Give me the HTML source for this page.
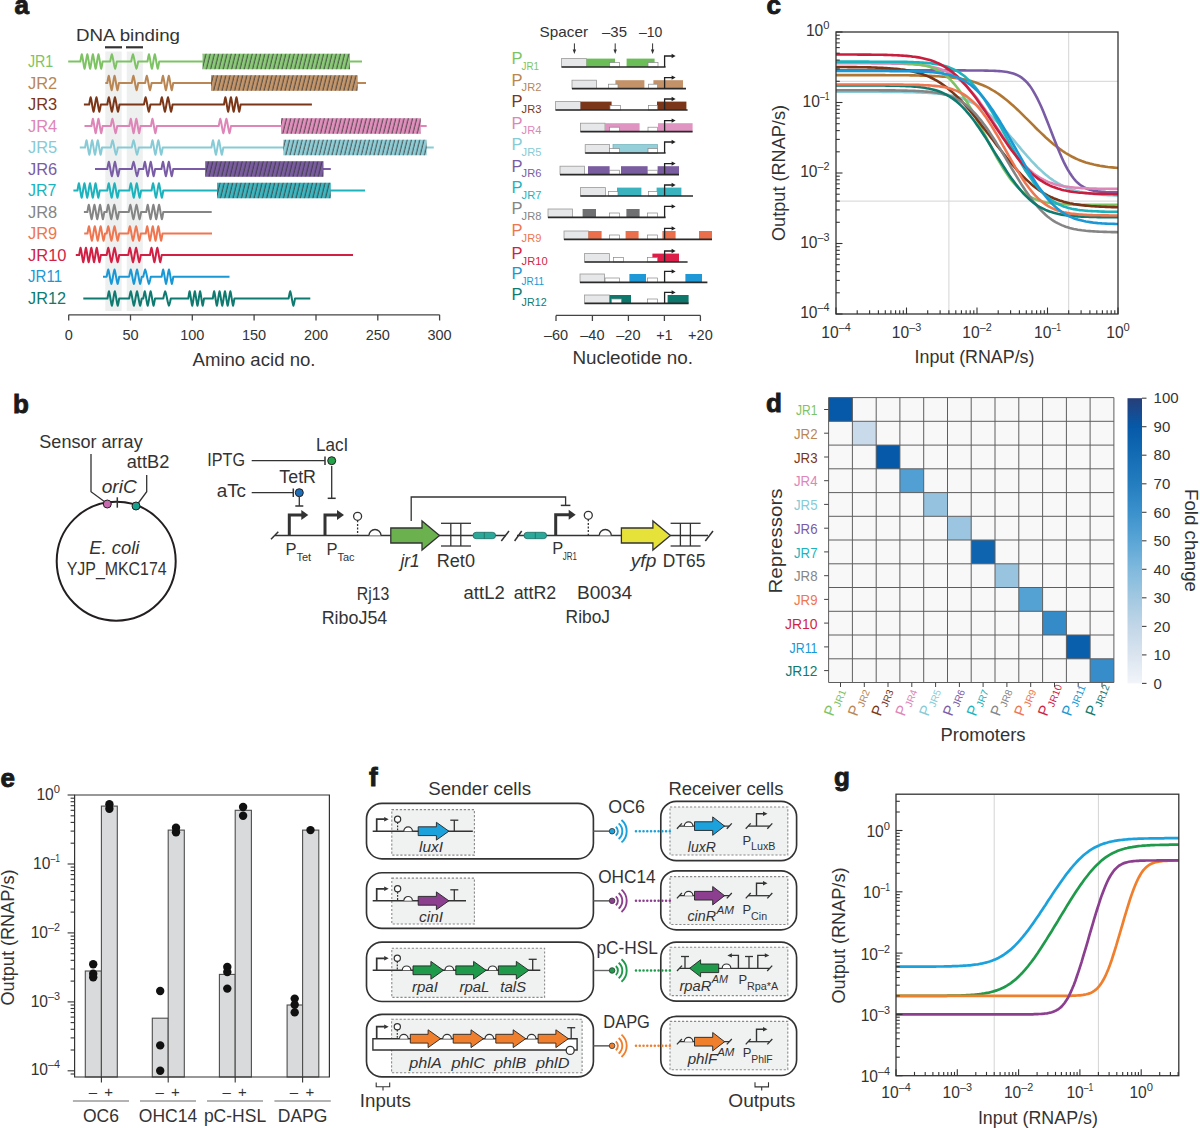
<!DOCTYPE html><html><head><meta charset="utf-8"><style>html,body{margin:0;padding:0;background:#fff;}svg{display:block;font-family:"Liberation Sans",sans-serif;}</style></head><body><svg width="1200" height="1128" viewBox="0 0 1200 1128" fill="#333333"><text x="14.5" y="14.2" font-size="26" font-weight="bold" fill="#1a1a1a" stroke="#1a1a1a" stroke-width="0.9">a</text>
<rect x="105.3" y="51.5" width="16.4" height="259.5" fill="#eef0f0"/>
<rect x="126.7" y="51.5" width="16.1" height="259.5" fill="#eef0f0"/>
<text x="76.0" y="41.0" font-size="17" textLength="104.0" lengthAdjust="spacingAndGlyphs">DNA binding</text>
<line x1="105.0" y1="47.3" x2="122.0" y2="47.3" stroke="#333333" stroke-width="2.2"/>
<line x1="126.0" y1="47.3" x2="143.0" y2="47.3" stroke="#333333" stroke-width="2.2"/>
<defs>
<pattern id="hJR1" patternUnits="userSpaceOnUse" width="4.2" height="16" patternTransform="skewX(-14)"><rect width="4.2" height="16" fill="#8ac978"/><line x1="1" y1="0" x2="1" y2="16" stroke="#333" stroke-width="0.85"/></pattern>
<pattern id="hJR2" patternUnits="userSpaceOnUse" width="4.2" height="16" patternTransform="skewX(-14)"><rect width="4.2" height="16" fill="#c3956a"/><line x1="1" y1="0" x2="1" y2="16" stroke="#333" stroke-width="0.85"/></pattern>
<pattern id="hJR4" patternUnits="userSpaceOnUse" width="4.2" height="16" patternTransform="skewX(-14)"><rect width="4.2" height="16" fill="#e08fbd"/><line x1="1" y1="0" x2="1" y2="16" stroke="#333" stroke-width="0.85"/></pattern>
<pattern id="hJR5" patternUnits="userSpaceOnUse" width="4.2" height="16" patternTransform="skewX(-14)"><rect width="4.2" height="16" fill="#8fcdd6"/><line x1="1" y1="0" x2="1" y2="16" stroke="#333" stroke-width="0.85"/></pattern>
<pattern id="hJR6" patternUnits="userSpaceOnUse" width="4.2" height="16" patternTransform="skewX(-14)"><rect width="4.2" height="16" fill="#7a5ca0"/><line x1="1" y1="0" x2="1" y2="16" stroke="#333" stroke-width="0.85"/></pattern>
<pattern id="hJR7" patternUnits="userSpaceOnUse" width="4.2" height="16" patternTransform="skewX(-14)"><rect width="4.2" height="16" fill="#3db6c0"/><line x1="1" y1="0" x2="1" y2="16" stroke="#333" stroke-width="0.85"/></pattern>
</defs>
<text x="28.0" y="67.1" font-size="17" textLength="25.2" lengthAdjust="spacingAndGlyphs" fill="#7dc363">JR1</text>
<path d="M68.20 61.50 L80.40 61.50 L80.63 60.00 L80.86 58.56 L81.09 57.23 L81.33 56.05 L81.56 55.07 L81.79 54.30 L82.02 55.07 L82.25 56.05 L82.48 57.23 L82.71 58.56 L82.94 60.00 L83.18 61.50 L83.41 63.00 L83.64 64.44 L83.87 65.77 L84.10 66.95 L84.33 67.93 L84.56 68.70 L84.79 67.93 L85.03 66.95 L85.26 65.77 L85.49 64.44 L85.72 63.00 L85.95 61.50 L86.18 60.00 L86.41 58.56 L86.64 57.23 L86.88 56.05 L87.11 55.07 L87.34 54.30 L87.57 55.07 L87.80 56.05 L88.03 57.23 L88.26 58.56 L88.49 60.00 L88.72 61.50 L88.96 63.00 L89.19 64.44 L89.42 65.77 L89.65 66.95 L89.88 67.93 L90.11 68.70 L90.34 67.93 L90.58 66.95 L90.81 65.77 L91.04 64.44 L91.27 63.00 L91.50 61.50 L91.73 60.00 L91.96 58.56 L92.19 57.23 L92.42 56.05 L92.66 55.07 L92.89 54.30 L93.12 55.07 L93.35 56.05 L93.58 57.23 L93.81 58.56 L94.04 60.00 L94.28 61.50 L94.51 63.00 L94.74 64.44 L94.97 65.77 L95.20 66.95 L95.43 67.93 L95.66 68.70 L95.89 67.93 L96.12 66.95 L96.36 65.77 L96.59 64.44 L96.82 63.00 L97.05 61.50 L97.28 60.00 L97.51 58.56 L97.74 57.23 L97.97 56.05 L98.21 55.07 L98.44 54.30 L98.67 55.07 L98.90 56.05 L99.13 57.23 L99.36 58.56 L99.59 60.00 L99.82 61.50 L100.06 63.00 L100.29 64.44 L100.52 65.77 L100.75 66.95 L100.98 67.93 L101.21 68.70 L101.44 67.93 L101.67 66.95 L101.91 65.77 L102.14 64.44 L102.37 63.00 L102.60 61.50 L110.20 61.50 L110.48 60.00 L110.75 58.56 L111.03 57.23 L111.30 56.05 L111.58 55.07 L111.85 54.30 L112.12 55.07 L112.40 56.05 L112.67 57.23 L112.95 58.56 L113.22 60.00 L113.50 61.50 L113.78 63.00 L114.05 64.44 L114.33 65.77 L114.60 66.95 L114.88 67.93 L115.15 68.70 L115.42 67.93 L115.70 66.95 L115.97 65.77 L116.25 64.44 L116.52 63.00 L116.80 61.50 L131.20 61.50 L131.49 60.00 L131.78 58.56 L132.07 57.23 L132.37 56.05 L132.66 55.07 L132.95 54.30 L133.24 55.07 L133.53 56.05 L133.82 57.23 L134.12 58.56 L134.41 60.00 L134.70 61.50 L134.99 63.00 L135.28 64.44 L135.57 65.77 L135.87 66.95 L136.16 67.93 L136.45 68.70 L136.74 67.93 L137.03 66.95 L137.32 65.77 L137.62 64.44 L137.91 63.00 L138.20 61.50 L147.50 61.50 L147.74 60.00 L147.99 58.56 L148.23 57.23 L148.47 56.05 L148.72 55.07 L148.96 54.30 L149.21 55.07 L149.45 56.05 L149.69 57.23 L149.94 58.56 L150.18 60.00 L150.43 61.50 L150.67 63.00 L150.91 64.44 L151.16 65.77 L151.40 66.95 L151.64 67.93 L151.89 68.70 L152.13 67.93 L152.38 66.95 L152.62 65.77 L152.86 64.44 L153.11 63.00 L153.35 61.50 L153.59 60.00 L153.84 58.56 L154.08 57.23 L154.32 56.05 L154.57 55.07 L154.81 54.30 L155.06 55.07 L155.30 56.05 L155.54 57.23 L155.79 58.56 L156.03 60.00 L156.27 61.50 L156.52 63.00 L156.76 64.44 L157.01 65.77 L157.25 66.95 L157.49 67.93 L157.74 68.70 L157.98 67.93 L158.22 66.95 L158.47 65.77 L158.71 64.44 L158.96 63.00 L159.20 61.50 L362.00 61.50" stroke="#7dc363" stroke-width="2.0" fill="none" stroke-linejoin="round"/>
<rect x="202.5" y="53.7" width="147.5" height="15.6" fill="url(#hJR1)"/>
<text x="28.0" y="88.6" font-size="17" textLength="29.2" lengthAdjust="spacingAndGlyphs" fill="#b98654">JR2</text>
<path d="M105.30 83.00 L107.30 83.00 L107.54 81.50 L107.78 80.06 L108.02 78.73 L108.27 77.55 L108.51 76.57 L108.75 75.80 L108.99 76.57 L109.23 77.55 L109.47 78.73 L109.72 80.06 L109.96 81.50 L110.20 83.00 L110.44 84.50 L110.68 85.94 L110.92 87.27 L111.17 88.45 L111.41 89.43 L111.65 90.20 L111.89 89.43 L112.13 88.45 L112.38 87.27 L112.62 85.94 L112.86 84.50 L113.10 83.00 L113.34 81.50 L113.58 80.06 L113.83 78.73 L114.07 77.55 L114.31 76.57 L114.55 75.80 L114.79 76.57 L115.03 77.55 L115.28 78.73 L115.52 80.06 L115.76 81.50 L116.00 83.00 L116.24 84.50 L116.48 85.94 L116.73 87.27 L116.97 88.45 L117.21 89.43 L117.45 90.20 L117.69 89.43 L117.93 88.45 L118.18 87.27 L118.42 85.94 L118.66 84.50 L118.90 83.00 L131.80 83.00 L132.07 81.50 L132.33 80.06 L132.60 78.73 L132.87 77.55 L133.13 76.57 L133.40 75.80 L133.67 76.57 L133.93 77.55 L134.20 78.73 L134.47 80.06 L134.73 81.50 L135.00 83.00 L135.27 84.50 L135.53 85.94 L135.80 87.27 L136.07 88.45 L136.33 89.43 L136.60 90.20 L136.87 89.43 L137.13 88.45 L137.40 87.27 L137.67 85.94 L137.93 84.50 L138.20 83.00 L145.20 83.00 L145.47 81.50 L145.73 80.06 L146.00 78.73 L146.27 77.55 L146.53 76.57 L146.80 75.80 L147.07 76.57 L147.33 77.55 L147.60 78.73 L147.87 80.06 L148.13 81.50 L148.40 83.00 L148.67 84.50 L148.93 85.94 L149.20 87.27 L149.47 88.45 L149.73 89.43 L150.00 90.20 L150.27 89.43 L150.53 88.45 L150.80 87.27 L151.07 85.94 L151.33 84.50 L151.60 83.00 L161.50 83.00 L161.74 81.50 L161.99 80.06 L162.23 78.73 L162.47 77.55 L162.72 76.57 L162.96 75.80 L163.21 76.57 L163.45 77.55 L163.69 78.73 L163.94 80.06 L164.18 81.50 L164.43 83.00 L164.67 84.50 L164.91 85.94 L165.16 87.27 L165.40 88.45 L165.64 89.43 L165.89 90.20 L166.13 89.43 L166.38 88.45 L166.62 87.27 L166.86 85.94 L167.11 84.50 L167.35 83.00 L167.59 81.50 L167.84 80.06 L168.08 78.73 L168.32 77.55 L168.57 76.57 L168.81 75.80 L169.06 76.57 L169.30 77.55 L169.54 78.73 L169.79 80.06 L170.03 81.50 L170.27 83.00 L170.52 84.50 L170.76 85.94 L171.01 87.27 L171.25 88.45 L171.49 89.43 L171.74 90.20 L171.98 89.43 L172.22 88.45 L172.47 87.27 L172.71 85.94 L172.96 84.50 L173.20 83.00 L366.00 83.00" stroke="#b98654" stroke-width="2.0" fill="none" stroke-linejoin="round"/>
<rect x="211.0" y="75.2" width="146.7" height="15.6" fill="url(#hJR2)"/>
<text x="28.0" y="110.1" font-size="17" textLength="29.2" lengthAdjust="spacingAndGlyphs" fill="#7b3517">JR3</text>
<path d="M83.90 104.50 L89.20 104.50 L89.44 103.00 L89.68 101.56 L89.92 100.23 L90.17 99.05 L90.41 98.07 L90.65 97.30 L90.89 98.07 L91.13 99.05 L91.38 100.23 L91.62 101.56 L91.86 103.00 L92.10 104.50 L92.34 106.00 L92.58 107.44 L92.83 108.77 L93.07 109.95 L93.31 110.93 L93.55 111.70 L93.79 110.93 L94.03 109.95 L94.28 108.77 L94.52 107.44 L94.76 106.00 L95.00 104.50 L95.24 103.00 L95.48 101.56 L95.72 100.23 L95.97 99.05 L96.21 98.07 L96.45 97.30 L96.69 98.07 L96.93 99.05 L97.17 100.23 L97.42 101.56 L97.66 103.00 L97.90 104.50 L98.14 106.00 L98.38 107.44 L98.62 108.77 L98.87 109.95 L99.11 110.93 L99.35 111.70 L99.59 110.93 L99.83 109.95 L100.08 108.77 L100.32 107.44 L100.56 106.00 L100.80 104.50 L107.30 104.50 L107.55 103.00 L107.81 101.56 L108.06 100.23 L108.32 99.05 L108.57 98.07 L108.83 97.30 L109.08 98.07 L109.33 99.05 L109.59 100.23 L109.84 101.56 L110.10 103.00 L110.35 104.50 L110.60 106.00 L110.86 107.44 L111.11 108.77 L111.37 109.95 L111.62 110.93 L111.88 111.70 L112.13 110.93 L112.38 109.95 L112.64 108.77 L112.89 107.44 L113.15 106.00 L113.40 104.50 L113.65 103.00 L113.91 101.56 L114.16 100.23 L114.42 99.05 L114.67 98.07 L114.92 97.30 L115.18 98.07 L115.43 99.05 L115.69 100.23 L115.94 101.56 L116.20 103.00 L116.45 104.50 L116.70 106.00 L116.96 107.44 L117.21 108.77 L117.47 109.95 L117.72 110.93 L117.97 111.70 L118.23 110.93 L118.48 109.95 L118.74 108.77 L118.99 107.44 L119.25 106.00 L119.50 104.50 L144.00 104.50 L144.27 103.00 L144.53 101.56 L144.80 100.23 L145.07 99.05 L145.33 98.07 L145.60 97.30 L145.87 98.07 L146.13 99.05 L146.40 100.23 L146.67 101.56 L146.93 103.00 L147.20 104.50 L147.47 106.00 L147.73 107.44 L148.00 108.77 L148.27 109.95 L148.53 110.93 L148.80 111.70 L149.07 110.93 L149.33 109.95 L149.60 108.77 L149.87 107.44 L150.13 106.00 L150.40 104.50 L160.30 104.50 L160.56 103.00 L160.81 101.56 L161.07 100.23 L161.33 99.05 L161.58 98.07 L161.84 97.30 L162.09 98.07 L162.35 99.05 L162.61 100.23 L162.86 101.56 L163.12 103.00 L163.38 104.50 L163.63 106.00 L163.89 107.44 L164.14 108.77 L164.40 109.95 L164.66 110.93 L164.91 111.70 L165.17 110.93 L165.43 109.95 L165.68 108.77 L165.94 107.44 L166.19 106.00 L166.45 104.50 L166.71 103.00 L166.96 101.56 L167.22 100.23 L167.47 99.05 L167.73 98.07 L167.99 97.30 L168.24 98.07 L168.50 99.05 L168.76 100.23 L169.01 101.56 L169.27 103.00 L169.53 104.50 L169.78 106.00 L170.04 107.44 L170.29 108.77 L170.55 109.95 L170.81 110.93 L171.06 111.70 L171.32 110.93 L171.57 109.95 L171.83 108.77 L172.09 107.44 L172.34 106.00 L172.60 104.50 L224.00 104.50 L224.23 103.00 L224.46 101.56 L224.69 100.23 L224.92 99.05 L225.15 98.07 L225.38 97.30 L225.61 98.07 L225.84 99.05 L226.07 100.23 L226.31 101.56 L226.54 103.00 L226.77 104.50 L227.00 106.00 L227.23 107.44 L227.46 108.77 L227.69 109.95 L227.92 110.93 L228.15 111.70 L228.38 110.93 L228.61 109.95 L228.84 108.77 L229.07 107.44 L229.30 106.00 L229.53 104.50 L229.76 103.00 L229.99 101.56 L230.22 100.23 L230.46 99.05 L230.69 98.07 L230.92 97.30 L231.15 98.07 L231.38 99.05 L231.61 100.23 L231.84 101.56 L232.07 103.00 L232.30 104.50 L232.53 106.00 L232.76 107.44 L232.99 108.77 L233.22 109.95 L233.45 110.93 L233.68 111.70 L233.91 110.93 L234.14 109.95 L234.38 108.77 L234.61 107.44 L234.84 106.00 L235.07 104.50 L235.30 103.00 L235.53 101.56 L235.76 100.23 L235.99 99.05 L236.22 98.07 L236.45 97.30 L236.68 98.07 L236.91 99.05 L237.14 100.23 L237.37 101.56 L237.60 103.00 L237.83 104.50 L238.06 106.00 L238.29 107.44 L238.53 108.77 L238.76 109.95 L238.99 110.93 L239.22 111.70 L239.45 110.93 L239.68 109.95 L239.91 108.77 L240.14 107.44 L240.37 106.00 L240.60 104.50 L311.90 104.50" stroke="#7b3517" stroke-width="2.0" fill="none" stroke-linejoin="round"/>
<text x="28.0" y="131.6" font-size="17" textLength="29.2" lengthAdjust="spacingAndGlyphs" fill="#de86b8">JR4</text>
<path d="M84.50 126.00 L91.50 126.00 L91.73 124.50 L91.96 123.06 L92.19 121.73 L92.42 120.55 L92.66 119.57 L92.89 118.80 L93.12 119.57 L93.35 120.55 L93.58 121.73 L93.81 123.06 L94.04 124.50 L94.28 126.00 L94.51 127.50 L94.74 128.94 L94.97 130.27 L95.20 131.45 L95.43 132.43 L95.66 133.20 L95.89 132.43 L96.12 131.45 L96.36 130.27 L96.59 128.94 L96.82 127.50 L97.05 126.00 L97.28 124.50 L97.51 123.06 L97.74 121.73 L97.97 120.55 L98.21 119.57 L98.44 118.80 L98.67 119.57 L98.90 120.55 L99.13 121.73 L99.36 123.06 L99.59 124.50 L99.82 126.00 L100.06 127.50 L100.29 128.94 L100.52 130.27 L100.75 131.45 L100.98 132.43 L101.21 133.20 L101.44 132.43 L101.67 131.45 L101.91 130.27 L102.14 128.94 L102.37 127.50 L102.60 126.00 L110.80 126.00 L111.07 124.50 L111.33 123.06 L111.60 121.73 L111.87 120.55 L112.13 119.57 L112.40 118.80 L112.67 119.57 L112.93 120.55 L113.20 121.73 L113.47 123.06 L113.73 124.50 L114.00 126.00 L114.27 127.50 L114.53 128.94 L114.80 130.27 L115.07 131.45 L115.33 132.43 L115.60 133.20 L115.87 132.43 L116.13 131.45 L116.40 130.27 L116.67 128.94 L116.93 127.50 L117.20 126.00 L129.40 126.00 L129.63 124.50 L129.86 123.06 L130.09 121.73 L130.33 120.55 L130.56 119.57 L130.79 118.80 L131.02 119.57 L131.25 120.55 L131.48 121.73 L131.71 123.06 L131.94 124.50 L132.18 126.00 L132.41 127.50 L132.64 128.94 L132.87 130.27 L133.10 131.45 L133.33 132.43 L133.56 133.20 L133.79 132.43 L134.03 131.45 L134.26 130.27 L134.49 128.94 L134.72 127.50 L134.95 126.00 L135.18 124.50 L135.41 123.06 L135.64 121.73 L135.88 120.55 L136.11 119.57 L136.34 118.80 L136.57 119.57 L136.80 120.55 L137.03 121.73 L137.26 123.06 L137.49 124.50 L137.72 126.00 L137.96 127.50 L138.19 128.94 L138.42 130.27 L138.65 131.45 L138.88 132.43 L139.11 133.20 L139.34 132.43 L139.57 131.45 L139.81 130.27 L140.04 128.94 L140.27 127.50 L140.50 126.00 L151.00 126.00 L151.24 124.50 L151.48 123.06 L151.72 121.73 L151.97 120.55 L152.21 119.57 L152.45 118.80 L152.69 119.57 L152.93 120.55 L153.18 121.73 L153.42 123.06 L153.66 124.50 L153.90 126.00 L154.14 127.50 L154.38 128.94 L154.62 130.27 L154.87 131.45 L155.11 132.43 L155.35 133.20 L155.59 132.43 L155.83 131.45 L156.08 130.27 L156.32 128.94 L156.56 127.50 L156.80 126.00 L218.75 126.00 L219.01 124.50 L219.26 123.06 L219.52 121.73 L219.77 120.55 L220.03 119.57 L220.28 118.80 L220.54 119.57 L220.79 120.55 L221.05 121.73 L221.30 123.06 L221.56 124.50 L221.81 126.00 L222.07 127.50 L222.32 128.94 L222.58 130.27 L222.83 131.45 L223.09 132.43 L223.34 133.20 L223.60 132.43 L223.85 131.45 L224.11 130.27 L224.36 128.94 L224.62 127.50 L224.88 126.00 L225.13 124.50 L225.39 123.06 L225.64 121.73 L225.90 120.55 L226.15 119.57 L226.41 118.80 L226.66 119.57 L226.92 120.55 L227.17 121.73 L227.43 123.06 L227.68 124.50 L227.94 126.00 L228.19 127.50 L228.45 128.94 L228.70 130.27 L228.96 131.45 L229.21 132.43 L229.47 133.20 L229.72 132.43 L229.98 131.45 L230.23 130.27 L230.49 128.94 L230.74 127.50 L231.00 126.00 L426.70 126.00" stroke="#de86b8" stroke-width="2.0" fill="none" stroke-linejoin="round"/>
<rect x="281.0" y="118.2" width="139.8" height="15.6" fill="url(#hJR4)"/>
<text x="28.0" y="153.1" font-size="17" textLength="29.2" lengthAdjust="spacingAndGlyphs" fill="#86cbd6">JR5</text>
<path d="M79.80 147.50 L85.10 147.50 L85.33 146.00 L85.57 144.56 L85.80 143.23 L86.04 142.05 L86.27 141.07 L86.51 140.30 L86.74 141.07 L86.98 142.05 L87.21 143.23 L87.45 144.56 L87.68 146.00 L87.92 147.50 L88.15 149.00 L88.39 150.44 L88.62 151.77 L88.86 152.95 L89.09 153.93 L89.32 154.70 L89.56 153.93 L89.79 152.95 L90.03 151.77 L90.26 150.44 L90.50 149.00 L90.73 147.50 L90.97 146.00 L91.20 144.56 L91.44 143.23 L91.67 142.05 L91.91 141.07 L92.14 140.30 L92.38 141.07 L92.61 142.05 L92.85 143.23 L93.08 144.56 L93.32 146.00 L93.55 147.50 L93.78 149.00 L94.02 150.44 L94.25 151.77 L94.49 152.95 L94.72 153.93 L94.96 154.70 L95.19 153.93 L95.43 152.95 L95.66 151.77 L95.90 150.44 L96.13 149.00 L96.37 147.50 L96.60 146.00 L96.84 144.56 L97.07 143.23 L97.31 142.05 L97.54 141.07 L97.78 140.30 L98.01 141.07 L98.24 142.05 L98.48 143.23 L98.71 144.56 L98.95 146.00 L99.18 147.50 L99.42 149.00 L99.65 150.44 L99.89 151.77 L100.12 152.95 L100.36 153.93 L100.59 154.70 L100.83 153.93 L101.06 152.95 L101.30 151.77 L101.53 150.44 L101.77 149.00 L102.00 147.50 L110.80 147.50 L111.09 146.00 L111.38 144.56 L111.67 143.23 L111.97 142.05 L112.26 141.07 L112.55 140.30 L112.84 141.07 L113.13 142.05 L113.42 143.23 L113.72 144.56 L114.01 146.00 L114.30 147.50 L114.59 149.00 L114.88 150.44 L115.17 151.77 L115.47 152.95 L115.76 153.93 L116.05 154.70 L116.34 153.93 L116.63 152.95 L116.92 151.77 L117.22 150.44 L117.51 149.00 L117.80 147.50 L131.80 147.50 L132.09 146.00 L132.38 144.56 L132.68 143.23 L132.97 142.05 L133.26 141.07 L133.55 140.30 L133.84 141.07 L134.13 142.05 L134.43 143.23 L134.72 144.56 L135.01 146.00 L135.30 147.50 L135.59 149.00 L135.88 150.44 L136.18 151.77 L136.47 152.95 L136.76 153.93 L137.05 154.70 L137.34 153.93 L137.63 152.95 L137.93 151.77 L138.22 150.44 L138.51 149.00 L138.80 147.50 L151.00 147.50 L151.24 146.00 L151.49 144.56 L151.73 143.23 L151.97 142.05 L152.22 141.07 L152.46 140.30 L152.71 141.07 L152.95 142.05 L153.19 143.23 L153.44 144.56 L153.68 146.00 L153.93 147.50 L154.17 149.00 L154.41 150.44 L154.66 151.77 L154.90 152.95 L155.14 153.93 L155.39 154.70 L155.63 153.93 L155.88 152.95 L156.12 151.77 L156.36 150.44 L156.61 149.00 L156.85 147.50 L157.09 146.00 L157.34 144.56 L157.58 143.23 L157.82 142.05 L158.07 141.07 L158.31 140.30 L158.56 141.07 L158.80 142.05 L159.04 143.23 L159.29 144.56 L159.53 146.00 L159.77 147.50 L160.02 149.00 L160.26 150.44 L160.51 151.77 L160.75 152.95 L160.99 153.93 L161.24 154.70 L161.48 153.93 L161.72 152.95 L161.97 151.77 L162.21 150.44 L162.46 149.00 L162.70 147.50 L211.50 147.50 L211.75 146.00 L211.99 144.56 L212.24 143.23 L212.48 142.05 L212.73 141.07 L212.97 140.30 L213.22 141.07 L213.47 142.05 L213.71 143.23 L213.96 144.56 L214.20 146.00 L214.45 147.50 L214.70 149.00 L214.94 150.44 L215.19 151.77 L215.43 152.95 L215.68 153.93 L215.93 154.70 L216.17 153.93 L216.42 152.95 L216.66 151.77 L216.91 150.44 L217.15 149.00 L217.40 147.50 L217.65 146.00 L217.89 144.56 L218.14 143.23 L218.38 142.05 L218.63 141.07 L218.88 140.30 L219.12 141.07 L219.37 142.05 L219.61 143.23 L219.86 144.56 L220.10 146.00 L220.35 147.50 L220.60 149.00 L220.84 150.44 L221.09 151.77 L221.33 152.95 L221.58 153.93 L221.83 154.70 L222.07 153.93 L222.32 152.95 L222.56 151.77 L222.81 150.44 L223.05 149.00 L223.30 147.50 L433.75 147.50" stroke="#86cbd6" stroke-width="2.0" fill="none" stroke-linejoin="round"/>
<rect x="283.3" y="139.7" width="143.4" height="15.6" fill="url(#hJR5)"/>
<text x="28.0" y="174.6" font-size="17" textLength="29.2" lengthAdjust="spacingAndGlyphs" fill="#7a5ca6">JR6</text>
<path d="M95.00 169.00 L107.30 169.00 L107.55 167.50 L107.81 166.06 L108.06 164.73 L108.32 163.55 L108.57 162.57 L108.83 161.80 L109.08 162.57 L109.33 163.55 L109.59 164.73 L109.84 166.06 L110.10 167.50 L110.35 169.00 L110.60 170.50 L110.86 171.94 L111.11 173.27 L111.37 174.45 L111.62 175.43 L111.88 176.20 L112.13 175.43 L112.38 174.45 L112.64 173.27 L112.89 171.94 L113.15 170.50 L113.40 169.00 L113.65 167.50 L113.91 166.06 L114.16 164.73 L114.42 163.55 L114.67 162.57 L114.92 161.80 L115.18 162.57 L115.43 163.55 L115.69 164.73 L115.94 166.06 L116.20 167.50 L116.45 169.00 L116.70 170.50 L116.96 171.94 L117.21 173.27 L117.47 174.45 L117.72 175.43 L117.97 176.20 L118.23 175.43 L118.48 174.45 L118.74 173.27 L118.99 171.94 L119.25 170.50 L119.50 169.00 L131.80 169.00 L132.09 167.50 L132.38 166.06 L132.68 164.73 L132.97 163.55 L133.26 162.57 L133.55 161.80 L133.84 162.57 L134.13 163.55 L134.43 164.73 L134.72 166.06 L135.01 167.50 L135.30 169.00 L135.59 170.50 L135.88 171.94 L136.18 173.27 L136.47 174.45 L136.76 175.43 L137.05 176.20 L137.34 175.43 L137.63 174.45 L137.93 173.27 L138.22 171.94 L138.51 170.50 L138.80 169.00 L143.40 169.00 L143.64 167.50 L143.89 166.06 L144.13 164.73 L144.38 163.55 L144.62 162.57 L144.86 161.80 L145.11 162.57 L145.35 163.55 L145.59 164.73 L145.84 166.06 L146.08 167.50 L146.32 169.00 L146.57 170.50 L146.81 171.94 L147.06 173.27 L147.30 174.45 L147.54 175.43 L147.79 176.20 L148.03 175.43 L148.28 174.45 L148.52 173.27 L148.76 171.94 L149.01 170.50 L149.25 169.00 L149.49 167.50 L149.74 166.06 L149.98 164.73 L150.22 163.55 L150.47 162.57 L150.71 161.80 L150.96 162.57 L151.20 163.55 L151.44 164.73 L151.69 166.06 L151.93 167.50 L152.18 169.00 L152.42 170.50 L152.66 171.94 L152.91 173.27 L153.15 174.45 L153.39 175.43 L153.64 176.20 L153.88 175.43 L154.12 174.45 L154.37 173.27 L154.61 171.94 L154.86 170.50 L155.10 169.00 L161.50 169.00 L161.74 167.50 L161.99 166.06 L162.23 164.73 L162.47 163.55 L162.72 162.57 L162.96 161.80 L163.21 162.57 L163.45 163.55 L163.69 164.73 L163.94 166.06 L164.18 167.50 L164.43 169.00 L164.67 170.50 L164.91 171.94 L165.16 173.27 L165.40 174.45 L165.64 175.43 L165.89 176.20 L166.13 175.43 L166.38 174.45 L166.62 173.27 L166.86 171.94 L167.11 170.50 L167.35 169.00 L167.59 167.50 L167.84 166.06 L168.08 164.73 L168.32 163.55 L168.57 162.57 L168.81 161.80 L169.06 162.57 L169.30 163.55 L169.54 164.73 L169.79 166.06 L170.03 167.50 L170.27 169.00 L170.52 170.50 L170.76 171.94 L171.01 173.27 L171.25 174.45 L171.49 175.43 L171.74 176.20 L171.98 175.43 L172.22 174.45 L172.47 173.27 L172.71 171.94 L172.96 170.50 L173.20 169.00 L330.80 169.00" stroke="#7a5ca6" stroke-width="2.0" fill="none" stroke-linejoin="round"/>
<rect x="205.2" y="161.2" width="118.3" height="15.6" fill="url(#hJR6)"/>
<text x="28.0" y="196.1" font-size="17" textLength="28.4" lengthAdjust="spacingAndGlyphs" fill="#1db3bd">JR7</text>
<path d="M73.40 190.50 L77.50 190.50 L77.73 189.00 L77.96 187.56 L78.19 186.23 L78.42 185.05 L78.66 184.07 L78.89 183.30 L79.12 184.07 L79.35 185.05 L79.58 186.23 L79.81 187.56 L80.04 189.00 L80.28 190.50 L80.51 192.00 L80.74 193.44 L80.97 194.77 L81.20 195.95 L81.43 196.93 L81.66 197.70 L81.89 196.93 L82.12 195.95 L82.36 194.77 L82.59 193.44 L82.82 192.00 L83.05 190.50 L83.28 189.00 L83.51 187.56 L83.74 186.23 L83.97 185.05 L84.21 184.07 L84.44 183.30 L84.67 184.07 L84.90 185.05 L85.13 186.23 L85.36 187.56 L85.59 189.00 L85.83 190.50 L86.06 192.00 L86.29 193.44 L86.52 194.77 L86.75 195.95 L86.98 196.93 L87.21 197.70 L87.44 196.93 L87.67 195.95 L87.91 194.77 L88.14 193.44 L88.37 192.00 L88.60 190.50 L88.83 189.00 L89.06 187.56 L89.29 186.23 L89.53 185.05 L89.76 184.07 L89.99 183.30 L90.22 184.07 L90.45 185.05 L90.68 186.23 L90.91 187.56 L91.14 189.00 L91.38 190.50 L91.61 192.00 L91.84 193.44 L92.07 194.77 L92.30 195.95 L92.53 196.93 L92.76 197.70 L92.99 196.93 L93.23 195.95 L93.46 194.77 L93.69 193.44 L93.92 192.00 L94.15 190.50 L94.38 189.00 L94.61 187.56 L94.84 186.23 L95.08 185.05 L95.31 184.07 L95.54 183.30 L95.77 184.07 L96.00 185.05 L96.23 186.23 L96.46 187.56 L96.69 189.00 L96.93 190.50 L97.16 192.00 L97.39 193.44 L97.62 194.77 L97.85 195.95 L98.08 196.93 L98.31 197.70 L98.54 196.93 L98.78 195.95 L99.01 194.77 L99.24 193.44 L99.47 192.00 L99.70 190.50 L107.30 190.50 L107.54 189.00 L107.78 187.56 L108.02 186.23 L108.27 185.05 L108.51 184.07 L108.75 183.30 L108.99 184.07 L109.23 185.05 L109.47 186.23 L109.72 187.56 L109.96 189.00 L110.20 190.50 L110.44 192.00 L110.68 193.44 L110.92 194.77 L111.17 195.95 L111.41 196.93 L111.65 197.70 L111.89 196.93 L112.13 195.95 L112.38 194.77 L112.62 193.44 L112.86 192.00 L113.10 190.50 L113.34 189.00 L113.58 187.56 L113.83 186.23 L114.07 185.05 L114.31 184.07 L114.55 183.30 L114.79 184.07 L115.03 185.05 L115.28 186.23 L115.52 187.56 L115.76 189.00 L116.00 190.50 L116.24 192.00 L116.48 193.44 L116.73 194.77 L116.97 195.95 L117.21 196.93 L117.45 197.70 L117.69 196.93 L117.93 195.95 L118.18 194.77 L118.42 193.44 L118.66 192.00 L118.90 190.50 L129.40 190.50 L129.64 189.00 L129.89 187.56 L130.13 186.23 L130.38 185.05 L130.62 184.07 L130.86 183.30 L131.11 184.07 L131.35 185.05 L131.59 186.23 L131.84 187.56 L132.08 189.00 L132.32 190.50 L132.57 192.00 L132.81 193.44 L133.06 194.77 L133.30 195.95 L133.54 196.93 L133.79 197.70 L134.03 196.93 L134.28 195.95 L134.52 194.77 L134.76 193.44 L135.01 192.00 L135.25 190.50 L135.49 189.00 L135.74 187.56 L135.98 186.23 L136.22 185.05 L136.47 184.07 L136.71 183.30 L136.96 184.07 L137.20 185.05 L137.44 186.23 L137.69 187.56 L137.93 189.00 L138.18 190.50 L138.42 192.00 L138.66 193.44 L138.91 194.77 L139.15 195.95 L139.39 196.93 L139.64 197.70 L139.88 196.93 L140.12 195.95 L140.37 194.77 L140.61 193.44 L140.86 192.00 L141.10 190.50 L151.60 190.50 L151.84 189.00 L152.09 187.56 L152.33 186.23 L152.57 185.05 L152.82 184.07 L153.06 183.30 L153.31 184.07 L153.55 185.05 L153.79 186.23 L154.04 187.56 L154.28 189.00 L154.53 190.50 L154.77 192.00 L155.01 193.44 L155.26 194.77 L155.50 195.95 L155.74 196.93 L155.99 197.70 L156.23 196.93 L156.47 195.95 L156.72 194.77 L156.96 193.44 L157.21 192.00 L157.45 190.50 L157.69 189.00 L157.94 187.56 L158.18 186.23 L158.43 185.05 L158.67 184.07 L158.91 183.30 L159.16 184.07 L159.40 185.05 L159.64 186.23 L159.89 187.56 L160.13 189.00 L160.38 190.50 L160.62 192.00 L160.86 193.44 L161.11 194.77 L161.35 195.95 L161.59 196.93 L161.84 197.70 L162.08 196.93 L162.33 195.95 L162.57 194.77 L162.81 193.44 L163.06 192.00 L163.30 190.50 L365.00 190.50" stroke="#1db3bd" stroke-width="2.0" fill="none" stroke-linejoin="round"/>
<rect x="217.0" y="182.7" width="113.8" height="15.6" fill="url(#hJR7)"/>
<text x="28.0" y="217.6" font-size="17" textLength="29.2" lengthAdjust="spacingAndGlyphs" fill="#858585">JR8</text>
<path d="M83.90 212.00 L87.40 212.00 L87.63 210.50 L87.87 209.06 L88.10 207.73 L88.34 206.55 L88.57 205.57 L88.81 204.80 L89.04 205.57 L89.28 206.55 L89.51 207.73 L89.75 209.06 L89.98 210.50 L90.22 212.00 L90.45 213.50 L90.69 214.94 L90.92 216.27 L91.16 217.45 L91.39 218.43 L91.62 219.20 L91.86 218.43 L92.09 217.45 L92.33 216.27 L92.56 214.94 L92.80 213.50 L93.03 212.00 L93.27 210.50 L93.50 209.06 L93.74 207.73 L93.97 206.55 L94.21 205.57 L94.44 204.80 L94.68 205.57 L94.91 206.55 L95.15 207.73 L95.38 209.06 L95.62 210.50 L95.85 212.00 L96.08 213.50 L96.32 214.94 L96.55 216.27 L96.79 217.45 L97.02 218.43 L97.26 219.20 L97.49 218.43 L97.73 217.45 L97.96 216.27 L98.20 214.94 L98.43 213.50 L98.67 212.00 L98.90 210.50 L99.14 209.06 L99.37 207.73 L99.61 206.55 L99.84 205.57 L100.08 204.80 L100.31 205.57 L100.54 206.55 L100.78 207.73 L101.01 209.06 L101.25 210.50 L101.48 212.00 L101.72 213.50 L101.95 214.94 L102.19 216.27 L102.42 217.45 L102.66 218.43 L102.89 219.20 L103.13 218.43 L103.36 217.45 L103.60 216.27 L103.83 214.94 L104.07 213.50 L104.30 212.00 L106.70 212.00 L106.95 210.50 L107.21 209.06 L107.46 207.73 L107.72 206.55 L107.97 205.57 L108.23 204.80 L108.48 205.57 L108.73 206.55 L108.99 207.73 L109.24 209.06 L109.50 210.50 L109.75 212.00 L110.00 213.50 L110.26 214.94 L110.51 216.27 L110.77 217.45 L111.02 218.43 L111.28 219.20 L111.53 218.43 L111.78 217.45 L112.04 216.27 L112.29 214.94 L112.55 213.50 L112.80 212.00 L113.05 210.50 L113.31 209.06 L113.56 207.73 L113.82 206.55 L114.07 205.57 L114.33 204.80 L114.58 205.57 L114.83 206.55 L115.09 207.73 L115.34 209.06 L115.60 210.50 L115.85 212.00 L116.10 213.50 L116.36 214.94 L116.61 216.27 L116.87 217.45 L117.12 218.43 L117.38 219.20 L117.63 218.43 L117.88 217.45 L118.14 216.27 L118.39 214.94 L118.65 213.50 L118.90 212.00 L128.80 212.00 L129.06 210.50 L129.31 209.06 L129.57 207.73 L129.83 206.55 L130.08 205.57 L130.34 204.80 L130.59 205.57 L130.85 206.55 L131.11 207.73 L131.36 209.06 L131.62 210.50 L131.88 212.00 L132.13 213.50 L132.39 214.94 L132.64 216.27 L132.90 217.45 L133.16 218.43 L133.41 219.20 L133.67 218.43 L133.93 217.45 L134.18 216.27 L134.44 214.94 L134.69 213.50 L134.95 212.00 L135.21 210.50 L135.46 209.06 L135.72 207.73 L135.97 206.55 L136.23 205.57 L136.49 204.80 L136.74 205.57 L137.00 206.55 L137.26 207.73 L137.51 209.06 L137.77 210.50 L138.03 212.00 L138.28 213.50 L138.54 214.94 L138.79 216.27 L139.05 217.45 L139.31 218.43 L139.56 219.20 L139.82 218.43 L140.07 217.45 L140.33 216.27 L140.59 214.94 L140.84 213.50 L141.10 212.00 L146.30 212.00 L146.54 210.50 L146.77 209.06 L147.01 207.73 L147.24 206.55 L147.48 205.57 L147.72 204.80 L147.95 205.57 L148.19 206.55 L148.43 207.73 L148.66 209.06 L148.90 210.50 L149.13 212.00 L149.37 213.50 L149.61 214.94 L149.84 216.27 L150.08 217.45 L150.31 218.43 L150.55 219.20 L150.79 218.43 L151.02 217.45 L151.26 216.27 L151.49 214.94 L151.73 213.50 L151.97 212.00 L152.20 210.50 L152.44 209.06 L152.68 207.73 L152.91 206.55 L153.15 205.57 L153.38 204.80 L153.62 205.57 L153.86 206.55 L154.09 207.73 L154.33 209.06 L154.56 210.50 L154.80 212.00 L155.04 213.50 L155.27 214.94 L155.51 216.27 L155.74 217.45 L155.98 218.43 L156.22 219.20 L156.45 218.43 L156.69 217.45 L156.93 216.27 L157.16 214.94 L157.40 213.50 L157.63 212.00 L157.87 210.50 L158.11 209.06 L158.34 207.73 L158.58 206.55 L158.81 205.57 L159.05 204.80 L159.29 205.57 L159.52 206.55 L159.76 207.73 L159.99 209.06 L160.23 210.50 L160.47 212.00 L160.70 213.50 L160.94 214.94 L161.18 216.27 L161.41 217.45 L161.65 218.43 L161.88 219.20 L162.12 218.43 L162.36 217.45 L162.59 216.27 L162.83 214.94 L163.06 213.50 L163.30 212.00 L211.70 212.00" stroke="#858585" stroke-width="2.0" fill="none" stroke-linejoin="round"/>
<text x="28.0" y="239.1" font-size="17" textLength="29.2" lengthAdjust="spacingAndGlyphs" fill="#ee7651">JR9</text>
<path d="M84.20 233.50 L87.50 233.50 L87.74 232.00 L87.99 230.56 L88.23 229.23 L88.47 228.05 L88.72 227.07 L88.96 226.30 L89.20 227.07 L89.44 228.05 L89.69 229.23 L89.93 230.56 L90.17 232.00 L90.42 233.50 L90.66 235.00 L90.90 236.44 L91.15 237.77 L91.39 238.95 L91.63 239.93 L91.88 240.70 L92.12 239.93 L92.36 238.95 L92.60 237.77 L92.85 236.44 L93.09 235.00 L93.33 233.50 L93.58 232.00 L93.82 230.56 L94.06 229.23 L94.31 228.05 L94.55 227.07 L94.79 226.30 L95.03 227.07 L95.28 228.05 L95.52 229.23 L95.76 230.56 L96.01 232.00 L96.25 233.50 L96.49 235.00 L96.74 236.44 L96.98 237.77 L97.22 238.95 L97.47 239.93 L97.71 240.70 L97.95 239.93 L98.19 238.95 L98.44 237.77 L98.68 236.44 L98.92 235.00 L99.17 233.50 L99.41 232.00 L99.65 230.56 L99.90 229.23 L100.14 228.05 L100.38 227.07 L100.62 226.30 L100.87 227.07 L101.11 228.05 L101.35 229.23 L101.60 230.56 L101.84 232.00 L102.08 233.50 L102.33 235.00 L102.57 236.44 L102.81 237.77 L103.06 238.95 L103.30 239.93 L103.54 240.70 L103.78 239.93 L104.03 238.95 L104.27 237.77 L104.51 236.44 L104.76 235.00 L105.00 233.50 L106.70 233.50 L106.96 232.00 L107.22 230.56 L107.48 229.23 L107.74 228.05 L108.00 227.07 L108.26 226.30 L108.52 227.07 L108.78 228.05 L109.04 229.23 L109.30 230.56 L109.56 232.00 L109.83 233.50 L110.09 235.00 L110.35 236.44 L110.61 237.77 L110.87 238.95 L111.13 239.93 L111.39 240.70 L111.65 239.93 L111.91 238.95 L112.17 237.77 L112.43 236.44 L112.69 235.00 L112.95 233.50 L113.21 232.00 L113.47 230.56 L113.73 229.23 L113.99 228.05 L114.25 227.07 L114.51 226.30 L114.77 227.07 L115.03 228.05 L115.29 229.23 L115.55 230.56 L115.81 232.00 L116.08 233.50 L116.34 235.00 L116.60 236.44 L116.86 237.77 L117.12 238.95 L117.38 239.93 L117.64 240.70 L117.90 239.93 L118.16 238.95 L118.42 237.77 L118.68 236.44 L118.94 235.00 L119.20 233.50 L128.30 233.50 L128.56 232.00 L128.82 230.56 L129.08 229.23 L129.34 228.05 L129.60 227.07 L129.86 226.30 L130.12 227.07 L130.38 228.05 L130.64 229.23 L130.90 230.56 L131.16 232.00 L131.43 233.50 L131.69 235.00 L131.95 236.44 L132.21 237.77 L132.47 238.95 L132.73 239.93 L132.99 240.70 L133.25 239.93 L133.51 238.95 L133.77 237.77 L134.03 236.44 L134.29 235.00 L134.55 233.50 L134.81 232.00 L135.07 230.56 L135.33 229.23 L135.59 228.05 L135.85 227.07 L136.11 226.30 L136.37 227.07 L136.63 228.05 L136.89 229.23 L137.15 230.56 L137.41 232.00 L137.68 233.50 L137.94 235.00 L138.20 236.44 L138.46 237.77 L138.72 238.95 L138.98 239.93 L139.24 240.70 L139.50 239.93 L139.76 238.95 L140.02 237.77 L140.28 236.44 L140.54 235.00 L140.80 233.50 L145.80 233.50 L146.03 232.00 L146.26 230.56 L146.50 229.23 L146.73 228.05 L146.96 227.07 L147.19 226.30 L147.42 227.07 L147.66 228.05 L147.89 229.23 L148.12 230.56 L148.35 232.00 L148.58 233.50 L148.82 235.00 L149.05 236.44 L149.28 237.77 L149.51 238.95 L149.74 239.93 L149.98 240.70 L150.21 239.93 L150.44 238.95 L150.67 237.77 L150.90 236.44 L151.13 235.00 L151.37 233.50 L151.60 232.00 L151.83 230.56 L152.06 229.23 L152.29 228.05 L152.53 227.07 L152.76 226.30 L152.99 227.07 L153.22 228.05 L153.45 229.23 L153.69 230.56 L153.92 232.00 L154.15 233.50 L154.38 235.00 L154.61 236.44 L154.85 237.77 L155.08 238.95 L155.31 239.93 L155.54 240.70 L155.77 239.93 L156.01 238.95 L156.24 237.77 L156.47 236.44 L156.70 235.00 L156.93 233.50 L157.17 232.00 L157.40 230.56 L157.63 229.23 L157.86 228.05 L158.09 227.07 L158.32 226.30 L158.56 227.07 L158.79 228.05 L159.02 229.23 L159.25 230.56 L159.48 232.00 L159.72 233.50 L159.95 235.00 L160.18 236.44 L160.41 237.77 L160.64 238.95 L160.88 239.93 L161.11 240.70 L161.34 239.93 L161.57 238.95 L161.80 237.77 L162.04 236.44 L162.27 235.00 L162.50 233.50 L212.00 233.50" stroke="#ee7651" stroke-width="2.0" fill="none" stroke-linejoin="round"/>
<text x="28.0" y="260.6" font-size="17" textLength="38.5" lengthAdjust="spacingAndGlyphs" fill="#d21f44">JR10</text>
<path d="M75.80 255.00 L79.20 255.00 L79.42 253.50 L79.65 252.06 L79.88 250.73 L80.10 249.55 L80.33 248.57 L80.55 247.80 L80.78 248.57 L81.00 249.55 L81.23 250.73 L81.45 252.06 L81.67 253.50 L81.90 255.00 L82.12 256.50 L82.35 257.94 L82.58 259.27 L82.80 260.45 L83.03 261.43 L83.25 262.20 L83.47 261.43 L83.70 260.45 L83.92 259.27 L84.15 257.94 L84.38 256.50 L84.60 255.00 L84.83 253.50 L85.05 252.06 L85.28 250.73 L85.50 249.55 L85.72 248.57 L85.95 247.80 L86.17 248.57 L86.40 249.55 L86.62 250.73 L86.85 252.06 L87.08 253.50 L87.30 255.00 L87.53 256.50 L87.75 257.94 L87.97 259.27 L88.20 260.45 L88.42 261.43 L88.65 262.20 L88.88 261.43 L89.10 260.45 L89.33 259.27 L89.55 257.94 L89.78 256.50 L90.00 255.00 L90.22 253.50 L90.45 252.06 L90.67 250.73 L90.90 249.55 L91.12 248.57 L91.35 247.80 L91.58 248.57 L91.80 249.55 L92.03 250.73 L92.25 252.06 L92.47 253.50 L92.70 255.00 L92.92 256.50 L93.15 257.94 L93.38 259.27 L93.60 260.45 L93.83 261.43 L94.05 262.20 L94.28 261.43 L94.50 260.45 L94.72 259.27 L94.95 257.94 L95.17 256.50 L95.40 255.00 L95.62 253.50 L95.85 252.06 L96.08 250.73 L96.30 249.55 L96.53 248.57 L96.75 247.80 L96.97 248.57 L97.20 249.55 L97.42 250.73 L97.65 252.06 L97.88 253.50 L98.10 255.00 L98.32 256.50 L98.55 257.94 L98.78 259.27 L99.00 260.45 L99.22 261.43 L99.45 262.20 L99.67 261.43 L99.90 260.45 L100.12 259.27 L100.35 257.94 L100.58 256.50 L100.80 255.00 L106.70 255.00 L106.96 253.50 L107.22 252.06 L107.48 250.73 L107.74 249.55 L108.00 248.57 L108.26 247.80 L108.52 248.57 L108.78 249.55 L109.04 250.73 L109.30 252.06 L109.56 253.50 L109.83 255.00 L110.09 256.50 L110.35 257.94 L110.61 259.27 L110.87 260.45 L111.13 261.43 L111.39 262.20 L111.65 261.43 L111.91 260.45 L112.17 259.27 L112.43 257.94 L112.69 256.50 L112.95 255.00 L113.21 253.50 L113.47 252.06 L113.73 250.73 L113.99 249.55 L114.25 248.57 L114.51 247.80 L114.77 248.57 L115.03 249.55 L115.29 250.73 L115.55 252.06 L115.81 253.50 L116.08 255.00 L116.34 256.50 L116.60 257.94 L116.86 259.27 L117.12 260.45 L117.38 261.43 L117.64 262.20 L117.90 261.43 L118.16 260.45 L118.42 259.27 L118.68 257.94 L118.94 256.50 L119.20 255.00 L128.30 255.00 L128.56 253.50 L128.82 252.06 L129.08 250.73 L129.34 249.55 L129.60 248.57 L129.86 247.80 L130.12 248.57 L130.38 249.55 L130.64 250.73 L130.90 252.06 L131.16 253.50 L131.43 255.00 L131.69 256.50 L131.95 257.94 L132.21 259.27 L132.47 260.45 L132.73 261.43 L132.99 262.20 L133.25 261.43 L133.51 260.45 L133.77 259.27 L134.03 257.94 L134.29 256.50 L134.55 255.00 L134.81 253.50 L135.07 252.06 L135.33 250.73 L135.59 249.55 L135.85 248.57 L136.11 247.80 L136.37 248.57 L136.63 249.55 L136.89 250.73 L137.15 252.06 L137.41 253.50 L137.68 255.00 L137.94 256.50 L138.20 257.94 L138.46 259.27 L138.72 260.45 L138.98 261.43 L139.24 262.20 L139.50 261.43 L139.76 260.45 L140.02 259.27 L140.28 257.94 L140.54 256.50 L140.80 255.00 L150.00 255.00 L150.24 253.50 L150.49 252.06 L150.73 250.73 L150.97 249.55 L151.22 248.57 L151.46 247.80 L151.71 248.57 L151.95 249.55 L152.19 250.73 L152.44 252.06 L152.68 253.50 L152.93 255.00 L153.17 256.50 L153.41 257.94 L153.66 259.27 L153.90 260.45 L154.14 261.43 L154.39 262.20 L154.63 261.43 L154.88 260.45 L155.12 259.27 L155.36 257.94 L155.61 256.50 L155.85 255.00 L156.09 253.50 L156.34 252.06 L156.58 250.73 L156.82 249.55 L157.07 248.57 L157.31 247.80 L157.56 248.57 L157.80 249.55 L158.04 250.73 L158.29 252.06 L158.53 253.50 L158.77 255.00 L159.02 256.50 L159.26 257.94 L159.51 259.27 L159.75 260.45 L159.99 261.43 L160.24 262.20 L160.48 261.43 L160.72 260.45 L160.97 259.27 L161.21 257.94 L161.46 256.50 L161.70 255.00 L353.00 255.00" stroke="#d21f44" stroke-width="2.0" fill="none" stroke-linejoin="round"/>
<text x="28.0" y="282.3" font-size="17" textLength="34.0" lengthAdjust="spacingAndGlyphs" fill="#1a98d5">JR11</text>
<path d="M103.00 276.70 L106.70 276.70 L106.96 275.20 L107.22 273.76 L107.48 272.43 L107.74 271.25 L108.00 270.27 L108.26 269.50 L108.52 270.27 L108.78 271.25 L109.04 272.43 L109.30 273.76 L109.56 275.20 L109.83 276.70 L110.09 278.20 L110.35 279.64 L110.61 280.97 L110.87 282.15 L111.13 283.13 L111.39 283.90 L111.65 283.13 L111.91 282.15 L112.17 280.97 L112.43 279.64 L112.69 278.20 L112.95 276.70 L113.21 275.20 L113.47 273.76 L113.73 272.43 L113.99 271.25 L114.25 270.27 L114.51 269.50 L114.77 270.27 L115.03 271.25 L115.29 272.43 L115.55 273.76 L115.81 275.20 L116.08 276.70 L116.34 278.20 L116.60 279.64 L116.86 280.97 L117.12 282.15 L117.38 283.13 L117.64 283.90 L117.90 283.13 L118.16 282.15 L118.42 280.97 L118.68 279.64 L118.94 278.20 L119.20 276.70 L129.20 276.70 L129.46 275.20 L129.72 273.76 L129.98 272.43 L130.24 271.25 L130.50 270.27 L130.76 269.50 L131.02 270.27 L131.28 271.25 L131.54 272.43 L131.80 273.76 L132.06 275.20 L132.32 276.70 L132.59 278.20 L132.85 279.64 L133.11 280.97 L133.37 282.15 L133.63 283.13 L133.89 283.90 L134.15 283.13 L134.41 282.15 L134.67 280.97 L134.93 279.64 L135.19 278.20 L135.45 276.70 L135.71 275.20 L135.97 273.76 L136.23 272.43 L136.49 271.25 L136.75 270.27 L137.01 269.50 L137.27 270.27 L137.53 271.25 L137.79 272.43 L138.05 273.76 L138.31 275.20 L138.57 276.70 L138.84 278.20 L139.10 279.64 L139.36 280.97 L139.62 282.15 L139.88 283.13 L140.14 283.90 L140.40 283.13 L140.66 282.15 L140.92 280.97 L141.18 279.64 L141.44 278.20 L141.70 276.70 L143.30 276.70 L143.61 275.20 L143.93 273.76 L144.24 272.43 L144.55 271.25 L144.86 270.27 L145.18 269.50 L145.49 270.27 L145.80 271.25 L146.11 272.43 L146.43 273.76 L146.74 275.20 L147.05 276.70 L147.36 278.20 L147.68 279.64 L147.99 280.97 L148.30 282.15 L148.61 283.13 L148.93 283.90 L149.24 283.13 L149.55 282.15 L149.86 280.97 L150.18 279.64 L150.49 278.20 L150.80 276.70 L161.70 276.70 L161.94 275.20 L162.18 273.76 L162.42 272.43 L162.67 271.25 L162.91 270.27 L163.15 269.50 L163.39 270.27 L163.63 271.25 L163.88 272.43 L164.12 273.76 L164.36 275.20 L164.60 276.70 L164.84 278.20 L165.08 279.64 L165.32 280.97 L165.57 282.15 L165.81 283.13 L166.05 283.90 L166.29 283.13 L166.53 282.15 L166.78 280.97 L167.02 279.64 L167.26 278.20 L167.50 276.70 L167.74 275.20 L167.98 273.76 L168.22 272.43 L168.47 271.25 L168.71 270.27 L168.95 269.50 L169.19 270.27 L169.43 271.25 L169.68 272.43 L169.92 273.76 L170.16 275.20 L170.40 276.70 L170.64 278.20 L170.88 279.64 L171.12 280.97 L171.37 282.15 L171.61 283.13 L171.85 283.90 L172.09 283.13 L172.33 282.15 L172.58 280.97 L172.82 279.64 L173.06 278.20 L173.30 276.70 L229.50 276.70" stroke="#1a98d5" stroke-width="2.0" fill="none" stroke-linejoin="round"/>
<text x="28.0" y="304.1" font-size="17" textLength="38.0" lengthAdjust="spacingAndGlyphs" fill="#0f7a70">JR12</text>
<path d="M83.30 298.50 L107.50 298.50 L107.74 297.00 L107.99 295.56 L108.23 294.23 L108.47 293.05 L108.72 292.07 L108.96 291.30 L109.21 292.07 L109.45 293.05 L109.69 294.23 L109.94 295.56 L110.18 297.00 L110.42 298.50 L110.67 300.00 L110.91 301.44 L111.16 302.77 L111.40 303.95 L111.64 304.93 L111.89 305.70 L112.13 304.93 L112.38 303.95 L112.62 302.77 L112.86 301.44 L113.11 300.00 L113.35 298.50 L113.59 297.00 L113.84 295.56 L114.08 294.23 L114.33 293.05 L114.57 292.07 L114.81 291.30 L115.06 292.07 L115.30 293.05 L115.54 294.23 L115.79 295.56 L116.03 297.00 L116.28 298.50 L116.52 300.00 L116.76 301.44 L117.01 302.77 L117.25 303.95 L117.49 304.93 L117.74 305.70 L117.98 304.93 L118.22 303.95 L118.47 302.77 L118.71 301.44 L118.96 300.00 L119.20 298.50 L129.20 298.50 L129.46 297.00 L129.72 295.56 L129.98 294.23 L130.24 293.05 L130.50 292.07 L130.76 291.30 L131.02 292.07 L131.28 293.05 L131.54 294.23 L131.80 295.56 L132.06 297.00 L132.32 298.50 L132.59 300.00 L132.85 301.44 L133.11 302.77 L133.37 303.95 L133.63 304.93 L133.89 305.70 L134.15 304.93 L134.41 303.95 L134.67 302.77 L134.93 301.44 L135.19 300.00 L135.45 298.50 L135.71 297.00 L135.97 295.56 L136.23 294.23 L136.49 293.05 L136.75 292.07 L137.01 291.30 L137.27 292.07 L137.53 293.05 L137.79 294.23 L138.05 295.56 L138.31 297.00 L138.57 298.50 L138.84 300.00 L139.10 301.44 L139.36 302.77 L139.62 303.95 L139.88 304.93 L140.14 305.70 L140.40 304.93 L140.66 303.95 L140.92 302.77 L141.18 301.44 L141.44 300.00 L141.70 298.50 L143.30 298.50 L143.54 297.00 L143.79 295.56 L144.03 294.23 L144.28 293.05 L144.52 292.07 L144.76 291.30 L145.01 292.07 L145.25 293.05 L145.49 294.23 L145.74 295.56 L145.98 297.00 L146.23 298.50 L146.47 300.00 L146.71 301.44 L146.96 302.77 L147.20 303.95 L147.44 304.93 L147.69 305.70 L147.93 304.93 L148.18 303.95 L148.42 302.77 L148.66 301.44 L148.91 300.00 L149.15 298.50 L149.39 297.00 L149.64 295.56 L149.88 294.23 L150.12 293.05 L150.37 292.07 L150.61 291.30 L150.86 292.07 L151.10 293.05 L151.34 294.23 L151.59 295.56 L151.83 297.00 L152.07 298.50 L152.32 300.00 L152.56 301.44 L152.81 302.77 L153.05 303.95 L153.29 304.93 L153.54 305.70 L153.78 304.93 L154.03 303.95 L154.27 302.77 L154.51 301.44 L154.76 300.00 L155.00 298.50 L163.30 298.50 L163.61 297.00 L163.93 295.56 L164.24 294.23 L164.55 293.05 L164.86 292.07 L165.18 291.30 L165.49 292.07 L165.80 293.05 L166.11 294.23 L166.43 295.56 L166.74 297.00 L167.05 298.50 L167.36 300.00 L167.68 301.44 L167.99 302.77 L168.30 303.95 L168.61 304.93 L168.93 305.70 L169.24 304.93 L169.55 303.95 L169.86 302.77 L170.18 301.44 L170.49 300.00 L170.80 298.50 L188.30 298.50 L188.52 297.00 L188.74 295.56 L188.95 294.23 L189.17 293.05 L189.39 292.07 L189.61 291.30 L189.83 292.07 L190.04 293.05 L190.26 294.23 L190.48 295.56 L190.70 297.00 L190.92 298.50 L191.13 300.00 L191.35 301.44 L191.57 302.77 L191.79 303.95 L192.01 304.93 L192.23 305.70 L192.44 304.93 L192.66 303.95 L192.88 302.77 L193.10 301.44 L193.32 300.00 L193.53 298.50 L193.75 297.00 L193.97 295.56 L194.19 294.23 L194.41 293.05 L194.62 292.07 L194.84 291.30 L195.06 292.07 L195.28 293.05 L195.50 294.23 L195.71 295.56 L195.93 297.00 L196.15 298.50 L196.37 300.00 L196.59 301.44 L196.80 302.77 L197.02 303.95 L197.24 304.93 L197.46 305.70 L197.68 304.93 L197.89 303.95 L198.11 302.77 L198.33 301.44 L198.55 300.00 L198.77 298.50 L198.98 297.00 L199.20 295.56 L199.42 294.23 L199.64 293.05 L199.86 292.07 L200.07 291.30 L200.29 292.07 L200.51 293.05 L200.73 294.23 L200.95 295.56 L201.17 297.00 L201.38 298.50 L201.60 300.00 L201.82 301.44 L202.04 302.77 L202.26 303.95 L202.47 304.93 L202.69 305.70 L202.91 304.93 L203.13 303.95 L203.35 302.77 L203.56 301.44 L203.78 300.00 L204.00 298.50 L212.80 298.50 L213.03 297.00 L213.25 295.56 L213.48 294.23 L213.70 293.05 L213.93 292.07 L214.15 291.30 L214.38 292.07 L214.60 293.05 L214.83 294.23 L215.05 295.56 L215.28 297.00 L215.50 298.50 L215.73 300.00 L215.95 301.44 L216.18 302.77 L216.40 303.95 L216.62 304.93 L216.85 305.70 L217.08 304.93 L217.30 303.95 L217.53 302.77 L217.75 301.44 L217.98 300.00 L218.20 298.50 L218.43 297.00 L218.65 295.56 L218.88 294.23 L219.10 293.05 L219.33 292.07 L219.55 291.30 L219.78 292.07 L220.00 293.05 L220.23 294.23 L220.45 295.56 L220.68 297.00 L220.90 298.50 L221.12 300.00 L221.35 301.44 L221.58 302.77 L221.80 303.95 L222.03 304.93 L222.25 305.70 L222.48 304.93 L222.70 303.95 L222.93 302.77 L223.15 301.44 L223.38 300.00 L223.60 298.50 L223.83 297.00 L224.05 295.56 L224.28 294.23 L224.50 293.05 L224.73 292.07 L224.95 291.30 L225.18 292.07 L225.40 293.05 L225.62 294.23 L225.85 295.56 L226.08 297.00 L226.30 298.50 L226.53 300.00 L226.75 301.44 L226.98 302.77 L227.20 303.95 L227.43 304.93 L227.65 305.70 L227.88 304.93 L228.10 303.95 L228.33 302.77 L228.55 301.44 L228.78 300.00 L229.00 298.50 L229.22 297.00 L229.45 295.56 L229.68 294.23 L229.90 293.05 L230.12 292.07 L230.35 291.30 L230.58 292.07 L230.80 293.05 L231.03 294.23 L231.25 295.56 L231.48 297.00 L231.70 298.50 L231.93 300.00 L232.15 301.44 L232.38 302.77 L232.60 303.95 L232.83 304.93 L233.05 305.70 L233.28 304.93 L233.50 303.95 L233.72 302.77 L233.95 301.44 L234.18 300.00 L234.40 298.50 L288.60 298.50 L288.87 297.00 L289.13 295.56 L289.40 294.23 L289.67 293.05 L289.93 292.07 L290.20 291.30 L290.47 292.07 L290.73 293.05 L291.00 294.23 L291.27 295.56 L291.53 297.00 L291.80 298.50 L292.07 300.00 L292.33 301.44 L292.60 302.77 L292.87 303.95 L293.13 304.93 L293.40 305.70 L293.67 304.93 L293.93 303.95 L294.20 302.77 L294.47 301.44 L294.73 300.00 L295.00 298.50 L310.30 298.50" stroke="#0f7a70" stroke-width="2.0" fill="none" stroke-linejoin="round"/>
<line x1="68.7" y1="314.8" x2="439.6" y2="314.8" stroke="#444" stroke-width="1.3"/>
<line x1="68.7" y1="314.8" x2="68.7" y2="320.5" stroke="#444" stroke-width="1.3"/>
<text x="68.7" y="339.8" font-size="14.5" text-anchor="middle">0</text>
<line x1="130.5" y1="314.8" x2="130.5" y2="320.5" stroke="#444" stroke-width="1.3"/>
<text x="130.5" y="339.8" font-size="14.5" text-anchor="middle">50</text>
<line x1="192.3" y1="314.8" x2="192.3" y2="320.5" stroke="#444" stroke-width="1.3"/>
<text x="192.3" y="339.8" font-size="14.5" text-anchor="middle">100</text>
<line x1="254.1" y1="314.8" x2="254.1" y2="320.5" stroke="#444" stroke-width="1.3"/>
<text x="254.1" y="339.8" font-size="14.5" text-anchor="middle">150</text>
<line x1="316.0" y1="314.8" x2="316.0" y2="320.5" stroke="#444" stroke-width="1.3"/>
<text x="316.0" y="339.8" font-size="14.5" text-anchor="middle">200</text>
<line x1="377.8" y1="314.8" x2="377.8" y2="320.5" stroke="#444" stroke-width="1.3"/>
<text x="377.8" y="339.8" font-size="14.5" text-anchor="middle">250</text>
<line x1="439.6" y1="314.8" x2="439.6" y2="320.5" stroke="#444" stroke-width="1.3"/>
<text x="439.6" y="339.8" font-size="14.5" text-anchor="middle">300</text>
<text x="254.0" y="365.8" font-size="17.5" text-anchor="middle" textLength="123.0" lengthAdjust="spacingAndGlyphs">Amino acid no.</text>
<text x="539.6" y="37.4" font-size="14.5" textLength="48.4" lengthAdjust="spacingAndGlyphs">Spacer</text>
<text x="602.0" y="37.4" font-size="14.5" textLength="25.0" lengthAdjust="spacingAndGlyphs">–35</text>
<text x="639.0" y="37.4" font-size="14.5" textLength="23.4" lengthAdjust="spacingAndGlyphs">–10</text>
<line x1="574.4" y1="43.4" x2="574.4" y2="50.0" stroke="#333" stroke-width="1.0"/>
<path d="M572.7 49.5 L574.4 54 L576.1 49.5 Z" stroke="none" stroke-width="1.5" fill="#333"/>
<line x1="615.2" y1="43.4" x2="615.2" y2="50.0" stroke="#333" stroke-width="1.0"/>
<path d="M613.5 49.5 L615.2 54 L616.9 49.5 Z" stroke="none" stroke-width="1.5" fill="#333"/>
<line x1="652.6" y1="43.4" x2="652.6" y2="50.0" stroke="#333" stroke-width="1.0"/>
<path d="M650.9 49.5 L652.6 54 L654.3 49.5 Z" stroke="none" stroke-width="1.5" fill="#333"/>
<text x="511.6" y="64.0" font-size="16.5" fill="#7dc363">P</text>
<text x="521.6" y="69.6" font-size="11.5" textLength="17.5" lengthAdjust="spacingAndGlyphs" fill="#7dc363">JR1</text>
<rect x="561.6" y="58.6" width="25.0" height="8.4" fill="#e6e7e8" stroke="#9a9a9a" stroke-width="0.8"/>
<rect x="586.6" y="58.6" width="28.4" height="8.4" fill="#6bbd57"/>
<rect x="626.6" y="58.6" width="28.0" height="8.4" fill="#6bbd57"/>
<rect x="609.6" y="62.6" width="10.0" height="4.4" fill="#fff" stroke="#888" stroke-width="0.7"/>
<rect x="648.0" y="62.6" width="10.0" height="4.4" fill="#fff" stroke="#888" stroke-width="0.7"/>
<line x1="561.6" y1="67.0" x2="665.6" y2="67.0" stroke="#2a2a2a" stroke-width="1.7"/>
<path d="M664.6 67 V56 H672.6" stroke="#222" stroke-width="1.3" fill="none"/>
<path d="M671.6 53.8 L675.6 56 L671.6 58.2 Z" stroke="none" stroke-width="1.5" fill="#222"/>
<text x="511.6" y="85.6" font-size="16.5" fill="#b98654">P</text>
<text x="521.6" y="91.2" font-size="11.5" textLength="19.8" lengthAdjust="spacingAndGlyphs" fill="#b98654">JR2</text>
<rect x="572.0" y="80.2" width="24.6" height="8.4" fill="#e6e7e8" stroke="#9a9a9a" stroke-width="0.8"/>
<rect x="615.4" y="80.2" width="29.0" height="8.4" fill="#c39269"/>
<rect x="653.4" y="80.2" width="29.6" height="8.4" fill="#c39269"/>
<rect x="608.4" y="84.2" width="9.6" height="4.4" fill="#fff" stroke="#888" stroke-width="0.7"/>
<rect x="648.4" y="84.2" width="9.2" height="4.4" fill="#fff" stroke="#888" stroke-width="0.7"/>
<line x1="572.0" y1="88.6" x2="686.0" y2="88.6" stroke="#2a2a2a" stroke-width="1.7"/>
<path d="M664.6 88.6 V77.6 H672.6" stroke="#222" stroke-width="1.3" fill="none"/>
<path d="M671.6 75.39999999999999 L675.6 77.6 L671.6 79.8 Z" stroke="none" stroke-width="1.5" fill="#222"/>
<text x="511.6" y="107.0" font-size="16.5" fill="#7b3517">P</text>
<text x="521.6" y="112.6" font-size="11.5" textLength="19.8" lengthAdjust="spacingAndGlyphs" fill="#7b3517">JR3</text>
<rect x="555.6" y="101.6" width="25.0" height="8.4" fill="#e6e7e8" stroke="#9a9a9a" stroke-width="0.8"/>
<rect x="580.6" y="101.6" width="31.0" height="8.4" fill="#7b3518"/>
<rect x="657.0" y="101.6" width="29.4" height="8.4" fill="#7b3518"/>
<rect x="610.0" y="105.6" width="10.4" height="4.4" fill="#fff" stroke="#888" stroke-width="0.7"/>
<rect x="648.4" y="105.6" width="9.2" height="4.4" fill="#fff" stroke="#888" stroke-width="0.7"/>
<line x1="555.6" y1="110.0" x2="687.6" y2="110.0" stroke="#2a2a2a" stroke-width="1.7"/>
<path d="M664.6 110 V99 H672.6" stroke="#222" stroke-width="1.3" fill="none"/>
<path d="M671.6 96.8 L675.6 99 L671.6 101.2 Z" stroke="none" stroke-width="1.5" fill="#222"/>
<text x="511.6" y="128.6" font-size="16.5" fill="#de86b8">P</text>
<text x="521.6" y="134.2" font-size="11.5" textLength="19.8" lengthAdjust="spacingAndGlyphs" fill="#de86b8">JR4</text>
<rect x="580.4" y="123.2" width="24.6" height="8.4" fill="#e6e7e8" stroke="#9a9a9a" stroke-width="0.8"/>
<rect x="605.0" y="123.2" width="34.6" height="8.4" fill="#e094c2"/>
<rect x="658.0" y="123.2" width="34.6" height="8.4" fill="#e094c2"/>
<rect x="609.6" y="127.2" width="10.0" height="4.4" fill="#fff" stroke="#888" stroke-width="0.7"/>
<rect x="648.0" y="127.2" width="9.6" height="4.4" fill="#fff" stroke="#888" stroke-width="0.7"/>
<line x1="580.4" y1="131.6" x2="692.6" y2="131.6" stroke="#2a2a2a" stroke-width="1.7"/>
<path d="M664.6 131.6 V120.6 H672.6" stroke="#222" stroke-width="1.3" fill="none"/>
<path d="M671.6 118.39999999999999 L675.6 120.6 L671.6 122.8 Z" stroke="none" stroke-width="1.5" fill="#222"/>
<text x="511.6" y="150.0" font-size="16.5" fill="#86cbd6">P</text>
<text x="521.6" y="155.6" font-size="11.5" textLength="19.8" lengthAdjust="spacingAndGlyphs" fill="#86cbd6">JR5</text>
<rect x="585.2" y="144.6" width="24.4" height="8.4" fill="#e6e7e8" stroke="#9a9a9a" stroke-width="0.8"/>
<rect x="613.0" y="144.6" width="44.6" height="8.4" fill="#95d0da" stroke="#5aa5b0" stroke-width="0.6"/>
<rect x="609.6" y="148.6" width="10.0" height="4.4" fill="#fff" stroke="#888" stroke-width="0.7"/>
<rect x="648.0" y="148.6" width="9.6" height="4.4" fill="#fff" stroke="#888" stroke-width="0.7"/>
<line x1="585.2" y1="153.0" x2="665.6" y2="153.0" stroke="#2a2a2a" stroke-width="1.7"/>
<path d="M664.6 153 V142 H672.6" stroke="#222" stroke-width="1.3" fill="none"/>
<path d="M671.6 139.8 L675.6 142 L671.6 144.2 Z" stroke="none" stroke-width="1.5" fill="#222"/>
<text x="511.6" y="171.6" font-size="16.5" fill="#7a5ca6">P</text>
<text x="521.6" y="177.2" font-size="11.5" textLength="19.8" lengthAdjust="spacingAndGlyphs" fill="#7a5ca6">JR6</text>
<rect x="560.0" y="166.2" width="24.6" height="8.4" fill="#e6e7e8" stroke="#9a9a9a" stroke-width="0.8"/>
<rect x="588.0" y="166.2" width="21.6" height="8.4" fill="#7a5ca0"/>
<rect x="621.0" y="166.2" width="26.6" height="8.4" fill="#7a5ca0"/>
<rect x="657.6" y="166.2" width="21.4" height="8.4" fill="#7a5ca0"/>
<rect x="609.6" y="170.2" width="10.0" height="4.4" fill="#fff" stroke="#888" stroke-width="0.7"/>
<rect x="647.6" y="170.2" width="10.0" height="4.4" fill="#fff" stroke="#888" stroke-width="0.7"/>
<line x1="560.0" y1="174.6" x2="679.0" y2="174.6" stroke="#2a2a2a" stroke-width="1.7"/>
<path d="M664.6 174.6 V163.6 H672.6" stroke="#222" stroke-width="1.3" fill="none"/>
<path d="M671.6 161.4 L675.6 163.6 L671.6 165.79999999999998 Z" stroke="none" stroke-width="1.5" fill="#222"/>
<text x="511.6" y="193.0" font-size="16.5" fill="#1db3bd">P</text>
<text x="521.6" y="198.6" font-size="11.5" textLength="19.8" lengthAdjust="spacingAndGlyphs" fill="#1db3bd">JR7</text>
<rect x="580.4" y="187.6" width="25.0" height="8.4" fill="#e6e7e8" stroke="#9a9a9a" stroke-width="0.8"/>
<rect x="617.0" y="187.6" width="24.4" height="8.4" fill="#3ab3bf"/>
<rect x="656.6" y="187.6" width="24.8" height="8.4" fill="#3ab3bf"/>
<rect x="608.4" y="191.6" width="9.6" height="4.4" fill="#fff" stroke="#888" stroke-width="0.7"/>
<rect x="648.4" y="191.6" width="9.2" height="4.4" fill="#fff" stroke="#888" stroke-width="0.7"/>
<line x1="580.4" y1="196.0" x2="693.0" y2="196.0" stroke="#2a2a2a" stroke-width="1.7"/>
<path d="M664.6 196 V185 H672.6" stroke="#222" stroke-width="1.3" fill="none"/>
<path d="M671.6 182.8 L675.6 185 L671.6 187.2 Z" stroke="none" stroke-width="1.5" fill="#222"/>
<text x="511.6" y="214.4" font-size="16.5" fill="#858585">P</text>
<text x="521.6" y="220.0" font-size="11.5" textLength="19.8" lengthAdjust="spacingAndGlyphs" fill="#858585">JR8</text>
<rect x="548.0" y="209.0" width="24.6" height="8.4" fill="#e6e7e8" stroke="#9a9a9a" stroke-width="0.8"/>
<rect x="582.6" y="209.0" width="13.4" height="8.4" fill="#6f7072"/>
<rect x="626.4" y="209.0" width="13.2" height="8.4" fill="#6f7072"/>
<rect x="609.6" y="213.0" width="10.0" height="4.4" fill="#fff" stroke="#888" stroke-width="0.7"/>
<rect x="647.6" y="213.0" width="10.0" height="4.4" fill="#fff" stroke="#888" stroke-width="0.7"/>
<line x1="548.0" y1="217.4" x2="665.6" y2="217.4" stroke="#2a2a2a" stroke-width="1.7"/>
<path d="M664.6 217.4 V206.4 H672.6" stroke="#222" stroke-width="1.3" fill="none"/>
<path d="M671.6 204.20000000000002 L675.6 206.4 L671.6 208.6 Z" stroke="none" stroke-width="1.5" fill="#222"/>
<text x="511.6" y="236.4" font-size="16.5" fill="#ee7651">P</text>
<text x="521.6" y="242.0" font-size="11.5" textLength="19.8" lengthAdjust="spacingAndGlyphs" fill="#ee7651">JR9</text>
<rect x="564.0" y="231.0" width="24.4" height="8.4" fill="#e6e7e8" stroke="#9a9a9a" stroke-width="0.8"/>
<rect x="588.4" y="231.0" width="13.2" height="8.4" fill="#ec6f4b"/>
<rect x="625.6" y="231.0" width="13.0" height="8.4" fill="#ec6f4b"/>
<rect x="662.4" y="231.0" width="13.2" height="8.4" fill="#ec6f4b"/>
<rect x="699.0" y="231.0" width="13.0" height="8.4" fill="#ec6f4b"/>
<rect x="609.6" y="235.0" width="10.0" height="4.4" fill="#fff" stroke="#888" stroke-width="0.7"/>
<rect x="647.6" y="235.0" width="10.0" height="4.4" fill="#fff" stroke="#888" stroke-width="0.7"/>
<line x1="564.0" y1="239.4" x2="712.0" y2="239.4" stroke="#2a2a2a" stroke-width="1.7"/>
<path d="M664.6 239.4 V228.4 H672.6" stroke="#222" stroke-width="1.3" fill="none"/>
<path d="M671.6 226.20000000000002 L675.6 228.4 L671.6 230.6 Z" stroke="none" stroke-width="1.5" fill="#222"/>
<text x="511.6" y="259.0" font-size="16.5" fill="#d21f44">P</text>
<text x="521.6" y="264.6" font-size="11.5" textLength="26.0" lengthAdjust="spacingAndGlyphs" fill="#d21f44">JR10</text>
<rect x="584.6" y="253.6" width="25.0" height="8.4" fill="#e6e7e8" stroke="#9a9a9a" stroke-width="0.8"/>
<rect x="652.4" y="253.6" width="26.6" height="8.4" fill="#dc1f48"/>
<rect x="613.4" y="257.6" width="10.0" height="4.4" fill="#fff" stroke="#888" stroke-width="0.7"/>
<rect x="647.6" y="257.6" width="10.0" height="4.4" fill="#fff" stroke="#888" stroke-width="0.7"/>
<line x1="584.6" y1="262.0" x2="687.6" y2="262.0" stroke="#2a2a2a" stroke-width="1.7"/>
<path d="M664.6 262 V251 H672.6" stroke="#222" stroke-width="1.3" fill="none"/>
<path d="M671.6 248.8 L675.6 251 L671.6 253.2 Z" stroke="none" stroke-width="1.5" fill="#222"/>
<text x="511.6" y="279.4" font-size="16.5" fill="#1a98d5">P</text>
<text x="521.6" y="285.0" font-size="11.5" textLength="22.5" lengthAdjust="spacingAndGlyphs" fill="#1a98d5">JR11</text>
<rect x="580.0" y="274.0" width="24.6" height="8.4" fill="#e6e7e8" stroke="#9a9a9a" stroke-width="0.8"/>
<rect x="629.4" y="274.0" width="16.6" height="8.4" fill="#1e98d6"/>
<rect x="685.4" y="274.0" width="16.6" height="8.4" fill="#1e98d6"/>
<rect x="605.0" y="278.0" width="14.6" height="4.4" fill="#fff" stroke="#888" stroke-width="0.7"/>
<rect x="647.6" y="278.0" width="10.0" height="4.4" fill="#fff" stroke="#888" stroke-width="0.7"/>
<line x1="580.0" y1="282.4" x2="707.4" y2="282.4" stroke="#2a2a2a" stroke-width="1.7"/>
<path d="M664.6 282.4 V271.4 H672.6" stroke="#222" stroke-width="1.3" fill="none"/>
<path d="M671.6 269.2 L675.6 271.4 L671.6 273.59999999999997 Z" stroke="none" stroke-width="1.5" fill="#222"/>
<text x="511.6" y="300.4" font-size="16.5" fill="#0f7a70">P</text>
<text x="521.6" y="306.0" font-size="11.5" textLength="25.0" lengthAdjust="spacingAndGlyphs" fill="#0f7a70">JR12</text>
<rect x="584.6" y="295.0" width="25.0" height="8.4" fill="#e6e7e8" stroke="#9a9a9a" stroke-width="0.8"/>
<rect x="609.6" y="295.0" width="21.4" height="8.4" fill="#0e776b"/>
<rect x="667.6" y="295.0" width="21.0" height="8.4" fill="#0e776b"/>
<rect x="611.4" y="299.0" width="10.0" height="4.4" fill="#fff" stroke="#888" stroke-width="0.7"/>
<rect x="647.6" y="299.0" width="10.0" height="4.4" fill="#fff" stroke="#888" stroke-width="0.7"/>
<line x1="584.6" y1="303.4" x2="688.6" y2="303.4" stroke="#2a2a2a" stroke-width="1.7"/>
<path d="M664.6 303.4 V292.4 H672.6" stroke="#222" stroke-width="1.3" fill="none"/>
<path d="M671.6 290.2 L675.6 292.4 L671.6 294.59999999999997 Z" stroke="none" stroke-width="1.5" fill="#222"/>
<line x1="556.0" y1="315.4" x2="700.4" y2="315.4" stroke="#444" stroke-width="1.3"/>
<line x1="556.0" y1="315.4" x2="556.0" y2="321.0" stroke="#444" stroke-width="1.3"/>
<text x="556.0" y="340.0" font-size="14.5" text-anchor="middle">–60</text>
<line x1="592.4" y1="315.4" x2="592.4" y2="321.0" stroke="#444" stroke-width="1.3"/>
<text x="592.4" y="340.0" font-size="14.5" text-anchor="middle">–40</text>
<line x1="628.4" y1="315.4" x2="628.4" y2="321.0" stroke="#444" stroke-width="1.3"/>
<text x="628.4" y="340.0" font-size="14.5" text-anchor="middle">–20</text>
<line x1="664.4" y1="315.4" x2="664.4" y2="321.0" stroke="#444" stroke-width="1.3"/>
<text x="664.4" y="340.0" font-size="14.5" text-anchor="middle">+1</text>
<line x1="700.4" y1="315.4" x2="700.4" y2="321.0" stroke="#444" stroke-width="1.3"/>
<text x="700.4" y="340.0" font-size="14.5" text-anchor="middle">+20</text>
<text x="632.7" y="363.5" font-size="17.5" text-anchor="middle" textLength="120.6" lengthAdjust="spacingAndGlyphs">Nucleotide no.</text>
<text x="13.0" y="412.5" font-size="26" font-weight="bold" fill="#1a1a1a" stroke="#1a1a1a" stroke-width="0.9">b</text>
<text x="39.3" y="447.7" font-size="17.5" textLength="103.4" lengthAdjust="spacingAndGlyphs">Sensor array</text>
<text x="126.7" y="468.3" font-size="17.5" textLength="42.6" lengthAdjust="spacingAndGlyphs">attB2</text>
<text x="101.7" y="493.3" font-size="17.5" textLength="35.0" lengthAdjust="spacingAndGlyphs" font-style="italic">oriC</text>
<circle cx="116.2" cy="561.2" r="59.5" fill="none" stroke="#231f20" stroke-width="2"/>
<path d="M91 454 V491.7 L105 502" stroke="#333333" stroke-width="1.3" fill="none"/>
<path d="M146.7 475 V491.7 L138 503.5" stroke="#333333" stroke-width="1.3" fill="none"/>
<line x1="117.3" y1="497.3" x2="117.3" y2="507.7" stroke="#333333" stroke-width="1.5"/>
<circle cx="107.3" cy="504" r="4" fill="#c86ab0" stroke="#231f20" stroke-width="1"/>
<circle cx="136" cy="506" r="4" fill="#17a08e" stroke="#231f20" stroke-width="1"/>
<text x="89.3" y="554.0" font-size="17.5" textLength="50.0" lengthAdjust="spacingAndGlyphs" font-style="italic">E. coli</text>
<text x="66.7" y="575.0" font-size="17.5" textLength="100.0" lengthAdjust="spacingAndGlyphs">YJP_MKC174</text>
<text x="207.3" y="466.0" font-size="17.5" textLength="37.7" lengthAdjust="spacingAndGlyphs">IPTG</text>
<line x1="251.7" y1="460.7" x2="325.0" y2="460.7" stroke="#333333" stroke-width="1.3"/>
<line x1="325.0" y1="456.5" x2="325.0" y2="465.0" stroke="#333333" stroke-width="1.5"/>
<circle cx="331.7" cy="460.7" r="4" fill="#25a34a" stroke="#231f20" stroke-width="1"/>
<text x="316.0" y="451.0" font-size="17.5" textLength="32.3" lengthAdjust="spacingAndGlyphs">LacI</text>
<line x1="331.7" y1="466.0" x2="331.7" y2="498.3" stroke="#333333" stroke-width="1.3"/>
<line x1="327.7" y1="498.3" x2="335.7" y2="498.3" stroke="#333333" stroke-width="1.5"/>
<text x="279.3" y="483.3" font-size="17.5" textLength="36.7" lengthAdjust="spacingAndGlyphs">TetR</text>
<text x="216.7" y="497.3" font-size="17.5" textLength="29.3" lengthAdjust="spacingAndGlyphs">aTc</text>
<line x1="251.7" y1="492.7" x2="293.3" y2="492.7" stroke="#333333" stroke-width="1.3"/>
<line x1="293.3" y1="488.5" x2="293.3" y2="497.0" stroke="#333333" stroke-width="1.5"/>
<circle cx="299.3" cy="492.7" r="4" fill="#1e6fb8" stroke="#231f20" stroke-width="1"/>
<line x1="299.3" y1="497.0" x2="299.3" y2="506.0" stroke="#333333" stroke-width="1.3"/>
<line x1="295.3" y1="506.0" x2="303.3" y2="506.0" stroke="#333333" stroke-width="1.5"/>
<line x1="275.0" y1="535.5" x2="506.0" y2="535.5" stroke="#333333" stroke-width="1.5"/>
<line x1="517.0" y1="535.5" x2="708.0" y2="535.5" stroke="#333333" stroke-width="1.5"/>
<line x1="271.0" y1="539.3" x2="278.3" y2="531.7" stroke="#333333" stroke-width="1.5"/>
<path d="M289.3 535.5 V515.0 H302.3" stroke="#333333" stroke-width="3" fill="none" stroke-linejoin="miter"/>
<path d="M301.3 510.0 L308.3 515.0 L301.3 520.0 Z" stroke="none" stroke-width="1.5" fill="#333333"/>
<path d="M325 535.5 V515.0 H338" stroke="#333333" stroke-width="3" fill="none" stroke-linejoin="miter"/>
<path d="M337 510.0 L344 515.0 L337 520.0 Z" stroke="none" stroke-width="1.5" fill="#333333"/>
<text x="285.5" y="555.3" font-size="16.5">P</text>
<text x="296.5" y="560.8" font-size="11">Tet</text>
<text x="326.5" y="555.3" font-size="16.5">P</text>
<text x="337.5" y="560.8" font-size="11">Tac</text>
<circle cx="357.6" cy="516.3" r="4" fill="#fff" stroke="#333333" stroke-width="1.3"/>
<line x1="357.6" y1="520.3" x2="357.6" y2="535.5" stroke="#333333" stroke-width="1.3" stroke-dasharray="2 1.6"/>
<path d="M369 535.5 A6 6 0 0 1 381 535.5" stroke="#333333" stroke-width="1.3" fill="#fff"/>
<path d="M390.8 528.0 H422.0 V521.0 L439.5 535.5 L422.0 550.0 V543.0 H390.8 Z" fill="#6bb24f" stroke="#333333" stroke-width="1.3" stroke-linejoin="miter"/>
<path d="M411.2 521 V497 H565.6 V505.4" stroke="#333333" stroke-width="1.3" fill="none"/>
<line x1="560.8" y1="505.4" x2="570.4" y2="505.4" stroke="#333333" stroke-width="1.5"/>
<line x1="441.0" y1="523.3" x2="471.0" y2="523.3" stroke="#333333" stroke-width="1.3"/>
<line x1="441.0" y1="546.0" x2="471.0" y2="546.0" stroke="#333333" stroke-width="1.3"/>
<line x1="450.8" y1="523.3" x2="450.8" y2="546.0" stroke="#333333" stroke-width="1.3"/>
<line x1="460.8" y1="523.3" x2="460.8" y2="546.0" stroke="#333333" stroke-width="1.3"/>
<rect x="473" y="532.3" width="22.600000000000023" height="6.4" rx="3.2" fill="#2aa89a" stroke="#1f6b62" stroke-width="0.8"/>
<line x1="484.3" y1="532.3" x2="484.3" y2="538.7" stroke="#1f6b62" stroke-width="0.8"/>
<line x1="501.3" y1="541.0" x2="509.0" y2="531.0" stroke="#333333" stroke-width="1.5"/>
<line x1="514.6" y1="541.0" x2="521.7" y2="531.0" stroke="#333333" stroke-width="1.5"/>
<rect x="524" y="532.3" width="22.600000000000023" height="6.4" rx="3.2" fill="#2aa89a" stroke="#1f6b62" stroke-width="0.8"/>
<line x1="535.3" y1="532.3" x2="535.3" y2="538.7" stroke="#1f6b62" stroke-width="0.8"/>
<path d="M555.7 535.5 V514.8 H569.7" stroke="#333333" stroke-width="3" fill="none" stroke-linejoin="miter"/>
<path d="M568.7 509.79999999999995 L575.7 514.8 L568.7 519.8 Z" stroke="none" stroke-width="1.5" fill="#333333"/>
<text x="552.3" y="554.4" font-size="16.5">P</text>
<text x="562.8" y="560.0" font-size="10.5" textLength="14.2" lengthAdjust="spacingAndGlyphs">JR1</text>
<circle cx="588.3" cy="515.3" r="4" fill="#fff" stroke="#333333" stroke-width="1.3"/>
<line x1="588.3" y1="519.3" x2="588.3" y2="535.5" stroke="#333333" stroke-width="1.3" stroke-dasharray="2 1.6"/>
<path d="M599.3 535.5 A6 6 0 0 1 611.3 535.5" stroke="#333333" stroke-width="1.3" fill="#fff"/>
<path d="M621.4 528.0 H652.9 V521.0 L670.4 535.5 L652.9 550.0 V543.0 H621.4 Z" fill="#e7e23a" stroke="#333333" stroke-width="1.3" stroke-linejoin="miter"/>
<line x1="670.6" y1="523.3" x2="700.6" y2="523.3" stroke="#333333" stroke-width="1.3"/>
<line x1="670.6" y1="546.0" x2="700.6" y2="546.0" stroke="#333333" stroke-width="1.3"/>
<line x1="680.4" y1="523.3" x2="680.4" y2="546.0" stroke="#333333" stroke-width="1.3"/>
<line x1="690.4" y1="523.3" x2="690.4" y2="546.0" stroke="#333333" stroke-width="1.3"/>
<line x1="705.3" y1="541.0" x2="713.0" y2="531.0" stroke="#333333" stroke-width="1.5"/>
<text x="400.4" y="566.9" font-size="17.5" textLength="19.3" lengthAdjust="spacingAndGlyphs" font-style="italic">jr1</text>
<text x="436.7" y="566.9" font-size="17.5" textLength="38.3" lengthAdjust="spacingAndGlyphs">Ret0</text>
<text x="630.8" y="566.9" font-size="17.5" textLength="25.5" lengthAdjust="spacingAndGlyphs" font-style="italic">yfp</text>
<text x="662.8" y="566.9" font-size="17.5" textLength="42.5" lengthAdjust="spacingAndGlyphs">DT65</text>
<text x="463.6" y="599.0" font-size="17.5" textLength="41.1" lengthAdjust="spacingAndGlyphs">attL2</text>
<text x="513.7" y="599.0" font-size="17.5" textLength="42.6" lengthAdjust="spacingAndGlyphs">attR2</text>
<text x="577.0" y="599.0" font-size="17.5" textLength="55.2" lengthAdjust="spacingAndGlyphs">B0034</text>
<text x="565.6" y="623.0" font-size="17.5" textLength="44.4" lengthAdjust="spacingAndGlyphs">RiboJ</text>
<text x="356.7" y="600.0" font-size="17.5" textLength="32.6" lengthAdjust="spacingAndGlyphs">Rj13</text>
<text x="321.7" y="624.0" font-size="17.5" textLength="65.6" lengthAdjust="spacingAndGlyphs">RiboJ54</text>
<text x="766.5" y="13.6" font-size="26" font-weight="bold" fill="#1a1a1a" stroke="#1a1a1a" stroke-width="0.9">c</text>
<line x1="948.9" y1="32.0" x2="948.9" y2="314.0" stroke="#d4d4d4" stroke-width="1"/>
<line x1="1068.7" y1="32.0" x2="1068.7" y2="314.0" stroke="#d4d4d4" stroke-width="1"/>
<line x1="836.0" y1="81.3" x2="1118.0" y2="81.3" stroke="#d4d4d4" stroke-width="1"/>
<line x1="836.0" y1="201.1" x2="1118.0" y2="201.1" stroke="#d4d4d4" stroke-width="1"/>
<clipPath id="cclip"><rect x="836" y="32" width="282" height="282"/></clipPath>
<g clip-path="url(#cclip)">
<path d="M836.0 75.1 L838.0 75.1 L840.0 75.1 L842.0 75.1 L844.1 75.1 L846.1 75.1 L848.1 75.1 L850.1 75.1 L852.1 75.1 L854.1 75.1 L856.1 75.1 L858.2 75.1 L860.2 75.1 L862.2 75.1 L864.2 75.1 L866.2 75.1 L868.2 75.1 L870.2 75.1 L872.3 75.1 L874.3 75.1 L876.3 75.1 L878.3 75.1 L880.3 75.1 L882.3 75.1 L884.3 75.1 L886.4 75.2 L888.4 75.2 L890.4 75.2 L892.4 75.2 L894.4 75.2 L896.4 75.2 L898.4 75.2 L900.5 75.3 L902.5 75.3 L904.5 75.3 L906.5 75.3 L908.5 75.3 L910.5 75.4 L912.5 75.4 L914.6 75.4 L916.6 75.5 L918.6 75.5 L920.6 75.6 L922.6 75.6 L924.6 75.7 L926.6 75.8 L928.7 75.8 L930.7 75.9 L932.7 76.0 L934.7 76.1 L936.7 76.2 L938.7 76.3 L940.7 76.5 L942.8 76.6 L944.8 76.8 L946.8 77.0 L948.8 77.2 L950.8 77.4 L952.8 77.6 L954.8 77.9 L956.9 78.2 L958.9 78.5 L960.9 78.8 L962.9 79.2 L964.9 79.6 L966.9 80.1 L968.9 80.6 L971.0 81.1 L973.0 81.7 L975.0 82.3 L977.0 83.0 L979.0 83.7 L981.0 84.5 L983.0 85.3 L985.1 86.2 L987.1 87.2 L989.1 88.2 L991.1 89.3 L993.1 90.5 L995.1 91.7 L997.1 93.0 L999.2 94.4 L1001.2 95.9 L1003.2 97.4 L1005.2 98.9 L1007.2 100.6 L1009.2 102.2 L1011.2 104.0 L1013.3 105.8 L1015.3 107.6 L1017.3 109.5 L1019.3 111.4 L1021.3 113.4 L1023.3 115.4 L1025.3 117.4 L1027.4 119.4 L1029.4 121.4 L1031.4 123.4 L1033.4 125.4 L1035.4 127.5 L1037.4 129.5 L1039.4 131.4 L1041.5 133.4 L1043.5 135.3 L1045.5 137.2 L1047.5 139.0 L1049.5 140.8 L1051.5 142.5 L1053.5 144.2 L1055.6 145.8 L1057.6 147.4 L1059.6 148.9 L1061.6 150.3 L1063.6 151.7 L1065.6 153.0 L1067.6 154.2 L1069.7 155.4 L1071.7 156.5 L1073.7 157.5 L1075.7 158.5 L1077.7 159.4 L1079.7 160.2 L1081.7 161.0 L1083.8 161.7 L1085.8 162.4 L1087.8 163.0 L1089.8 163.6 L1091.8 164.1 L1093.8 164.6 L1095.8 165.0 L1097.9 165.4 L1099.9 165.8 L1101.9 166.1 L1103.9 166.4 L1105.9 166.7 L1107.9 167.0 L1109.9 167.2 L1112.0 167.4 L1114.0 167.6 L1116.0 167.8 L1118.0 168.0" stroke="#b27633" stroke-width="2.6" fill="none"/>
<path d="M836.0 70.4 L838.0 70.4 L840.0 70.4 L842.0 70.4 L844.1 70.4 L846.1 70.4 L848.1 70.4 L850.1 70.4 L852.1 70.4 L854.1 70.4 L856.1 70.4 L858.2 70.4 L860.2 70.4 L862.2 70.4 L864.2 70.4 L866.2 70.4 L868.2 70.4 L870.2 70.4 L872.3 70.4 L874.3 70.4 L876.3 70.4 L878.3 70.4 L880.3 70.4 L882.3 70.4 L884.3 70.4 L886.4 70.4 L888.4 70.4 L890.4 70.4 L892.4 70.4 L894.4 70.4 L896.4 70.4 L898.4 70.4 L900.5 70.4 L902.5 70.4 L904.5 70.4 L906.5 70.4 L908.5 70.4 L910.5 70.4 L912.5 70.4 L914.6 70.4 L916.6 70.4 L918.6 70.4 L920.6 70.4 L922.6 70.4 L924.6 70.4 L926.6 70.4 L928.7 70.4 L930.7 70.4 L932.7 70.4 L934.7 70.4 L936.7 70.4 L938.7 70.4 L940.7 70.4 L942.8 70.4 L944.8 70.4 L946.8 70.4 L948.8 70.4 L950.8 70.4 L952.8 70.4 L954.8 70.4 L956.9 70.4 L958.9 70.4 L960.9 70.4 L962.9 70.4 L964.9 70.4 L966.9 70.5 L968.9 70.5 L971.0 70.5 L973.0 70.5 L975.0 70.5 L977.0 70.5 L979.0 70.5 L981.0 70.5 L983.0 70.5 L985.1 70.6 L987.1 70.6 L989.1 70.7 L991.1 70.7 L993.1 70.8 L995.1 70.9 L997.1 71.0 L999.2 71.1 L1001.2 71.3 L1003.2 71.5 L1005.2 71.7 L1007.2 72.0 L1009.2 72.4 L1011.2 72.9 L1013.3 73.5 L1015.3 74.2 L1017.3 75.1 L1019.3 76.2 L1021.3 77.4 L1023.3 79.0 L1025.3 80.8 L1027.4 82.9 L1029.4 85.3 L1031.4 88.1 L1033.4 91.3 L1035.4 94.8 L1037.4 98.6 L1039.4 102.8 L1041.5 107.3 L1043.5 112.0 L1045.5 116.9 L1047.5 122.0 L1049.5 127.1 L1051.5 132.3 L1053.5 137.5 L1055.6 142.7 L1057.6 147.7 L1059.6 152.6 L1061.6 157.2 L1063.6 161.6 L1065.6 165.6 L1067.6 169.4 L1069.7 172.8 L1071.7 175.8 L1073.7 178.5 L1075.7 180.8 L1077.7 182.8 L1079.7 184.5 L1081.7 186.0 L1083.8 187.2 L1085.8 188.2 L1087.8 189.0 L1089.8 189.7 L1091.8 190.2 L1093.8 190.7 L1095.8 191.1 L1097.9 191.4 L1099.9 191.6 L1101.9 191.8 L1103.9 191.9 L1105.9 192.1 L1107.9 192.2 L1109.9 192.2 L1112.0 192.3 L1114.0 192.4 L1116.0 192.4 L1118.0 192.4" stroke="#7a5ca6" stroke-width="2.6" fill="none"/>
<path d="M836.0 91.8 L838.0 91.8 L840.0 91.8 L842.0 91.8 L844.1 91.8 L846.1 91.8 L848.1 91.8 L850.1 91.8 L852.1 91.8 L854.1 91.8 L856.1 91.8 L858.2 91.8 L860.2 91.8 L862.2 91.8 L864.2 91.8 L866.2 91.8 L868.2 91.8 L870.2 91.8 L872.3 91.8 L874.3 91.8 L876.3 91.8 L878.3 91.8 L880.3 91.8 L882.3 91.9 L884.3 91.9 L886.4 91.9 L888.4 91.9 L890.4 91.9 L892.4 91.9 L894.4 91.9 L896.4 92.0 L898.4 92.0 L900.5 92.0 L902.5 92.0 L904.5 92.1 L906.5 92.1 L908.5 92.1 L910.5 92.2 L912.5 92.2 L914.6 92.3 L916.6 92.4 L918.6 92.4 L920.6 92.5 L922.6 92.6 L924.6 92.7 L926.6 92.8 L928.7 92.9 L930.7 93.0 L932.7 93.2 L934.7 93.4 L936.7 93.5 L938.7 93.7 L940.7 94.0 L942.8 94.2 L944.8 94.5 L946.8 94.8 L948.8 95.2 L950.8 95.5 L952.8 96.0 L954.8 96.4 L956.9 96.9 L958.9 97.5 L960.9 98.1 L962.9 98.8 L964.9 99.5 L966.9 100.3 L968.9 101.2 L971.0 102.1 L973.0 103.1 L975.0 104.2 L977.0 105.4 L979.0 106.7 L981.0 108.0 L983.0 109.4 L985.1 110.9 L987.1 112.5 L989.1 114.2 L991.1 116.0 L993.1 117.9 L995.1 119.8 L997.1 121.8 L999.2 123.9 L1001.2 126.0 L1003.2 128.2 L1005.2 130.4 L1007.2 132.7 L1009.2 135.0 L1011.2 137.4 L1013.3 139.7 L1015.3 142.1 L1017.3 144.5 L1019.3 146.9 L1021.3 149.3 L1023.3 151.6 L1025.3 154.0 L1027.4 156.3 L1029.4 158.5 L1031.4 160.8 L1033.4 162.9 L1035.4 165.0 L1037.4 167.1 L1039.4 169.0 L1041.5 170.9 L1043.5 172.7 L1045.5 174.5 L1047.5 176.1 L1049.5 177.7 L1051.5 179.1 L1053.5 180.5 L1055.6 181.8 L1057.6 183.1 L1059.6 184.2 L1061.6 185.3 L1063.6 186.2 L1065.6 187.1 L1067.6 188.0 L1069.7 188.7 L1071.7 189.4 L1073.7 190.1 L1075.7 190.7 L1077.7 191.2 L1079.7 191.7 L1081.7 192.1 L1083.8 192.5 L1085.8 192.9 L1087.8 193.2 L1089.8 193.5 L1091.8 193.8 L1093.8 194.0 L1095.8 194.2 L1097.9 194.4 L1099.9 194.6 L1101.9 194.8 L1103.9 194.9 L1105.9 195.0 L1107.9 195.1 L1109.9 195.2 L1112.0 195.3 L1114.0 195.4 L1116.0 195.5 L1118.0 195.6" stroke="#86cbd6" stroke-width="2.6" fill="none"/>
<path d="M836.0 63.3 L838.0 63.3 L840.0 63.3 L842.0 63.3 L844.1 63.3 L846.1 63.3 L848.1 63.3 L850.1 63.3 L852.1 63.3 L854.1 63.3 L856.1 63.3 L858.2 63.3 L860.2 63.3 L862.2 63.3 L864.2 63.3 L866.2 63.3 L868.2 63.3 L870.2 63.3 L872.3 63.4 L874.3 63.4 L876.3 63.4 L878.3 63.4 L880.3 63.4 L882.3 63.4 L884.3 63.5 L886.4 63.5 L888.4 63.5 L890.4 63.5 L892.4 63.6 L894.4 63.6 L896.4 63.7 L898.4 63.7 L900.5 63.8 L902.5 63.8 L904.5 63.9 L906.5 64.0 L908.5 64.1 L910.5 64.2 L912.5 64.3 L914.6 64.5 L916.6 64.6 L918.6 64.8 L920.6 65.0 L922.6 65.2 L924.6 65.5 L926.6 65.8 L928.7 66.1 L930.7 66.5 L932.7 66.9 L934.7 67.4 L936.7 67.9 L938.7 68.5 L940.7 69.2 L942.8 69.9 L944.8 70.7 L946.8 71.7 L948.8 72.6 L950.8 73.7 L952.8 74.9 L954.8 76.3 L956.9 77.7 L958.9 79.2 L960.9 80.9 L962.9 82.7 L964.9 84.6 L966.9 86.6 L968.9 88.7 L971.0 91.0 L973.0 93.4 L975.0 95.9 L977.0 98.4 L979.0 101.1 L981.0 103.9 L983.0 106.7 L985.1 109.6 L987.1 112.6 L989.1 115.6 L991.1 118.6 L993.1 121.7 L995.1 124.7 L997.1 127.8 L999.2 130.9 L1001.2 134.0 L1003.2 137.0 L1005.2 140.0 L1007.2 142.9 L1009.2 145.8 L1011.2 148.7 L1013.3 151.4 L1015.3 154.1 L1017.3 156.6 L1019.3 159.1 L1021.3 161.5 L1023.3 163.7 L1025.3 165.9 L1027.4 167.9 L1029.4 169.8 L1031.4 171.5 L1033.4 173.2 L1035.4 174.7 L1037.4 176.1 L1039.4 177.4 L1041.5 178.6 L1043.5 179.7 L1045.5 180.7 L1047.5 181.6 L1049.5 182.4 L1051.5 183.1 L1053.5 183.8 L1055.6 184.4 L1057.6 184.9 L1059.6 185.4 L1061.6 185.8 L1063.6 186.2 L1065.6 186.5 L1067.6 186.8 L1069.7 187.1 L1071.7 187.3 L1073.7 187.5 L1075.7 187.7 L1077.7 187.8 L1079.7 188.0 L1081.7 188.1 L1083.8 188.2 L1085.8 188.3 L1087.8 188.4 L1089.8 188.5 L1091.8 188.5 L1093.8 188.6 L1095.8 188.6 L1097.9 188.7 L1099.9 188.7 L1101.9 188.8 L1103.9 188.8 L1105.9 188.8 L1107.9 188.8 L1109.9 188.9 L1112.0 188.9 L1114.0 188.9 L1116.0 188.9 L1118.0 188.9" stroke="#de86b8" stroke-width="2.6" fill="none"/>
<path d="M836.0 62.4 L838.0 62.4 L840.0 62.4 L842.0 62.4 L844.1 62.4 L846.1 62.4 L848.1 62.5 L850.1 62.5 L852.1 62.5 L854.1 62.5 L856.1 62.5 L858.2 62.5 L860.2 62.5 L862.2 62.5 L864.2 62.5 L866.2 62.5 L868.2 62.5 L870.2 62.5 L872.3 62.5 L874.3 62.5 L876.3 62.5 L878.3 62.5 L880.3 62.6 L882.3 62.6 L884.3 62.6 L886.4 62.6 L888.4 62.6 L890.4 62.7 L892.4 62.7 L894.4 62.8 L896.4 62.8 L898.4 62.9 L900.5 63.0 L902.5 63.0 L904.5 63.1 L906.5 63.2 L908.5 63.4 L910.5 63.5 L912.5 63.7 L914.6 63.9 L916.6 64.2 L918.6 64.4 L920.6 64.8 L922.6 65.1 L924.6 65.6 L926.6 66.0 L928.7 66.6 L930.7 67.2 L932.7 68.0 L934.7 68.8 L936.7 69.7 L938.7 70.8 L940.7 72.0 L942.8 73.3 L944.8 74.8 L946.8 76.4 L948.8 78.2 L950.8 80.2 L952.8 82.3 L954.8 84.7 L956.9 87.2 L958.9 89.8 L960.9 92.7 L962.9 95.6 L964.9 98.8 L966.9 102.0 L968.9 105.4 L971.0 108.9 L973.0 112.5 L975.0 116.2 L977.0 120.0 L979.0 123.8 L981.0 127.6 L983.0 131.5 L985.1 135.4 L987.1 139.2 L989.1 143.1 L991.1 146.9 L993.1 150.7 L995.1 154.4 L997.1 158.0 L999.2 161.5 L1001.2 164.9 L1003.2 168.2 L1005.2 171.3 L1007.2 174.3 L1009.2 177.2 L1011.2 179.9 L1013.3 182.4 L1015.3 184.7 L1017.3 186.9 L1019.3 188.9 L1021.3 190.7 L1023.3 192.4 L1025.3 193.9 L1027.4 195.2 L1029.4 196.4 L1031.4 197.5 L1033.4 198.4 L1035.4 199.3 L1037.4 200.0 L1039.4 200.7 L1041.5 201.2 L1043.5 201.7 L1045.5 202.2 L1047.5 202.5 L1049.5 202.9 L1051.5 203.1 L1053.5 203.4 L1055.6 203.6 L1057.6 203.8 L1059.6 203.9 L1061.6 204.1 L1063.6 204.2 L1065.6 204.3 L1067.6 204.4 L1069.7 204.4 L1071.7 204.5 L1073.7 204.6 L1075.7 204.6 L1077.7 204.6 L1079.7 204.7 L1081.7 204.7 L1083.8 204.7 L1085.8 204.8 L1087.8 204.8 L1089.8 204.8 L1091.8 204.8 L1093.8 204.8 L1095.8 204.8 L1097.9 204.8 L1099.9 204.8 L1101.9 204.8 L1103.9 204.8 L1105.9 204.9 L1107.9 204.9 L1109.9 204.9 L1112.0 204.9 L1114.0 204.9 L1116.0 204.9 L1118.0 204.9" stroke="#7dc363" stroke-width="2.6" fill="none"/>
<path d="M836.0 67.0 L838.0 67.0 L840.0 67.0 L842.0 67.0 L844.1 67.0 L846.1 67.0 L848.1 67.1 L850.1 67.1 L852.1 67.1 L854.1 67.1 L856.1 67.1 L858.2 67.2 L860.2 67.2 L862.2 67.2 L864.2 67.3 L866.2 67.3 L868.2 67.4 L870.2 67.4 L872.3 67.5 L874.3 67.5 L876.3 67.6 L878.3 67.7 L880.3 67.8 L882.3 67.9 L884.3 68.0 L886.4 68.1 L888.4 68.2 L890.4 68.4 L892.4 68.5 L894.4 68.7 L896.4 68.9 L898.4 69.1 L900.5 69.4 L902.5 69.6 L904.5 69.9 L906.5 70.3 L908.5 70.6 L910.5 71.0 L912.5 71.4 L914.6 71.9 L916.6 72.4 L918.6 73.0 L920.6 73.6 L922.6 74.2 L924.6 75.0 L926.6 75.8 L928.7 76.6 L930.7 77.5 L932.7 78.5 L934.7 79.6 L936.7 80.7 L938.7 81.9 L940.7 83.2 L942.8 84.6 L944.8 86.0 L946.8 87.5 L948.8 89.2 L950.8 90.9 L952.8 92.6 L954.8 94.5 L956.9 96.4 L958.9 98.5 L960.9 100.5 L962.9 102.7 L964.9 104.9 L966.9 107.2 L968.9 109.5 L971.0 111.9 L973.0 114.4 L975.0 116.8 L977.0 119.4 L979.0 121.9 L981.0 124.5 L983.0 127.1 L985.1 129.7 L987.1 132.4 L989.1 135.0 L991.1 137.7 L993.1 140.3 L995.1 143.0 L997.1 145.6 L999.2 148.2 L1001.2 150.8 L1003.2 153.4 L1005.2 155.9 L1007.2 158.5 L1009.2 160.9 L1011.2 163.3 L1013.3 165.7 L1015.3 168.0 L1017.3 170.3 L1019.3 172.5 L1021.3 174.6 L1023.3 176.7 L1025.3 178.7 L1027.4 180.6 L1029.4 182.4 L1031.4 184.2 L1033.4 185.9 L1035.4 187.4 L1037.4 189.0 L1039.4 190.4 L1041.5 191.7 L1043.5 193.0 L1045.5 194.2 L1047.5 195.3 L1049.5 196.3 L1051.5 197.3 L1053.5 198.2 L1055.6 199.0 L1057.6 199.8 L1059.6 200.5 L1061.6 201.1 L1063.6 201.7 L1065.6 202.2 L1067.6 202.7 L1069.7 203.2 L1071.7 203.6 L1073.7 204.0 L1075.7 204.3 L1077.7 204.6 L1079.7 204.9 L1081.7 205.2 L1083.8 205.4 L1085.8 205.6 L1087.8 205.8 L1089.8 206.0 L1091.8 206.2 L1093.8 206.3 L1095.8 206.4 L1097.9 206.5 L1099.9 206.6 L1101.9 206.7 L1103.9 206.8 L1105.9 206.9 L1107.9 207.0 L1109.9 207.0 L1112.0 207.1 L1114.0 207.1 L1116.0 207.2 L1118.0 207.2" stroke="#7b3517" stroke-width="2.6" fill="none"/>
<path d="M836.0 90.3 L838.0 90.3 L840.0 90.3 L842.0 90.3 L844.1 90.3 L846.1 90.3 L848.1 90.3 L850.1 90.3 L852.1 90.3 L854.1 90.3 L856.1 90.3 L858.2 90.3 L860.2 90.3 L862.2 90.3 L864.2 90.3 L866.2 90.3 L868.2 90.3 L870.2 90.3 L872.3 90.3 L874.3 90.3 L876.3 90.3 L878.3 90.3 L880.3 90.4 L882.3 90.4 L884.3 90.4 L886.4 90.4 L888.4 90.4 L890.4 90.4 L892.4 90.4 L894.4 90.4 L896.4 90.5 L898.4 90.5 L900.5 90.5 L902.5 90.6 L904.5 90.6 L906.5 90.6 L908.5 90.7 L910.5 90.7 L912.5 90.8 L914.6 90.9 L916.6 91.0 L918.6 91.1 L920.6 91.2 L922.6 91.3 L924.6 91.5 L926.6 91.6 L928.7 91.8 L930.7 92.0 L932.7 92.3 L934.7 92.5 L936.7 92.8 L938.7 93.2 L940.7 93.6 L942.8 94.0 L944.8 94.6 L946.8 95.1 L948.8 95.8 L950.8 96.5 L952.8 97.3 L954.8 98.2 L956.9 99.2 L958.9 100.2 L960.9 101.4 L962.9 102.8 L964.9 104.2 L966.9 105.8 L968.9 107.5 L971.0 109.3 L973.0 111.3 L975.0 113.4 L977.0 115.6 L979.0 118.0 L981.0 120.4 L983.0 123.1 L985.1 125.8 L987.1 128.6 L989.1 131.5 L991.1 134.6 L993.1 137.7 L995.1 140.8 L997.1 144.1 L999.2 147.4 L1001.2 150.7 L1003.2 154.1 L1005.2 157.4 L1007.2 160.8 L1009.2 164.2 L1011.2 167.6 L1013.3 171.0 L1015.3 174.3 L1017.3 177.6 L1019.3 180.9 L1021.3 184.1 L1023.3 187.2 L1025.3 190.2 L1027.4 193.2 L1029.4 196.1 L1031.4 198.8 L1033.4 201.5 L1035.4 204.0 L1037.4 206.4 L1039.4 208.7 L1041.5 210.8 L1043.5 212.8 L1045.5 214.7 L1047.5 216.4 L1049.5 218.0 L1051.5 219.5 L1053.5 220.8 L1055.6 222.1 L1057.6 223.2 L1059.6 224.2 L1061.6 225.1 L1063.6 225.9 L1065.6 226.7 L1067.6 227.3 L1069.7 227.9 L1071.7 228.4 L1073.7 228.9 L1075.7 229.3 L1077.7 229.7 L1079.7 230.0 L1081.7 230.3 L1083.8 230.5 L1085.8 230.8 L1087.8 231.0 L1089.8 231.1 L1091.8 231.3 L1093.8 231.4 L1095.8 231.5 L1097.9 231.6 L1099.9 231.7 L1101.9 231.8 L1103.9 231.9 L1105.9 231.9 L1107.9 232.0 L1109.9 232.0 L1112.0 232.1 L1114.0 232.1 L1116.0 232.1 L1118.0 232.2" stroke="#858585" stroke-width="2.6" fill="none"/>
<path d="M836.0 85.4 L838.0 85.4 L840.0 85.4 L842.0 85.4 L844.1 85.4 L846.1 85.4 L848.1 85.4 L850.1 85.4 L852.1 85.4 L854.1 85.4 L856.1 85.4 L858.2 85.4 L860.2 85.4 L862.2 85.4 L864.2 85.4 L866.2 85.4 L868.2 85.4 L870.2 85.4 L872.3 85.4 L874.3 85.5 L876.3 85.5 L878.3 85.5 L880.3 85.5 L882.3 85.5 L884.3 85.5 L886.4 85.6 L888.4 85.6 L890.4 85.6 L892.4 85.7 L894.4 85.7 L896.4 85.8 L898.4 85.8 L900.5 85.9 L902.5 85.9 L904.5 86.0 L906.5 86.1 L908.5 86.2 L910.5 86.3 L912.5 86.5 L914.6 86.6 L916.6 86.8 L918.6 87.0 L920.6 87.3 L922.6 87.5 L924.6 87.8 L926.6 88.2 L928.7 88.5 L930.7 89.0 L932.7 89.4 L934.7 90.0 L936.7 90.6 L938.7 91.3 L940.7 92.0 L942.8 92.9 L944.8 93.8 L946.8 94.9 L948.8 96.0 L950.8 97.3 L952.8 98.6 L954.8 100.1 L956.9 101.7 L958.9 103.5 L960.9 105.4 L962.9 107.4 L964.9 109.5 L966.9 111.8 L968.9 114.2 L971.0 116.7 L973.0 119.3 L975.0 122.0 L977.0 124.9 L979.0 127.8 L981.0 130.8 L983.0 133.8 L985.1 136.9 L987.1 140.1 L989.1 143.3 L991.1 146.5 L993.1 149.8 L995.1 153.1 L997.1 156.3 L999.2 159.5 L1001.2 162.7 L1003.2 165.9 L1005.2 169.0 L1007.2 172.1 L1009.2 175.1 L1011.2 178.0 L1013.3 180.8 L1015.3 183.5 L1017.3 186.1 L1019.3 188.6 L1021.3 191.0 L1023.3 193.3 L1025.3 195.4 L1027.4 197.4 L1029.4 199.3 L1031.4 201.0 L1033.4 202.7 L1035.4 204.1 L1037.4 205.5 L1039.4 206.8 L1041.5 207.9 L1043.5 208.9 L1045.5 209.9 L1047.5 210.7 L1049.5 211.5 L1051.5 212.1 L1053.5 212.7 L1055.6 213.3 L1057.6 213.8 L1059.6 214.2 L1061.6 214.6 L1063.6 214.9 L1065.6 215.2 L1067.6 215.5 L1069.7 215.7 L1071.7 215.9 L1073.7 216.1 L1075.7 216.2 L1077.7 216.4 L1079.7 216.5 L1081.7 216.6 L1083.8 216.7 L1085.8 216.8 L1087.8 216.8 L1089.8 216.9 L1091.8 217.0 L1093.8 217.0 L1095.8 217.0 L1097.9 217.1 L1099.9 217.1 L1101.9 217.1 L1103.9 217.2 L1105.9 217.2 L1107.9 217.2 L1109.9 217.2 L1112.0 217.2 L1114.0 217.3 L1116.0 217.3 L1118.0 217.3" stroke="#0f7a70" stroke-width="2.6" fill="none"/>
<path d="M836.0 84.5 L838.0 84.5 L840.0 84.5 L842.0 84.5 L844.1 84.5 L846.1 84.5 L848.1 84.5 L850.1 84.5 L852.1 84.5 L854.1 84.5 L856.1 84.5 L858.2 84.5 L860.2 84.5 L862.2 84.5 L864.2 84.5 L866.2 84.5 L868.2 84.5 L870.2 84.5 L872.3 84.5 L874.3 84.5 L876.3 84.5 L878.3 84.5 L880.3 84.5 L882.3 84.5 L884.3 84.5 L886.4 84.5 L888.4 84.5 L890.4 84.6 L892.4 84.6 L894.4 84.6 L896.4 84.6 L898.4 84.6 L900.5 84.6 L902.5 84.6 L904.5 84.7 L906.5 84.7 L908.5 84.7 L910.5 84.7 L912.5 84.8 L914.6 84.8 L916.6 84.9 L918.6 84.9 L920.6 85.0 L922.6 85.1 L924.6 85.2 L926.6 85.3 L928.7 85.4 L930.7 85.5 L932.7 85.7 L934.7 85.9 L936.7 86.1 L938.7 86.3 L940.7 86.6 L942.8 86.9 L944.8 87.3 L946.8 87.7 L948.8 88.2 L950.8 88.7 L952.8 89.4 L954.8 90.1 L956.9 90.9 L958.9 91.8 L960.9 92.8 L962.9 93.9 L964.9 95.2 L966.9 96.6 L968.9 98.2 L971.0 99.9 L973.0 101.7 L975.0 103.7 L977.0 105.9 L979.0 108.2 L981.0 110.7 L983.0 113.3 L985.1 116.1 L987.1 119.0 L989.1 122.1 L991.1 125.2 L993.1 128.5 L995.1 131.8 L997.1 135.2 L999.2 138.7 L1001.2 142.3 L1003.2 145.8 L1005.2 149.4 L1007.2 153.0 L1009.2 156.6 L1011.2 160.1 L1013.3 163.6 L1015.3 167.1 L1017.3 170.4 L1019.3 173.7 L1021.3 176.9 L1023.3 180.0 L1025.3 183.0 L1027.4 185.8 L1029.4 188.5 L1031.4 191.0 L1033.4 193.4 L1035.4 195.6 L1037.4 197.7 L1039.4 199.6 L1041.5 201.3 L1043.5 202.9 L1045.5 204.4 L1047.5 205.7 L1049.5 206.9 L1051.5 207.9 L1053.5 208.9 L1055.6 209.7 L1057.6 210.5 L1059.6 211.1 L1061.6 211.7 L1063.6 212.2 L1065.6 212.6 L1067.6 213.0 L1069.7 213.4 L1071.7 213.7 L1073.7 213.9 L1075.7 214.1 L1077.7 214.3 L1079.7 214.5 L1081.7 214.6 L1083.8 214.8 L1085.8 214.9 L1087.8 215.0 L1089.8 215.1 L1091.8 215.1 L1093.8 215.2 L1095.8 215.2 L1097.9 215.3 L1099.9 215.3 L1101.9 215.4 L1103.9 215.4 L1105.9 215.4 L1107.9 215.4 L1109.9 215.5 L1112.0 215.5 L1114.0 215.5 L1116.0 215.5 L1118.0 215.5" stroke="#ee7651" stroke-width="2.6" fill="none"/>
<path d="M836.0 61.6 L838.0 61.6 L840.0 61.6 L842.0 61.6 L844.1 61.6 L846.1 61.6 L848.1 61.6 L850.1 61.6 L852.1 61.6 L854.1 61.6 L856.1 61.6 L858.2 61.6 L860.2 61.6 L862.2 61.6 L864.2 61.6 L866.2 61.6 L868.2 61.6 L870.2 61.7 L872.3 61.7 L874.3 61.7 L876.3 61.7 L878.3 61.7 L880.3 61.7 L882.3 61.7 L884.3 61.7 L886.4 61.7 L888.4 61.7 L890.4 61.7 L892.4 61.7 L894.4 61.8 L896.4 61.8 L898.4 61.8 L900.5 61.8 L902.5 61.9 L904.5 61.9 L906.5 61.9 L908.5 62.0 L910.5 62.0 L912.5 62.1 L914.6 62.2 L916.6 62.3 L918.6 62.4 L920.6 62.5 L922.6 62.6 L924.6 62.7 L926.6 62.9 L928.7 63.1 L930.7 63.3 L932.7 63.6 L934.7 63.9 L936.7 64.2 L938.7 64.6 L940.7 65.0 L942.8 65.5 L944.8 66.0 L946.8 66.6 L948.8 67.3 L950.8 68.1 L952.8 69.0 L954.8 69.9 L956.9 71.0 L958.9 72.2 L960.9 73.6 L962.9 75.0 L964.9 76.6 L966.9 78.4 L968.9 80.3 L971.0 82.3 L973.0 84.5 L975.0 86.9 L977.0 89.4 L979.0 92.0 L981.0 94.7 L983.0 97.6 L985.1 100.6 L987.1 103.8 L989.1 107.0 L991.1 110.3 L993.1 113.7 L995.1 117.2 L997.1 120.7 L999.2 124.3 L1001.2 127.9 L1003.2 131.5 L1005.2 135.2 L1007.2 138.8 L1009.2 142.5 L1011.2 146.1 L1013.3 149.7 L1015.3 153.3 L1017.3 156.8 L1019.3 160.2 L1021.3 163.6 L1023.3 166.9 L1025.3 170.2 L1027.4 173.3 L1029.4 176.3 L1031.4 179.1 L1033.4 181.9 L1035.4 184.5 L1037.4 187.0 L1039.4 189.3 L1041.5 191.5 L1043.5 193.5 L1045.5 195.4 L1047.5 197.1 L1049.5 198.7 L1051.5 200.2 L1053.5 201.5 L1055.6 202.7 L1057.6 203.8 L1059.6 204.7 L1061.6 205.6 L1063.6 206.4 L1065.6 207.0 L1067.6 207.7 L1069.7 208.2 L1071.7 208.7 L1073.7 209.1 L1075.7 209.4 L1077.7 209.8 L1079.7 210.1 L1081.7 210.3 L1083.8 210.5 L1085.8 210.7 L1087.8 210.9 L1089.8 211.0 L1091.8 211.1 L1093.8 211.2 L1095.8 211.3 L1097.9 211.4 L1099.9 211.5 L1101.9 211.6 L1103.9 211.6 L1105.9 211.7 L1107.9 211.7 L1109.9 211.7 L1112.0 211.8 L1114.0 211.8 L1116.0 211.8 L1118.0 211.8" stroke="#1db3bd" stroke-width="2.6" fill="none"/>
<path d="M836.0 54.5 L838.0 54.5 L840.0 54.5 L842.0 54.5 L844.1 54.5 L846.1 54.5 L848.1 54.5 L850.1 54.5 L852.1 54.5 L854.1 54.5 L856.1 54.5 L858.2 54.6 L860.2 54.6 L862.2 54.6 L864.2 54.6 L866.2 54.6 L868.2 54.6 L870.2 54.6 L872.3 54.7 L874.3 54.7 L876.3 54.7 L878.3 54.7 L880.3 54.8 L882.3 54.8 L884.3 54.9 L886.4 54.9 L888.4 55.0 L890.4 55.0 L892.4 55.1 L894.4 55.2 L896.4 55.3 L898.4 55.4 L900.5 55.5 L902.5 55.6 L904.5 55.8 L906.5 55.9 L908.5 56.1 L910.5 56.3 L912.5 56.6 L914.6 56.8 L916.6 57.1 L918.6 57.4 L920.6 57.8 L922.6 58.2 L924.6 58.7 L926.6 59.2 L928.7 59.7 L930.7 60.3 L932.7 61.0 L934.7 61.8 L936.7 62.6 L938.7 63.5 L940.7 64.5 L942.8 65.6 L944.8 66.8 L946.8 68.1 L948.8 69.4 L950.8 70.9 L952.8 72.5 L954.8 74.2 L956.9 76.0 L958.9 77.9 L960.9 80.0 L962.9 82.1 L964.9 84.3 L966.9 86.6 L968.9 89.1 L971.0 91.6 L973.0 94.2 L975.0 96.8 L977.0 99.6 L979.0 102.4 L981.0 105.2 L983.0 108.1 L985.1 111.1 L987.1 114.1 L989.1 117.1 L991.1 120.1 L993.1 123.1 L995.1 126.2 L997.1 129.2 L999.2 132.2 L1001.2 135.2 L1003.2 138.2 L1005.2 141.1 L1007.2 144.0 L1009.2 146.9 L1011.2 149.7 L1013.3 152.4 L1015.3 155.0 L1017.3 157.6 L1019.3 160.1 L1021.3 162.5 L1023.3 164.8 L1025.3 167.1 L1027.4 169.2 L1029.4 171.2 L1031.4 173.1 L1033.4 174.9 L1035.4 176.5 L1037.4 178.1 L1039.4 179.6 L1041.5 180.9 L1043.5 182.2 L1045.5 183.4 L1047.5 184.4 L1049.5 185.4 L1051.5 186.3 L1053.5 187.1 L1055.6 187.8 L1057.6 188.5 L1059.6 189.1 L1061.6 189.7 L1063.6 190.2 L1065.6 190.6 L1067.6 191.0 L1069.7 191.4 L1071.7 191.7 L1073.7 192.0 L1075.7 192.2 L1077.7 192.5 L1079.7 192.7 L1081.7 192.8 L1083.8 193.0 L1085.8 193.1 L1087.8 193.3 L1089.8 193.4 L1091.8 193.5 L1093.8 193.6 L1095.8 193.7 L1097.9 193.7 L1099.9 193.8 L1101.9 193.9 L1103.9 193.9 L1105.9 193.9 L1107.9 194.0 L1109.9 194.0 L1112.0 194.0 L1114.0 194.1 L1116.0 194.1 L1118.0 194.1" stroke="#c91f3f" stroke-width="2.6" fill="none"/>
<path d="M836.0 71.0 L838.0 71.0 L840.0 71.0 L842.0 71.0 L844.1 71.0 L846.1 71.0 L848.1 71.0 L850.1 71.0 L852.1 71.0 L854.1 71.0 L856.1 71.0 L858.2 71.0 L860.2 71.0 L862.2 71.0 L864.2 71.0 L866.2 71.0 L868.2 71.0 L870.2 71.0 L872.3 71.0 L874.3 71.0 L876.3 71.0 L878.3 71.0 L880.3 71.0 L882.3 71.0 L884.3 71.0 L886.4 71.0 L888.4 71.0 L890.4 71.1 L892.4 71.1 L894.4 71.1 L896.4 71.1 L898.4 71.1 L900.5 71.1 L902.5 71.1 L904.5 71.2 L906.5 71.2 L908.5 71.2 L910.5 71.3 L912.5 71.3 L914.6 71.4 L916.6 71.4 L918.6 71.5 L920.6 71.6 L922.6 71.6 L924.6 71.7 L926.6 71.9 L928.7 72.0 L930.7 72.1 L932.7 72.3 L934.7 72.5 L936.7 72.7 L938.7 72.9 L940.7 73.2 L942.8 73.5 L944.8 73.9 L946.8 74.3 L948.8 74.8 L950.8 75.3 L952.8 75.9 L954.8 76.6 L956.9 77.3 L958.9 78.1 L960.9 79.0 L962.9 80.1 L964.9 81.2 L966.9 82.5 L968.9 83.8 L971.0 85.3 L973.0 87.0 L975.0 88.7 L977.0 90.6 L979.0 92.7 L981.0 94.9 L983.0 97.2 L985.1 99.7 L987.1 102.3 L989.1 105.0 L991.1 107.9 L993.1 110.8 L995.1 113.9 L997.1 117.0 L999.2 120.2 L1001.2 123.6 L1003.2 126.9 L1005.2 130.4 L1007.2 133.8 L1009.2 137.4 L1011.2 140.9 L1013.3 144.5 L1015.3 148.0 L1017.3 151.6 L1019.3 155.2 L1021.3 158.7 L1023.3 162.2 L1025.3 165.7 L1027.4 169.1 L1029.4 172.5 L1031.4 175.8 L1033.4 179.0 L1035.4 182.1 L1037.4 185.1 L1039.4 188.1 L1041.5 190.9 L1043.5 193.6 L1045.5 196.2 L1047.5 198.6 L1049.5 200.9 L1051.5 203.1 L1053.5 205.1 L1055.6 207.0 L1057.6 208.7 L1059.6 210.3 L1061.6 211.8 L1063.6 213.1 L1065.6 214.4 L1067.6 215.5 L1069.7 216.5 L1071.7 217.4 L1073.7 218.2 L1075.7 218.9 L1077.7 219.6 L1079.7 220.1 L1081.7 220.6 L1083.8 221.1 L1085.8 221.5 L1087.8 221.8 L1089.8 222.1 L1091.8 222.4 L1093.8 222.7 L1095.8 222.9 L1097.9 223.1 L1099.9 223.2 L1101.9 223.4 L1103.9 223.5 L1105.9 223.6 L1107.9 223.7 L1109.9 223.8 L1112.0 223.8 L1114.0 223.9 L1116.0 224.0 L1118.0 224.0" stroke="#1a98d5" stroke-width="2.6" fill="none"/>
</g>
<rect x="836" y="32" width="282" height="282" fill="none" stroke="#333" stroke-width="1.3"/>
<line x1="836.0" y1="314.0" x2="842.5" y2="314.0" stroke="#333" stroke-width="1.1"/>
<line x1="836.0" y1="292.8" x2="839.8" y2="292.8" stroke="#333" stroke-width="1.1"/>
<line x1="836.0" y1="280.4" x2="839.8" y2="280.4" stroke="#333" stroke-width="1.1"/>
<line x1="836.0" y1="271.6" x2="839.8" y2="271.6" stroke="#333" stroke-width="1.1"/>
<line x1="836.0" y1="264.7" x2="839.8" y2="264.7" stroke="#333" stroke-width="1.1"/>
<line x1="836.0" y1="259.1" x2="839.8" y2="259.1" stroke="#333" stroke-width="1.1"/>
<line x1="836.0" y1="254.4" x2="839.8" y2="254.4" stroke="#333" stroke-width="1.1"/>
<line x1="836.0" y1="250.3" x2="839.8" y2="250.3" stroke="#333" stroke-width="1.1"/>
<line x1="836.0" y1="246.7" x2="839.8" y2="246.7" stroke="#333" stroke-width="1.1"/>
<line x1="836.0" y1="243.5" x2="842.5" y2="243.5" stroke="#333" stroke-width="1.1"/>
<line x1="836.0" y1="222.3" x2="839.8" y2="222.3" stroke="#333" stroke-width="1.1"/>
<line x1="836.0" y1="209.9" x2="839.8" y2="209.9" stroke="#333" stroke-width="1.1"/>
<line x1="836.0" y1="201.1" x2="839.8" y2="201.1" stroke="#333" stroke-width="1.1"/>
<line x1="836.0" y1="194.2" x2="839.8" y2="194.2" stroke="#333" stroke-width="1.1"/>
<line x1="836.0" y1="188.6" x2="839.8" y2="188.6" stroke="#333" stroke-width="1.1"/>
<line x1="836.0" y1="183.9" x2="839.8" y2="183.9" stroke="#333" stroke-width="1.1"/>
<line x1="836.0" y1="179.8" x2="839.8" y2="179.8" stroke="#333" stroke-width="1.1"/>
<line x1="836.0" y1="176.2" x2="839.8" y2="176.2" stroke="#333" stroke-width="1.1"/>
<line x1="836.0" y1="173.0" x2="842.5" y2="173.0" stroke="#333" stroke-width="1.1"/>
<line x1="836.0" y1="151.8" x2="839.8" y2="151.8" stroke="#333" stroke-width="1.1"/>
<line x1="836.0" y1="139.4" x2="839.8" y2="139.4" stroke="#333" stroke-width="1.1"/>
<line x1="836.0" y1="130.6" x2="839.8" y2="130.6" stroke="#333" stroke-width="1.1"/>
<line x1="836.0" y1="123.7" x2="839.8" y2="123.7" stroke="#333" stroke-width="1.1"/>
<line x1="836.0" y1="118.1" x2="839.8" y2="118.1" stroke="#333" stroke-width="1.1"/>
<line x1="836.0" y1="113.4" x2="839.8" y2="113.4" stroke="#333" stroke-width="1.1"/>
<line x1="836.0" y1="109.3" x2="839.8" y2="109.3" stroke="#333" stroke-width="1.1"/>
<line x1="836.0" y1="105.7" x2="839.8" y2="105.7" stroke="#333" stroke-width="1.1"/>
<line x1="836.0" y1="102.5" x2="842.5" y2="102.5" stroke="#333" stroke-width="1.1"/>
<line x1="836.0" y1="81.3" x2="839.8" y2="81.3" stroke="#333" stroke-width="1.1"/>
<line x1="836.0" y1="68.9" x2="839.8" y2="68.9" stroke="#333" stroke-width="1.1"/>
<line x1="836.0" y1="60.1" x2="839.8" y2="60.1" stroke="#333" stroke-width="1.1"/>
<line x1="836.0" y1="53.2" x2="839.8" y2="53.2" stroke="#333" stroke-width="1.1"/>
<line x1="836.0" y1="47.6" x2="839.8" y2="47.6" stroke="#333" stroke-width="1.1"/>
<line x1="836.0" y1="42.9" x2="839.8" y2="42.9" stroke="#333" stroke-width="1.1"/>
<line x1="836.0" y1="38.8" x2="839.8" y2="38.8" stroke="#333" stroke-width="1.1"/>
<line x1="836.0" y1="35.2" x2="839.8" y2="35.2" stroke="#333" stroke-width="1.1"/>
<line x1="836.0" y1="32.0" x2="842.5" y2="32.0" stroke="#333" stroke-width="1.1"/>
<line x1="836.0" y1="314.0" x2="836.0" y2="307.5" stroke="#333" stroke-width="1.1"/>
<line x1="857.2" y1="314.0" x2="857.2" y2="310.2" stroke="#333" stroke-width="1.1"/>
<line x1="869.6" y1="314.0" x2="869.6" y2="310.2" stroke="#333" stroke-width="1.1"/>
<line x1="878.4" y1="314.0" x2="878.4" y2="310.2" stroke="#333" stroke-width="1.1"/>
<line x1="885.3" y1="314.0" x2="885.3" y2="310.2" stroke="#333" stroke-width="1.1"/>
<line x1="890.9" y1="314.0" x2="890.9" y2="310.2" stroke="#333" stroke-width="1.1"/>
<line x1="895.6" y1="314.0" x2="895.6" y2="310.2" stroke="#333" stroke-width="1.1"/>
<line x1="899.7" y1="314.0" x2="899.7" y2="310.2" stroke="#333" stroke-width="1.1"/>
<line x1="903.3" y1="314.0" x2="903.3" y2="310.2" stroke="#333" stroke-width="1.1"/>
<line x1="906.5" y1="314.0" x2="906.5" y2="307.5" stroke="#333" stroke-width="1.1"/>
<line x1="927.7" y1="314.0" x2="927.7" y2="310.2" stroke="#333" stroke-width="1.1"/>
<line x1="940.1" y1="314.0" x2="940.1" y2="310.2" stroke="#333" stroke-width="1.1"/>
<line x1="948.9" y1="314.0" x2="948.9" y2="310.2" stroke="#333" stroke-width="1.1"/>
<line x1="955.8" y1="314.0" x2="955.8" y2="310.2" stroke="#333" stroke-width="1.1"/>
<line x1="961.4" y1="314.0" x2="961.4" y2="310.2" stroke="#333" stroke-width="1.1"/>
<line x1="966.1" y1="314.0" x2="966.1" y2="310.2" stroke="#333" stroke-width="1.1"/>
<line x1="970.2" y1="314.0" x2="970.2" y2="310.2" stroke="#333" stroke-width="1.1"/>
<line x1="973.8" y1="314.0" x2="973.8" y2="310.2" stroke="#333" stroke-width="1.1"/>
<line x1="977.0" y1="314.0" x2="977.0" y2="307.5" stroke="#333" stroke-width="1.1"/>
<line x1="998.2" y1="314.0" x2="998.2" y2="310.2" stroke="#333" stroke-width="1.1"/>
<line x1="1010.6" y1="314.0" x2="1010.6" y2="310.2" stroke="#333" stroke-width="1.1"/>
<line x1="1019.4" y1="314.0" x2="1019.4" y2="310.2" stroke="#333" stroke-width="1.1"/>
<line x1="1026.3" y1="314.0" x2="1026.3" y2="310.2" stroke="#333" stroke-width="1.1"/>
<line x1="1031.9" y1="314.0" x2="1031.9" y2="310.2" stroke="#333" stroke-width="1.1"/>
<line x1="1036.6" y1="314.0" x2="1036.6" y2="310.2" stroke="#333" stroke-width="1.1"/>
<line x1="1040.7" y1="314.0" x2="1040.7" y2="310.2" stroke="#333" stroke-width="1.1"/>
<line x1="1044.3" y1="314.0" x2="1044.3" y2="310.2" stroke="#333" stroke-width="1.1"/>
<line x1="1047.5" y1="314.0" x2="1047.5" y2="307.5" stroke="#333" stroke-width="1.1"/>
<line x1="1068.7" y1="314.0" x2="1068.7" y2="310.2" stroke="#333" stroke-width="1.1"/>
<line x1="1081.1" y1="314.0" x2="1081.1" y2="310.2" stroke="#333" stroke-width="1.1"/>
<line x1="1089.9" y1="314.0" x2="1089.9" y2="310.2" stroke="#333" stroke-width="1.1"/>
<line x1="1096.8" y1="314.0" x2="1096.8" y2="310.2" stroke="#333" stroke-width="1.1"/>
<line x1="1102.4" y1="314.0" x2="1102.4" y2="310.2" stroke="#333" stroke-width="1.1"/>
<line x1="1107.1" y1="314.0" x2="1107.1" y2="310.2" stroke="#333" stroke-width="1.1"/>
<line x1="1111.2" y1="314.0" x2="1111.2" y2="310.2" stroke="#333" stroke-width="1.1"/>
<line x1="1114.8" y1="314.0" x2="1114.8" y2="310.2" stroke="#333" stroke-width="1.1"/>
<line x1="1118.0" y1="314.0" x2="1118.0" y2="307.5" stroke="#333" stroke-width="1.1"/>
<text x="829.5" y="36.4" font-size="15.6" text-anchor="end">10<tspan dy="-7.0" font-size="11.2">0</tspan></text>
<text x="1118.0" y="337.5" font-size="15.6" text-anchor="middle">10<tspan dy="-7.0" font-size="11.2">0</tspan></text>
<text x="829.5" y="106.9" font-size="15.6" text-anchor="end">10<tspan dy="-7.0" font-size="11.2" textLength="9.6" lengthAdjust="spacingAndGlyphs">–1</tspan></text>
<text x="1047.5" y="337.5" font-size="15.6" text-anchor="middle">10<tspan dy="-7.0" font-size="11.2" textLength="9.6" lengthAdjust="spacingAndGlyphs">–1</tspan></text>
<text x="829.5" y="177.4" font-size="15.6" text-anchor="end">10<tspan dy="-7.0" font-size="11.2" textLength="12.0" lengthAdjust="spacingAndGlyphs">–2</tspan></text>
<text x="977.0" y="337.5" font-size="15.6" text-anchor="middle">10<tspan dy="-7.0" font-size="11.2" textLength="12.0" lengthAdjust="spacingAndGlyphs">–2</tspan></text>
<text x="829.5" y="247.9" font-size="15.6" text-anchor="end">10<tspan dy="-7.0" font-size="11.2" textLength="12.0" lengthAdjust="spacingAndGlyphs">–3</tspan></text>
<text x="906.5" y="337.5" font-size="15.6" text-anchor="middle">10<tspan dy="-7.0" font-size="11.2" textLength="12.0" lengthAdjust="spacingAndGlyphs">–3</tspan></text>
<text x="829.5" y="318.4" font-size="15.6" text-anchor="end">10<tspan dy="-7.0" font-size="11.2" textLength="12.0" lengthAdjust="spacingAndGlyphs">–4</tspan></text>
<text x="836.0" y="337.5" font-size="15.6" text-anchor="middle">10<tspan dy="-7.0" font-size="11.2" textLength="12.0" lengthAdjust="spacingAndGlyphs">–4</tspan></text>
<text x="974.5" y="363.0" font-size="17.5" text-anchor="middle" textLength="120.0" lengthAdjust="spacingAndGlyphs">Input (RNAP/s)</text>
<text x="785.0" y="173.0" font-size="17.5" text-anchor="middle" textLength="136.0" lengthAdjust="spacingAndGlyphs" transform="rotate(-90 785.0 173.0)">Output (RNAP/s)</text>
<text x="766.0" y="411.5" font-size="26" font-weight="bold" fill="#1a1a1a" stroke="#1a1a1a" stroke-width="0.9">d</text>
<rect x="828.6" y="397.6" width="285.3" height="284.9" fill="#f8f8f8"/>
<rect x="828.60" y="397.60" width="23.78" height="23.74" fill="#0659a8"/>
<rect x="852.38" y="421.34" width="23.78" height="23.74" fill="#c9daea"/>
<rect x="876.15" y="445.08" width="23.78" height="23.74" fill="#0659a8"/>
<rect x="899.93" y="468.83" width="23.78" height="23.74" fill="#519fd3"/>
<rect x="923.70" y="492.57" width="23.78" height="23.74" fill="#94c2df"/>
<rect x="947.48" y="516.31" width="23.78" height="23.74" fill="#9bc5e0"/>
<rect x="971.25" y="540.05" width="23.78" height="23.74" fill="#0e64af"/>
<rect x="995.03" y="563.79" width="23.78" height="23.74" fill="#98c4e0"/>
<rect x="1018.80" y="587.53" width="23.78" height="23.74" fill="#54a1d4"/>
<rect x="1042.58" y="611.27" width="23.78" height="23.74" fill="#348bc8"/>
<rect x="1066.35" y="635.02" width="23.78" height="23.74" fill="#0a5fac"/>
<rect x="1090.12" y="658.76" width="23.78" height="23.74" fill="#368dc9"/>
<line x1="828.6" y1="397.6" x2="828.6" y2="682.5" stroke="#5e5e5e" stroke-width="1"/>
<line x1="828.6" y1="397.6" x2="1113.9" y2="397.6" stroke="#5e5e5e" stroke-width="1"/>
<line x1="852.4" y1="397.6" x2="852.4" y2="682.5" stroke="#5e5e5e" stroke-width="1"/>
<line x1="828.6" y1="421.3" x2="1113.9" y2="421.3" stroke="#5e5e5e" stroke-width="1"/>
<line x1="876.2" y1="397.6" x2="876.2" y2="682.5" stroke="#5e5e5e" stroke-width="1"/>
<line x1="828.6" y1="445.1" x2="1113.9" y2="445.1" stroke="#5e5e5e" stroke-width="1"/>
<line x1="899.9" y1="397.6" x2="899.9" y2="682.5" stroke="#5e5e5e" stroke-width="1"/>
<line x1="828.6" y1="468.8" x2="1113.9" y2="468.8" stroke="#5e5e5e" stroke-width="1"/>
<line x1="923.7" y1="397.6" x2="923.7" y2="682.5" stroke="#5e5e5e" stroke-width="1"/>
<line x1="828.6" y1="492.6" x2="1113.9" y2="492.6" stroke="#5e5e5e" stroke-width="1"/>
<line x1="947.5" y1="397.6" x2="947.5" y2="682.5" stroke="#5e5e5e" stroke-width="1"/>
<line x1="828.6" y1="516.3" x2="1113.9" y2="516.3" stroke="#5e5e5e" stroke-width="1"/>
<line x1="971.2" y1="397.6" x2="971.2" y2="682.5" stroke="#5e5e5e" stroke-width="1"/>
<line x1="828.6" y1="540.0" x2="1113.9" y2="540.0" stroke="#5e5e5e" stroke-width="1"/>
<line x1="995.0" y1="397.6" x2="995.0" y2="682.5" stroke="#5e5e5e" stroke-width="1"/>
<line x1="828.6" y1="563.8" x2="1113.9" y2="563.8" stroke="#5e5e5e" stroke-width="1"/>
<line x1="1018.8" y1="397.6" x2="1018.8" y2="682.5" stroke="#5e5e5e" stroke-width="1"/>
<line x1="828.6" y1="587.5" x2="1113.9" y2="587.5" stroke="#5e5e5e" stroke-width="1"/>
<line x1="1042.6" y1="397.6" x2="1042.6" y2="682.5" stroke="#5e5e5e" stroke-width="1"/>
<line x1="828.6" y1="611.3" x2="1113.9" y2="611.3" stroke="#5e5e5e" stroke-width="1"/>
<line x1="1066.4" y1="397.6" x2="1066.4" y2="682.5" stroke="#5e5e5e" stroke-width="1"/>
<line x1="828.6" y1="635.0" x2="1113.9" y2="635.0" stroke="#5e5e5e" stroke-width="1"/>
<line x1="1090.1" y1="397.6" x2="1090.1" y2="682.5" stroke="#5e5e5e" stroke-width="1"/>
<line x1="828.6" y1="658.8" x2="1113.9" y2="658.8" stroke="#5e5e5e" stroke-width="1"/>
<line x1="1113.9" y1="397.6" x2="1113.9" y2="682.5" stroke="#5e5e5e" stroke-width="1"/>
<line x1="828.6" y1="682.5" x2="1113.9" y2="682.5" stroke="#5e5e5e" stroke-width="1"/>
<line x1="824.1" y1="409.5" x2="828.6" y2="409.5" stroke="#444" stroke-width="1"/>
<text x="817.5" y="415.1" font-size="15.5" text-anchor="end" textLength="21.5" lengthAdjust="spacingAndGlyphs" fill="#7dc363">JR1</text>
<line x1="840.5" y1="682.5" x2="840.5" y2="687.0" stroke="#444" stroke-width="1"/>
<text transform="translate(833.1 717.0) rotate(-69)" font-size="15" fill="#7dc363">P<tspan font-size="10" dy="3" dx="1">JR1</tspan></text>
<line x1="824.1" y1="433.2" x2="828.6" y2="433.2" stroke="#444" stroke-width="1"/>
<text x="817.5" y="438.8" font-size="15.5" text-anchor="end" textLength="23.5" lengthAdjust="spacingAndGlyphs" fill="#b98654">JR2</text>
<line x1="864.3" y1="682.5" x2="864.3" y2="687.0" stroke="#444" stroke-width="1"/>
<text transform="translate(856.9 717.0) rotate(-69)" font-size="15" fill="#b98654">P<tspan font-size="10" dy="3" dx="1">JR2</tspan></text>
<line x1="824.1" y1="457.0" x2="828.6" y2="457.0" stroke="#444" stroke-width="1"/>
<text x="817.5" y="462.6" font-size="15.5" text-anchor="end" textLength="23.5" lengthAdjust="spacingAndGlyphs" fill="#7b3517">JR3</text>
<line x1="888.0" y1="682.5" x2="888.0" y2="687.0" stroke="#444" stroke-width="1"/>
<text transform="translate(880.6 717.0) rotate(-69)" font-size="15" fill="#7b3517">P<tspan font-size="10" dy="3" dx="1">JR3</tspan></text>
<line x1="824.1" y1="480.7" x2="828.6" y2="480.7" stroke="#444" stroke-width="1"/>
<text x="817.5" y="486.3" font-size="15.5" text-anchor="end" textLength="23.5" lengthAdjust="spacingAndGlyphs" fill="#de86b8">JR4</text>
<line x1="911.8" y1="682.5" x2="911.8" y2="687.0" stroke="#444" stroke-width="1"/>
<text transform="translate(904.4 717.0) rotate(-69)" font-size="15" fill="#de86b8">P<tspan font-size="10" dy="3" dx="1">JR4</tspan></text>
<line x1="824.1" y1="504.4" x2="828.6" y2="504.4" stroke="#444" stroke-width="1"/>
<text x="817.5" y="510.0" font-size="15.5" text-anchor="end" textLength="23.5" lengthAdjust="spacingAndGlyphs" fill="#86cbd6">JR5</text>
<line x1="935.6" y1="682.5" x2="935.6" y2="687.0" stroke="#444" stroke-width="1"/>
<text transform="translate(928.2 717.0) rotate(-69)" font-size="15" fill="#86cbd6">P<tspan font-size="10" dy="3" dx="1">JR5</tspan></text>
<line x1="824.1" y1="528.2" x2="828.6" y2="528.2" stroke="#444" stroke-width="1"/>
<text x="817.5" y="533.8" font-size="15.5" text-anchor="end" textLength="23.5" lengthAdjust="spacingAndGlyphs" fill="#7a5ca6">JR6</text>
<line x1="959.4" y1="682.5" x2="959.4" y2="687.0" stroke="#444" stroke-width="1"/>
<text transform="translate(952.0 717.0) rotate(-69)" font-size="15" fill="#7a5ca6">P<tspan font-size="10" dy="3" dx="1">JR6</tspan></text>
<line x1="824.1" y1="551.9" x2="828.6" y2="551.9" stroke="#444" stroke-width="1"/>
<text x="817.5" y="557.5" font-size="15.5" text-anchor="end" textLength="23.5" lengthAdjust="spacingAndGlyphs" fill="#1db3bd">JR7</text>
<line x1="983.1" y1="682.5" x2="983.1" y2="687.0" stroke="#444" stroke-width="1"/>
<text transform="translate(975.7 717.0) rotate(-69)" font-size="15" fill="#1db3bd">P<tspan font-size="10" dy="3" dx="1">JR7</tspan></text>
<line x1="824.1" y1="575.7" x2="828.6" y2="575.7" stroke="#444" stroke-width="1"/>
<text x="817.5" y="581.3" font-size="15.5" text-anchor="end" textLength="23.5" lengthAdjust="spacingAndGlyphs" fill="#858585">JR8</text>
<line x1="1006.9" y1="682.5" x2="1006.9" y2="687.0" stroke="#444" stroke-width="1"/>
<text transform="translate(999.5 717.0) rotate(-69)" font-size="15" fill="#858585">P<tspan font-size="10" dy="3" dx="1">JR8</tspan></text>
<line x1="824.1" y1="599.4" x2="828.6" y2="599.4" stroke="#444" stroke-width="1"/>
<text x="817.5" y="605.0" font-size="15.5" text-anchor="end" textLength="23.5" lengthAdjust="spacingAndGlyphs" fill="#ee7651">JR9</text>
<line x1="1030.7" y1="682.5" x2="1030.7" y2="687.0" stroke="#444" stroke-width="1"/>
<text transform="translate(1023.3 717.0) rotate(-69)" font-size="15" fill="#ee7651">P<tspan font-size="10" dy="3" dx="1">JR9</tspan></text>
<line x1="824.1" y1="623.1" x2="828.6" y2="623.1" stroke="#444" stroke-width="1"/>
<text x="817.5" y="628.7" font-size="15.5" text-anchor="end" textLength="32.5" lengthAdjust="spacingAndGlyphs" fill="#d21f44">JR10</text>
<line x1="1054.5" y1="682.5" x2="1054.5" y2="687.0" stroke="#444" stroke-width="1"/>
<text transform="translate(1047.1 717.0) rotate(-69)" font-size="15" fill="#d21f44">P<tspan font-size="10" dy="3" dx="1">JR10</tspan></text>
<line x1="824.1" y1="646.9" x2="828.6" y2="646.9" stroke="#444" stroke-width="1"/>
<text x="817.5" y="652.5" font-size="15.5" text-anchor="end" textLength="28.0" lengthAdjust="spacingAndGlyphs" fill="#1a98d5">JR11</text>
<line x1="1078.2" y1="682.5" x2="1078.2" y2="687.0" stroke="#444" stroke-width="1"/>
<text transform="translate(1070.8 717.0) rotate(-69)" font-size="15" fill="#1a98d5">P<tspan font-size="10" dy="3" dx="1">JR11</tspan></text>
<line x1="824.1" y1="670.6" x2="828.6" y2="670.6" stroke="#444" stroke-width="1"/>
<text x="817.5" y="676.2" font-size="15.5" text-anchor="end" textLength="32.0" lengthAdjust="spacingAndGlyphs" fill="#0f7a70">JR12</text>
<line x1="1102.0" y1="682.5" x2="1102.0" y2="687.0" stroke="#444" stroke-width="1"/>
<text transform="translate(1094.6 717.0) rotate(-69)" font-size="15" fill="#0f7a70">P<tspan font-size="10" dy="3" dx="1">JR12</tspan></text>
<text x="782.0" y="541.0" font-size="17.5" text-anchor="middle" textLength="105.0" lengthAdjust="spacingAndGlyphs" transform="rotate(-90 782.0 541.0)">Repressors</text>
<text x="983.0" y="741.2" font-size="17.5" text-anchor="middle" textLength="85.0" lengthAdjust="spacingAndGlyphs">Promoters</text>
<defs><linearGradient id="cbg" x1="0" y1="1" x2="0" y2="0"><stop offset="0.00" stop-color="#f2f5fa"/><stop offset="0.10" stop-color="#dae4ef"/><stop offset="0.20" stop-color="#c2d6e8"/><stop offset="0.30" stop-color="#a2c8e1"/><stop offset="0.40" stop-color="#80b9dd"/><stop offset="0.50" stop-color="#5aa5d6"/><stop offset="0.60" stop-color="#3b91cc"/><stop offset="0.70" stop-color="#247dbf"/><stop offset="0.80" stop-color="#146cb4"/><stop offset="0.90" stop-color="#0659a8"/><stop offset="1.00" stop-color="#273e78"/></linearGradient></defs>
<rect x="1127.5" y="398.2" width="14.5" height="285.2" fill="url(#cbg)"/>
<line x1="1142.0" y1="683.4" x2="1146.5" y2="683.4" stroke="#444" stroke-width="1.1"/>
<text x="1153.6" y="688.6" font-size="15">0</text>
<line x1="1142.0" y1="654.9" x2="1146.5" y2="654.9" stroke="#444" stroke-width="1.1"/>
<text x="1153.6" y="660.1" font-size="15">10</text>
<line x1="1142.0" y1="626.4" x2="1146.5" y2="626.4" stroke="#444" stroke-width="1.1"/>
<text x="1153.6" y="631.6" font-size="15">20</text>
<line x1="1142.0" y1="597.8" x2="1146.5" y2="597.8" stroke="#444" stroke-width="1.1"/>
<text x="1153.6" y="603.0" font-size="15">30</text>
<line x1="1142.0" y1="569.3" x2="1146.5" y2="569.3" stroke="#444" stroke-width="1.1"/>
<text x="1153.6" y="574.5" font-size="15">40</text>
<line x1="1142.0" y1="540.8" x2="1146.5" y2="540.8" stroke="#444" stroke-width="1.1"/>
<text x="1153.6" y="546.0" font-size="15">50</text>
<line x1="1142.0" y1="512.3" x2="1146.5" y2="512.3" stroke="#444" stroke-width="1.1"/>
<text x="1153.6" y="517.5" font-size="15">60</text>
<line x1="1142.0" y1="483.8" x2="1146.5" y2="483.8" stroke="#444" stroke-width="1.1"/>
<text x="1153.6" y="489.0" font-size="15">70</text>
<line x1="1142.0" y1="455.2" x2="1146.5" y2="455.2" stroke="#444" stroke-width="1.1"/>
<text x="1153.6" y="460.4" font-size="15">80</text>
<line x1="1142.0" y1="426.7" x2="1146.5" y2="426.7" stroke="#444" stroke-width="1.1"/>
<text x="1153.6" y="431.9" font-size="15">90</text>
<line x1="1142.0" y1="398.2" x2="1146.5" y2="398.2" stroke="#444" stroke-width="1.1"/>
<text x="1153.6" y="403.4" font-size="15">100</text>
<text x="1185.0" y="540.5" font-size="17.5" text-anchor="middle" textLength="103.0" lengthAdjust="spacingAndGlyphs" transform="rotate(90 1185.0 540.5)">Fold change</text>
<text x="0.5" y="786.8" font-size="26" font-weight="bold" fill="#1a1a1a" stroke="#1a1a1a" stroke-width="0.9">e</text>
<rect x="85.3" y="971.0" width="16.1" height="106.0" fill="#d9dadb" stroke="#4d4d4d" stroke-width="1.1"/>
<rect x="101.4" y="806.1" width="15.9" height="270.9" fill="#d9dadb" stroke="#4d4d4d" stroke-width="1.1"/>
<rect x="152.3" y="1018.2" width="15.9" height="58.8" fill="#d9dadb" stroke="#4d4d4d" stroke-width="1.1"/>
<rect x="168.2" y="830.1" width="16.1" height="246.9" fill="#d9dadb" stroke="#4d4d4d" stroke-width="1.1"/>
<rect x="219.4" y="974.4" width="15.8" height="102.6" fill="#d9dadb" stroke="#4d4d4d" stroke-width="1.1"/>
<rect x="235.2" y="810.3" width="16.2" height="266.7" fill="#d9dadb" stroke="#4d4d4d" stroke-width="1.1"/>
<rect x="287.1" y="1005.0" width="15.5" height="72.0" fill="#d9dadb" stroke="#4d4d4d" stroke-width="1.1"/>
<rect x="302.6" y="830.1" width="16.2" height="246.9" fill="#d9dadb" stroke="#4d4d4d" stroke-width="1.1"/>
<path d="M74.6 795 H329.4 V1077 H74.6 Z" fill="none" stroke="#333" stroke-width="1.2"/>
<line x1="67.6" y1="1070.8" x2="74.6" y2="1070.8" stroke="#333" stroke-width="1.1"/>
<line x1="70.6" y1="1050.0" x2="74.6" y2="1050.0" stroke="#333" stroke-width="1.1"/>
<line x1="70.6" y1="1037.9" x2="74.6" y2="1037.9" stroke="#333" stroke-width="1.1"/>
<line x1="70.6" y1="1029.3" x2="74.6" y2="1029.3" stroke="#333" stroke-width="1.1"/>
<line x1="70.6" y1="1022.6" x2="74.6" y2="1022.6" stroke="#333" stroke-width="1.1"/>
<line x1="70.6" y1="1017.1" x2="74.6" y2="1017.1" stroke="#333" stroke-width="1.1"/>
<line x1="70.6" y1="1012.5" x2="74.6" y2="1012.5" stroke="#333" stroke-width="1.1"/>
<line x1="70.6" y1="1008.5" x2="74.6" y2="1008.5" stroke="#333" stroke-width="1.1"/>
<line x1="70.6" y1="1005.0" x2="74.6" y2="1005.0" stroke="#333" stroke-width="1.1"/>
<line x1="67.6" y1="1001.9" x2="74.6" y2="1001.9" stroke="#333" stroke-width="1.1"/>
<line x1="70.6" y1="981.1" x2="74.6" y2="981.1" stroke="#333" stroke-width="1.1"/>
<line x1="70.6" y1="969.0" x2="74.6" y2="969.0" stroke="#333" stroke-width="1.1"/>
<line x1="70.6" y1="960.3" x2="74.6" y2="960.3" stroke="#333" stroke-width="1.1"/>
<line x1="70.6" y1="953.7" x2="74.6" y2="953.7" stroke="#333" stroke-width="1.1"/>
<line x1="70.6" y1="948.2" x2="74.6" y2="948.2" stroke="#333" stroke-width="1.1"/>
<line x1="70.6" y1="943.6" x2="74.6" y2="943.6" stroke="#333" stroke-width="1.1"/>
<line x1="70.6" y1="939.6" x2="74.6" y2="939.6" stroke="#333" stroke-width="1.1"/>
<line x1="70.6" y1="936.1" x2="74.6" y2="936.1" stroke="#333" stroke-width="1.1"/>
<line x1="67.6" y1="932.9" x2="74.6" y2="932.9" stroke="#333" stroke-width="1.1"/>
<line x1="70.6" y1="912.1" x2="74.6" y2="912.1" stroke="#333" stroke-width="1.1"/>
<line x1="70.6" y1="900.0" x2="74.6" y2="900.0" stroke="#333" stroke-width="1.1"/>
<line x1="70.6" y1="891.4" x2="74.6" y2="891.4" stroke="#333" stroke-width="1.1"/>
<line x1="70.6" y1="884.7" x2="74.6" y2="884.7" stroke="#333" stroke-width="1.1"/>
<line x1="70.6" y1="879.2" x2="74.6" y2="879.2" stroke="#333" stroke-width="1.1"/>
<line x1="70.6" y1="874.6" x2="74.6" y2="874.6" stroke="#333" stroke-width="1.1"/>
<line x1="70.6" y1="870.6" x2="74.6" y2="870.6" stroke="#333" stroke-width="1.1"/>
<line x1="70.6" y1="867.1" x2="74.6" y2="867.1" stroke="#333" stroke-width="1.1"/>
<line x1="67.6" y1="864.0" x2="74.6" y2="864.0" stroke="#333" stroke-width="1.1"/>
<line x1="70.6" y1="843.2" x2="74.6" y2="843.2" stroke="#333" stroke-width="1.1"/>
<line x1="70.6" y1="831.1" x2="74.6" y2="831.1" stroke="#333" stroke-width="1.1"/>
<line x1="70.6" y1="822.4" x2="74.6" y2="822.4" stroke="#333" stroke-width="1.1"/>
<line x1="70.6" y1="815.8" x2="74.6" y2="815.8" stroke="#333" stroke-width="1.1"/>
<line x1="70.6" y1="810.3" x2="74.6" y2="810.3" stroke="#333" stroke-width="1.1"/>
<line x1="70.6" y1="805.7" x2="74.6" y2="805.7" stroke="#333" stroke-width="1.1"/>
<line x1="70.6" y1="801.7" x2="74.6" y2="801.7" stroke="#333" stroke-width="1.1"/>
<line x1="70.6" y1="798.2" x2="74.6" y2="798.2" stroke="#333" stroke-width="1.1"/>
<line x1="67.6" y1="795.0" x2="74.6" y2="795.0" stroke="#333" stroke-width="1.1"/>
<line x1="70.6" y1="1074.0" x2="74.6" y2="1074.0" stroke="#333" stroke-width="1.1"/>
<text x="60.0" y="799.6" font-size="15.6" text-anchor="end">10<tspan dy="-7.0" font-size="11.2">0</tspan></text>
<text x="60.0" y="868.6" font-size="15.6" text-anchor="end">10<tspan dy="-7.0" font-size="11.2" textLength="9.6" lengthAdjust="spacingAndGlyphs">–1</tspan></text>
<text x="60.0" y="937.5" font-size="15.6" text-anchor="end">10<tspan dy="-7.0" font-size="11.2" textLength="12.0" lengthAdjust="spacingAndGlyphs">–2</tspan></text>
<text x="60.0" y="1006.5" font-size="15.6" text-anchor="end">10<tspan dy="-7.0" font-size="11.2" textLength="12.0" lengthAdjust="spacingAndGlyphs">–3</tspan></text>
<text x="60.0" y="1075.4" font-size="15.6" text-anchor="end">10<tspan dy="-7.0" font-size="11.2" textLength="12.0" lengthAdjust="spacingAndGlyphs">–4</tspan></text>
<circle cx="93.2" cy="964.2" r="4.2" fill="#111"/>
<circle cx="93.2" cy="973.8" r="4.2" fill="#111"/>
<circle cx="93.2" cy="977.3" r="4.2" fill="#111"/>
<circle cx="109.4" cy="804.3" r="4.2" fill="#111"/>
<circle cx="109.4" cy="808.8" r="4.2" fill="#111"/>
<circle cx="160.2" cy="991" r="4.2" fill="#111"/>
<circle cx="160.2" cy="1045.4" r="4.2" fill="#111"/>
<circle cx="160.2" cy="1070.8" r="4.2" fill="#111"/>
<circle cx="176" cy="827.7" r="4.2" fill="#111"/>
<circle cx="176" cy="832.2" r="4.2" fill="#111"/>
<circle cx="227.3" cy="967" r="4.2" fill="#111"/>
<circle cx="227.3" cy="972.1" r="4.2" fill="#111"/>
<circle cx="227.3" cy="988.6" r="4.2" fill="#111"/>
<circle cx="243.1" cy="807" r="4.2" fill="#111"/>
<circle cx="243.1" cy="815.7" r="4.2" fill="#111"/>
<circle cx="294.7" cy="998.6" r="4.2" fill="#111"/>
<circle cx="294.7" cy="1004.8" r="4.2" fill="#111"/>
<circle cx="294.7" cy="1012.4" r="4.2" fill="#111"/>
<circle cx="310.5" cy="830.1" r="4.2" fill="#111"/>
<line x1="101.4" y1="1077.0" x2="101.4" y2="1082.5" stroke="#333" stroke-width="1.1"/>
<text x="92.8" y="1096.5" font-size="15" text-anchor="middle">–</text>
<text x="108.7" y="1096.5" font-size="15" text-anchor="middle">+</text>
<line x1="168.2" y1="1077.0" x2="168.2" y2="1082.5" stroke="#333" stroke-width="1.1"/>
<text x="159.6" y="1096.5" font-size="15" text-anchor="middle">–</text>
<text x="175.5" y="1096.5" font-size="15" text-anchor="middle">+</text>
<line x1="235.2" y1="1077.0" x2="235.2" y2="1082.5" stroke="#333" stroke-width="1.1"/>
<text x="226.6" y="1096.5" font-size="15" text-anchor="middle">–</text>
<text x="242.5" y="1096.5" font-size="15" text-anchor="middle">+</text>
<line x1="302.6" y1="1077.0" x2="302.6" y2="1082.5" stroke="#333" stroke-width="1.1"/>
<text x="294.0" y="1096.5" font-size="15" text-anchor="middle">–</text>
<text x="309.9" y="1096.5" font-size="15" text-anchor="middle">+</text>
<line x1="72.9" y1="1101.0" x2="129.0" y2="1101.0" stroke="#9a9a9a" stroke-width="1.3"/>
<text x="101.0" y="1122.4" font-size="17.5" text-anchor="middle">OC6</text>
<line x1="140.0" y1="1101.0" x2="196.0" y2="1101.0" stroke="#9a9a9a" stroke-width="1.3"/>
<text x="168.0" y="1122.4" font-size="17.5" text-anchor="middle">OHC14</text>
<line x1="207.0" y1="1101.0" x2="263.0" y2="1101.0" stroke="#9a9a9a" stroke-width="1.3"/>
<text x="235.0" y="1122.4" font-size="17.5" text-anchor="middle">pC-HSL</text>
<line x1="274.4" y1="1101.0" x2="330.8" y2="1101.0" stroke="#9a9a9a" stroke-width="1.3"/>
<text x="302.6" y="1122.4" font-size="17.5" text-anchor="middle">DAPG</text>
<text x="14.0" y="937.5" font-size="17.5" text-anchor="middle" textLength="136.0" lengthAdjust="spacingAndGlyphs" transform="rotate(-90 14.0 937.5)">Output (RNAP/s)</text>
<text x="369.0" y="786.0" font-size="26" font-weight="bold" fill="#1a1a1a" stroke="#1a1a1a" stroke-width="0.9">f</text>
<text x="428.2" y="794.7" font-size="17.5" textLength="102.8" lengthAdjust="spacingAndGlyphs">Sender cells</text>
<text x="668.5" y="794.5" font-size="17.5" textLength="114.9" lengthAdjust="spacingAndGlyphs">Receiver cells</text>
<line x1="593.4" y1="831.2" x2="612.0" y2="831.2" stroke="#666" stroke-width="1.2"/>
<rect x="366.5" y="803.4" width="226.9" height="55.4" rx="15.5" fill="#fff" stroke="#333" stroke-width="1.65"/>
<rect x="660.8" y="801.3" width="135.8" height="59.3" rx="15.5" fill="#fff" stroke="#333" stroke-width="1.65"/>
<line x1="593.4" y1="831.2" x2="612.0" y2="831.2" stroke="#666" stroke-width="1.2"/>
<text x="608.3" y="813.2" font-size="17.5" textLength="36.7" lengthAdjust="spacingAndGlyphs">OC6</text>
<rect x="391.8" y="809.6" width="82.6" height="45.5" fill="#f0f1f1" stroke="#8a8a8a" stroke-width="1.1" stroke-dasharray="2.2 1.8"/>
<rect x="670.0" y="807.0" width="117.8" height="48.0" fill="#f0f1f1" stroke="#8a8a8a" stroke-width="1.1" stroke-dasharray="2.2 1.8"/>
<circle cx="612.1" cy="831.2" r="2.8" fill="#1ba1dc" stroke="#333" stroke-width="0.8"/>
<path d="M615.83 826.76 A5.8 5.8 0 0 1 615.83 835.64" fill="none" stroke="#1ba1dc" stroke-width="1.9"/>
<path d="M618.66 823.39 A10.2 10.2 0 0 1 618.66 839.01" fill="none" stroke="#1ba1dc" stroke-width="1.9"/>
<path d="M621.48 820.02 A14.6 14.6 0 0 1 621.48 842.38" fill="none" stroke="#1ba1dc" stroke-width="1.9"/>
<line x1="636" y1="831.2" x2="672" y2="831.2" stroke="#1ba1dc" stroke-width="2.6" stroke-dasharray="0.01 3.75" stroke-linecap="round"/>
<line x1="593.4" y1="900.8" x2="612.0" y2="900.8" stroke="#666" stroke-width="1.2"/>
<rect x="366.5" y="872.7" width="226.9" height="55.7" rx="15.5" fill="#fff" stroke="#333" stroke-width="1.65"/>
<rect x="660.8" y="870.9" width="135.8" height="58.9" rx="15.5" fill="#fff" stroke="#333" stroke-width="1.65"/>
<line x1="593.4" y1="900.8" x2="612.0" y2="900.8" stroke="#666" stroke-width="1.2"/>
<text x="598.2" y="882.5" font-size="17.5" textLength="57.4" lengthAdjust="spacingAndGlyphs">OHC14</text>
<rect x="391.8" y="878.1" width="82.6" height="45.9" fill="#f0f1f1" stroke="#8a8a8a" stroke-width="1.1" stroke-dasharray="2.2 1.8"/>
<rect x="670.0" y="876.6" width="117.8" height="47.9" fill="#f0f1f1" stroke="#8a8a8a" stroke-width="1.1" stroke-dasharray="2.2 1.8"/>
<circle cx="612.1" cy="900.8" r="2.8" fill="#8c3f8f" stroke="#333" stroke-width="0.8"/>
<path d="M615.83 896.36 A5.8 5.8 0 0 1 615.83 905.24" fill="none" stroke="#8c3f8f" stroke-width="1.9"/>
<path d="M618.66 892.99 A10.2 10.2 0 0 1 618.66 908.61" fill="none" stroke="#8c3f8f" stroke-width="1.9"/>
<path d="M621.48 889.62 A14.6 14.6 0 0 1 621.48 911.98" fill="none" stroke="#8c3f8f" stroke-width="1.9"/>
<line x1="636" y1="900.8" x2="672" y2="900.8" stroke="#8c3f8f" stroke-width="2.6" stroke-dasharray="0.01 3.75" stroke-linecap="round"/>
<line x1="593.4" y1="970.5" x2="612.0" y2="970.5" stroke="#666" stroke-width="1.2"/>
<rect x="366.5" y="942.1" width="226.9" height="59.4" rx="15.5" fill="#fff" stroke="#333" stroke-width="1.65"/>
<rect x="660.8" y="942.1" width="135.8" height="59.0" rx="15.5" fill="#fff" stroke="#333" stroke-width="1.65"/>
<line x1="593.4" y1="970.5" x2="612.0" y2="970.5" stroke="#666" stroke-width="1.2"/>
<text x="596.5" y="954.1" font-size="17.5" textLength="61.4" lengthAdjust="spacingAndGlyphs">pC-HSL</text>
<rect x="391.8" y="948.2" width="152.8" height="49.2" fill="#f0f1f1" stroke="#8a8a8a" stroke-width="1.1" stroke-dasharray="2.2 1.8"/>
<rect x="670.0" y="947.3" width="117.8" height="48.3" fill="#f0f1f1" stroke="#8a8a8a" stroke-width="1.1" stroke-dasharray="2.2 1.8"/>
<circle cx="612.1" cy="970.5" r="2.8" fill="#1e9a4a" stroke="#333" stroke-width="0.8"/>
<path d="M615.83 966.06 A5.8 5.8 0 0 1 615.83 974.94" fill="none" stroke="#1e9a4a" stroke-width="1.9"/>
<path d="M618.66 962.69 A10.2 10.2 0 0 1 618.66 978.31" fill="none" stroke="#1e9a4a" stroke-width="1.9"/>
<path d="M621.48 959.32 A14.6 14.6 0 0 1 621.48 981.68" fill="none" stroke="#1e9a4a" stroke-width="1.9"/>
<line x1="636" y1="970.5" x2="672" y2="970.5" stroke="#1e9a4a" stroke-width="2.6" stroke-dasharray="0.01 3.75" stroke-linecap="round"/>
<line x1="593.4" y1="1045.8" x2="612.0" y2="1045.8" stroke="#666" stroke-width="1.2"/>
<rect x="366.5" y="1014.3" width="226.9" height="62.6" rx="15.5" fill="#fff" stroke="#333" stroke-width="1.65"/>
<rect x="660.8" y="1016.3" width="135.8" height="59.2" rx="15.5" fill="#fff" stroke="#333" stroke-width="1.65"/>
<line x1="593.4" y1="1045.8" x2="612.0" y2="1045.8" stroke="#666" stroke-width="1.2"/>
<text x="603.3" y="1027.9" font-size="17.5" textLength="46.6" lengthAdjust="spacingAndGlyphs">DAPG</text>
<rect x="391.6" y="1019.2" width="190.5" height="53.6" fill="#f0f1f1" stroke="#8a8a8a" stroke-width="1.1" stroke-dasharray="2.2 1.8"/>
<rect x="670.0" y="1021.4" width="117.8" height="48.3" fill="#f0f1f1" stroke="#8a8a8a" stroke-width="1.1" stroke-dasharray="2.2 1.8"/>
<circle cx="612.1" cy="1045.8" r="2.8" fill="#f07f2d" stroke="#333" stroke-width="0.8"/>
<path d="M615.83 1041.36 A5.8 5.8 0 0 1 615.83 1050.24" fill="none" stroke="#f07f2d" stroke-width="1.9"/>
<path d="M618.66 1037.99 A10.2 10.2 0 0 1 618.66 1053.61" fill="none" stroke="#f07f2d" stroke-width="1.9"/>
<path d="M621.48 1034.62 A14.6 14.6 0 0 1 621.48 1056.98" fill="none" stroke="#f07f2d" stroke-width="1.9"/>
<line x1="636" y1="1045.8" x2="672" y2="1045.8" stroke="#f07f2d" stroke-width="2.6" stroke-dasharray="0.01 3.75" stroke-linecap="round"/>
<line x1="372.7" y1="831.2" x2="472.8" y2="831.2" stroke="#333333" stroke-width="1.5"/>
<path d="M376.7 831.2 V819.2 H384.7" stroke="#333333" stroke-width="1.7" fill="none" stroke-linejoin="miter"/>
<path d="M384.2 817.0 L388.7 819.2 L384.2 821.4000000000001 Z" stroke="none" stroke-width="1.5" fill="#333333"/>
<circle cx="397.6" cy="819.2" r="3.1" fill="#fff" stroke="#333333" stroke-width="1.2"/>
<line x1="397.6" y1="822.3" x2="397.6" y2="831.2" stroke="#333333" stroke-width="1.2" stroke-dasharray="1.8 1.3"/>
<path d="M403.8 831.2 A4.3 4.3 0 0 1 412.40000000000003 831.2" stroke="#333333" stroke-width="1.2" fill="#fff"/>
<path d="M418.2 826.8000000000001 H436.4 V822.3000000000001 L448.9 831.2 L436.4 840.1 V835.6 H418.2 Z" fill="#1ba1dc" stroke="#222" stroke-width="0.9"/>
<line x1="454.3" y1="831.2" x2="454.3" y2="820.2" stroke="#333333" stroke-width="1.3"/>
<line x1="450.3" y1="820.2" x2="458.3" y2="820.2" stroke="#333333" stroke-width="1.3"/>
<text x="431.0" y="852.2" font-size="15.5" text-anchor="middle" textLength="24.0" lengthAdjust="spacingAndGlyphs" font-style="italic">luxI</text>
<line x1="372.7" y1="900.8" x2="466.0" y2="900.8" stroke="#333333" stroke-width="1.5"/>
<path d="M376.7 900.8 V888.8 H384.7" stroke="#333333" stroke-width="1.7" fill="none" stroke-linejoin="miter"/>
<path d="M384.2 886.5999999999999 L388.7 888.8 L384.2 891.0 Z" stroke="none" stroke-width="1.5" fill="#333333"/>
<circle cx="397.6" cy="888.8" r="3.1" fill="#fff" stroke="#333333" stroke-width="1.2"/>
<line x1="397.6" y1="891.9" x2="397.6" y2="900.8" stroke="#333333" stroke-width="1.2" stroke-dasharray="1.8 1.3"/>
<path d="M403.8 900.8 A4.3 4.3 0 0 1 412.40000000000003 900.8" stroke="#333333" stroke-width="1.2" fill="#fff"/>
<path d="M418.2 896.4 H436.4 V891.9 L448.9 900.8 L436.4 909.6999999999999 V905.1999999999999 H418.2 Z" fill="#8c3f8f" stroke="#222" stroke-width="0.9"/>
<line x1="454.3" y1="900.8" x2="454.3" y2="889.8" stroke="#333333" stroke-width="1.3"/>
<line x1="450.3" y1="889.8" x2="458.3" y2="889.8" stroke="#333333" stroke-width="1.3"/>
<text x="431.0" y="921.8" font-size="15.5" text-anchor="middle" textLength="24.0" lengthAdjust="spacingAndGlyphs" font-style="italic">cinI</text>
<line x1="372.7" y1="970.3" x2="540.3" y2="970.3" stroke="#333333" stroke-width="1.5"/>
<path d="M376.7 970.3 V958.3 H384.7" stroke="#333333" stroke-width="1.7" fill="none" stroke-linejoin="miter"/>
<path d="M384.2 956.0999999999999 L388.7 958.3 L384.2 960.5 Z" stroke="none" stroke-width="1.5" fill="#333333"/>
<circle cx="397.3" cy="958.3" r="3.1" fill="#fff" stroke="#333333" stroke-width="1.2"/>
<line x1="397.3" y1="961.4" x2="397.3" y2="970.3" stroke="#333333" stroke-width="1.2" stroke-dasharray="1.8 1.3"/>
<path d="M402.3 970.3 A4.3 4.3 0 0 1 410.90000000000003 970.3" stroke="#333333" stroke-width="1.2" fill="#fff"/>
<path d="M413 965.9 H430.9 V961.4 L443.4 970.3 L430.9 979.1999999999999 V974.6999999999999 H413 Z" fill="#1e9a4a" stroke="#222" stroke-width="0.9"/>
<path d="M445.0 970.3 A4.3 4.3 0 0 1 453.6 970.3" stroke="#333333" stroke-width="1.2" fill="#fff"/>
<path d="M455.8 965.9 H473.6 V961.4 L486.1 970.3 L473.6 979.1999999999999 V974.6999999999999 H455.8 Z" fill="#1e9a4a" stroke="#222" stroke-width="0.9"/>
<path d="M488.3 970.3 A4.3 4.3 0 0 1 496.90000000000003 970.3" stroke="#333333" stroke-width="1.2" fill="#fff"/>
<path d="M498.4 965.9 H516.3 V961.4 L528.8 970.3 L516.3 979.1999999999999 V974.6999999999999 H498.4 Z" fill="#1e9a4a" stroke="#222" stroke-width="0.9"/>
<text x="424.9" y="992.0" font-size="15.5" text-anchor="middle" textLength="26.0" lengthAdjust="spacingAndGlyphs" font-style="italic">rpaI</text>
<text x="474.4" y="992.0" font-size="15.5" text-anchor="middle" textLength="30.0" lengthAdjust="spacingAndGlyphs" font-style="italic">rpaL</text>
<text x="513.2" y="992.0" font-size="15.5" text-anchor="middle" textLength="26.0" lengthAdjust="spacingAndGlyphs" font-style="italic">talS</text>
<line x1="532.7" y1="970.3" x2="532.7" y2="959.3" stroke="#333333" stroke-width="1.3"/>
<line x1="528.7" y1="959.3" x2="536.7" y2="959.3" stroke="#333333" stroke-width="1.3"/>
<path d="M372.9 1038.7 H577.1 V1050 H372.9 Z" fill="#fff" stroke="#333333" stroke-width="1.4"/>
<path d="M376.7 1038.7 V1026.7 H384.7" stroke="#333333" stroke-width="1.7" fill="none" stroke-linejoin="miter"/>
<path d="M384.2 1024.5 L388.7 1026.7 L384.2 1028.9 Z" stroke="none" stroke-width="1.5" fill="#333333"/>
<circle cx="397.3" cy="1026.7" r="3.1" fill="#fff" stroke="#333333" stroke-width="1.2"/>
<line x1="397.3" y1="1029.8" x2="397.3" y2="1038.7" stroke="#333333" stroke-width="1.2" stroke-dasharray="1.8 1.3"/>
<path d="M399.5 1038.7 A4.3 4.3 0 0 1 408.1 1038.7" stroke="#333333" stroke-width="1.2" fill="#fff"/>
<path d="M410.3 1034.3 H428.1 V1029.8 L440.6 1038.7 L428.1 1047.6000000000001 V1043.1000000000001 H410.3 Z" fill="#f07f2d" stroke="#222" stroke-width="0.9"/>
<path d="M442.8 1038.7 A4.3 4.3 0 0 1 451.40000000000003 1038.7" stroke="#333333" stroke-width="1.2" fill="#fff"/>
<path d="M453.2 1034.3 H471.0 V1029.8 L483.5 1038.7 L471.0 1047.6000000000001 V1043.1000000000001 H453.2 Z" fill="#f07f2d" stroke="#222" stroke-width="0.9"/>
<path d="M485.0 1038.7 A4.3 4.3 0 0 1 493.6 1038.7" stroke="#333333" stroke-width="1.2" fill="#fff"/>
<path d="M495.8 1034.3 H513.2 V1029.8 L525.7 1038.7 L513.2 1047.6000000000001 V1043.1000000000001 H495.8 Z" fill="#f07f2d" stroke="#222" stroke-width="0.9"/>
<path d="M527.3000000000001 1038.7 A4.3 4.3 0 0 1 535.9 1038.7" stroke="#333333" stroke-width="1.2" fill="#fff"/>
<path d="M538.1 1034.3 H555.9 V1029.8 L568.4 1038.7 L555.9 1047.6000000000001 V1043.1000000000001 H538.1 Z" fill="#f07f2d" stroke="#222" stroke-width="0.9"/>
<line x1="571.2" y1="1038.7" x2="571.2" y2="1027.7" stroke="#333333" stroke-width="1.3"/>
<line x1="567.2" y1="1027.7" x2="575.2" y2="1027.7" stroke="#333333" stroke-width="1.3"/>
<circle cx="570.2" cy="1050.4" r="4" fill="#fff" stroke="#333333" stroke-width="1.3"/>
<text x="425.5" y="1068.4" font-size="15.5" text-anchor="middle" textLength="32.5" lengthAdjust="spacingAndGlyphs" font-style="italic">phlA</text>
<text x="468.2" y="1068.4" font-size="15.5" text-anchor="middle" textLength="33.6" lengthAdjust="spacingAndGlyphs" font-style="italic">phlC</text>
<text x="510.2" y="1068.4" font-size="15.5" text-anchor="middle" textLength="32.1" lengthAdjust="spacingAndGlyphs" font-style="italic">phlB</text>
<text x="552.7" y="1068.4" font-size="15.5" text-anchor="middle" textLength="33.6" lengthAdjust="spacingAndGlyphs" font-style="italic">phlD</text>
<line x1="679.5" y1="826.1" x2="729.2" y2="826.1" stroke="#333333" stroke-width="1.3"/>
<line x1="676.9" y1="828.8" x2="681.9" y2="823.4" stroke="#333333" stroke-width="1.3"/>
<line x1="726.8" y1="828.8" x2="731.8" y2="823.4" stroke="#333333" stroke-width="1.3"/>
<path d="M684.3000000000001 826.1 A4.3 4.3 0 0 1 692.9 826.1" stroke="#333333" stroke-width="1.2" fill="#fff"/>
<path d="M694.5 821.75 H712.7 V816.9 L724.6 826.1 L712.7 835.3000000000001 V830.45 H694.5 Z" fill="#1ba1dc" stroke="#222" stroke-width="0.9"/>
<line x1="748.3" y1="826.1" x2="769.7" y2="826.1" stroke="#333333" stroke-width="1.3"/>
<line x1="745.7" y1="828.8" x2="750.7" y2="823.4" stroke="#333333" stroke-width="1.3"/>
<line x1="767.3" y1="828.8" x2="772.3" y2="823.4" stroke="#333333" stroke-width="1.3"/>
<path d="M756.5 826.1 V813.7 H763.5" stroke="#333333" stroke-width="1.4" fill="none"/>
<path d="M763.0 811.5 L767.5 813.7 L763.0 815.9000000000001 Z" stroke="none" stroke-width="1.5" fill="#333333"/>
<line x1="679.5" y1="895.7" x2="729.2" y2="895.7" stroke="#333333" stroke-width="1.3"/>
<line x1="676.9" y1="898.4" x2="681.9" y2="893.0" stroke="#333333" stroke-width="1.3"/>
<line x1="726.8" y1="898.4" x2="731.8" y2="893.0" stroke="#333333" stroke-width="1.3"/>
<path d="M684.3000000000001 895.7 A4.3 4.3 0 0 1 692.9 895.7" stroke="#333333" stroke-width="1.2" fill="#fff"/>
<path d="M694.5 891.35 H712.7 V886.5 L724.6 895.7 L712.7 904.9000000000001 V900.0500000000001 H694.5 Z" fill="#8c3f8f" stroke="#222" stroke-width="0.9"/>
<line x1="748.3" y1="895.7" x2="769.7" y2="895.7" stroke="#333333" stroke-width="1.3"/>
<line x1="745.7" y1="898.4" x2="750.7" y2="893.0" stroke="#333333" stroke-width="1.3"/>
<line x1="767.3" y1="898.4" x2="772.3" y2="893.0" stroke="#333333" stroke-width="1.3"/>
<path d="M756.5 895.7 V883.3000000000001 H763.5" stroke="#333333" stroke-width="1.4" fill="none"/>
<path d="M763.0 881.1 L767.5 883.3000000000001 L763.0 885.5000000000001 Z" stroke="none" stroke-width="1.5" fill="#333333"/>
<line x1="679.5" y1="1041.7" x2="729.2" y2="1041.7" stroke="#333333" stroke-width="1.3"/>
<line x1="676.9" y1="1044.4" x2="681.9" y2="1039.0" stroke="#333333" stroke-width="1.3"/>
<line x1="726.8" y1="1044.4" x2="731.8" y2="1039.0" stroke="#333333" stroke-width="1.3"/>
<path d="M684.3000000000001 1041.7 A4.3 4.3 0 0 1 692.9 1041.7" stroke="#333333" stroke-width="1.2" fill="#fff"/>
<path d="M694.5 1037.3500000000001 H712.7 V1032.5 L724.6 1041.7 L712.7 1050.9 V1046.05 H694.5 Z" fill="#f07f2d" stroke="#222" stroke-width="0.9"/>
<line x1="748.3" y1="1041.7" x2="769.7" y2="1041.7" stroke="#333333" stroke-width="1.3"/>
<line x1="745.7" y1="1044.4" x2="750.7" y2="1039.0" stroke="#333333" stroke-width="1.3"/>
<line x1="767.3" y1="1044.4" x2="772.3" y2="1039.0" stroke="#333333" stroke-width="1.3"/>
<path d="M756.5 1041.7 V1029.3 H763.5" stroke="#333333" stroke-width="1.4" fill="none"/>
<path d="M763.0 1027.1 L767.5 1029.3 L763.0 1031.5 Z" stroke="none" stroke-width="1.5" fill="#333333"/>
<line x1="679.6" y1="968.3" x2="769.6" y2="968.3" stroke="#333333" stroke-width="1.3"/>
<line x1="677.0" y1="971.0" x2="682.0" y2="965.6" stroke="#333333" stroke-width="1.3"/>
<line x1="767.2" y1="971.0" x2="772.2" y2="965.6" stroke="#333333" stroke-width="1.3"/>
<line x1="685.0" y1="968.3" x2="685.0" y2="956.5" stroke="#333333" stroke-width="1.3"/>
<line x1="681.0" y1="956.5" x2="689.0" y2="956.5" stroke="#333333" stroke-width="1.3"/>
<path d="M718.7 964.0 H700.6 V959.8 L689.6 968.3 L700.6 976.8 V972.5999999999999 H718.7 Z" fill="#1e9a4a" stroke="#222" stroke-width="0.9"/>
<path d="M722.2 968.3 A4.3 4.3 0 0 1 730.8 968.3" stroke="#333333" stroke-width="1.2" fill="#fff"/>
<path d="M738.4 968.3 V955.4 H731.4" stroke="#333333" stroke-width="1.4" fill="none"/>
<path d="M731.9 953.1999999999999 L727.4 955.4 L731.9 957.6 Z" stroke="none" stroke-width="1.5" fill="#333333"/>
<line x1="749.0" y1="968.3" x2="749.0" y2="956.5" stroke="#333333" stroke-width="1.3"/>
<line x1="745.0" y1="956.5" x2="753.0" y2="956.5" stroke="#333333" stroke-width="1.3"/>
<path d="M757.8 968.3 V955.4 H765.3" stroke="#333333" stroke-width="1.4" fill="none"/>
<path d="M764.8 953.1999999999999 L769.3 955.4 L764.8 957.6 Z" stroke="none" stroke-width="1.5" fill="#333333"/>
<text x="687.8" y="852.1" font-size="15.5" textLength="28.0" lengthAdjust="spacingAndGlyphs" font-style="italic">luxR</text>
<text x="742.6" y="844.5" font-size="13">P</text>
<text x="751.1" y="850.1" font-size="10" textLength="24.4" lengthAdjust="spacingAndGlyphs">LuxB</text>
<text x="687.5" y="921.3" font-size="15.5" textLength="28.5" lengthAdjust="spacingAndGlyphs" font-style="italic">cinR</text>
<text x="716.5" y="913.5" font-size="10.5" textLength="17.5" lengthAdjust="spacingAndGlyphs" font-style="italic">AM</text>
<text x="742.6" y="914.0" font-size="13">P</text>
<text x="751.1" y="919.6" font-size="10" textLength="16.0" lengthAdjust="spacingAndGlyphs">Cin</text>
<text x="679.4" y="990.6" font-size="15.5" textLength="32.0" lengthAdjust="spacingAndGlyphs" font-style="italic">rpaR</text>
<text x="711.7" y="982.5" font-size="10.5" textLength="16.2" lengthAdjust="spacingAndGlyphs" font-style="italic">AM</text>
<text x="738.6" y="983.6" font-size="13">P</text>
<text x="746.9" y="989.7" font-size="10" textLength="31.2" lengthAdjust="spacingAndGlyphs">Rpa*A</text>
<text x="687.7" y="1064.2" font-size="15.5" textLength="29.5" lengthAdjust="spacingAndGlyphs" font-style="italic">phlF</text>
<text x="717.2" y="1056.3" font-size="10.5" textLength="17.2" lengthAdjust="spacingAndGlyphs" font-style="italic">AM</text>
<text x="742.7" y="1057.4" font-size="13">P</text>
<text x="751.3" y="1063.2" font-size="10" textLength="21.3" lengthAdjust="spacingAndGlyphs">PhlF</text>
<path d="M376.2 1082.5 V1086.8 H389.7 V1082.5 M383 1086.8 V1090.5" stroke="#333333" stroke-width="1.1" fill="none"/>
<text x="359.8" y="1106.8" font-size="17.5" textLength="51.1" lengthAdjust="spacingAndGlyphs">Inputs</text>
<path d="M755 1082.3 V1086.9 H768.5 V1082.3 M761.7 1086.9 V1090.5" stroke="#333333" stroke-width="1.1" fill="none"/>
<text x="728.3" y="1107.2" font-size="17.5" textLength="66.9" lengthAdjust="spacingAndGlyphs">Outputs</text>
<text x="834.0" y="786.0" font-size="26" font-weight="bold" fill="#1a1a1a" stroke="#1a1a1a" stroke-width="0.9">g</text>
<line x1="994.2" y1="794.2" x2="994.2" y2="1075.7" stroke="#d4d4d4" stroke-width="1"/>
<line x1="1098.4" y1="794.2" x2="1098.4" y2="1075.7" stroke="#d4d4d4" stroke-width="1"/>
<clipPath id="gclip"><rect x="896" y="794.2" width="282.8" height="281.5"/></clipPath>
<g clip-path="url(#gclip)">
<path d="M896.0 966.7 L897.6 966.7 L899.1 966.7 L900.7 966.7 L902.3 966.7 L903.9 966.7 L905.4 966.7 L907.0 966.7 L908.6 966.7 L910.2 966.7 L911.7 966.7 L913.3 966.7 L914.9 966.7 L916.5 966.7 L918.0 966.7 L919.6 966.7 L921.2 966.6 L922.7 966.6 L924.3 966.6 L925.9 966.6 L927.5 966.6 L929.0 966.6 L930.6 966.6 L932.2 966.6 L933.8 966.6 L935.3 966.6 L936.9 966.5 L938.5 966.5 L940.1 966.5 L941.6 966.5 L943.2 966.5 L944.8 966.4 L946.3 966.4 L947.9 966.4 L949.5 966.3 L951.1 966.3 L952.6 966.2 L954.2 966.2 L955.8 966.1 L957.4 966.1 L958.9 966.0 L960.5 965.9 L962.1 965.8 L963.7 965.7 L965.2 965.6 L966.8 965.5 L968.4 965.4 L969.9 965.3 L971.5 965.1 L973.1 964.9 L974.7 964.7 L976.2 964.5 L977.8 964.3 L979.4 964.0 L981.0 963.7 L982.5 963.4 L984.1 963.0 L985.7 962.6 L987.3 962.2 L988.8 961.8 L990.4 961.3 L992.0 960.7 L993.5 960.1 L995.1 959.4 L996.7 958.7 L998.3 958.0 L999.8 957.1 L1001.4 956.2 L1003.0 955.3 L1004.6 954.2 L1006.1 953.1 L1007.7 951.9 L1009.3 950.7 L1010.9 949.4 L1012.4 948.0 L1014.0 946.5 L1015.6 944.9 L1017.1 943.3 L1018.7 941.6 L1020.3 939.8 L1021.9 938.0 L1023.4 936.1 L1025.0 934.2 L1026.6 932.1 L1028.2 930.1 L1029.7 928.0 L1031.3 925.8 L1032.9 923.6 L1034.5 921.3 L1036.0 919.1 L1037.6 916.8 L1039.2 914.4 L1040.7 912.1 L1042.3 909.7 L1043.9 907.3 L1045.5 904.9 L1047.0 902.5 L1048.6 900.1 L1050.2 897.7 L1051.8 895.3 L1053.3 892.9 L1054.9 890.6 L1056.5 888.3 L1058.1 885.9 L1059.6 883.7 L1061.2 881.4 L1062.8 879.2 L1064.4 877.0 L1065.9 874.9 L1067.5 872.8 L1069.1 870.8 L1070.6 868.9 L1072.2 867.0 L1073.8 865.1 L1075.4 863.4 L1076.9 861.7 L1078.5 860.0 L1080.1 858.5 L1081.7 857.0 L1083.2 855.6 L1084.8 854.2 L1086.4 853.0 L1088.0 851.8 L1089.5 850.7 L1091.1 849.7 L1092.7 848.7 L1094.2 847.8 L1095.8 847.0 L1097.4 846.2 L1099.0 845.5 L1100.5 844.8 L1102.1 844.2 L1103.7 843.6 L1105.3 843.1 L1106.8 842.7 L1108.4 842.2 L1110.0 841.8 L1111.6 841.5 L1113.1 841.2 L1114.7 840.9 L1116.3 840.6 L1117.8 840.4 L1119.4 840.2 L1121.0 840.0 L1122.6 839.8 L1124.1 839.6 L1125.7 839.5 L1127.3 839.3 L1128.9 839.2 L1130.4 839.1 L1132.0 839.0 L1133.6 838.9 L1135.2 838.9 L1136.7 838.8 L1138.3 838.7 L1139.9 838.7 L1141.4 838.6 L1143.0 838.6 L1144.6 838.5 L1146.2 838.5 L1147.7 838.5 L1149.3 838.4 L1150.9 838.4 L1152.5 838.4 L1154.0 838.4 L1155.6 838.3 L1157.2 838.3 L1158.8 838.3 L1160.3 838.3 L1161.9 838.3 L1163.5 838.3 L1165.0 838.2 L1166.6 838.2 L1168.2 838.2 L1169.8 838.2 L1171.3 838.2 L1172.9 838.2 L1174.5 838.2 L1176.1 838.2 L1177.6 838.2 L1179.2 838.2" stroke="#1ba1dc" stroke-width="2.7" fill="none"/>
<path d="M896.0 995.9 L897.6 995.9 L899.1 995.9 L900.7 995.9 L902.3 995.9 L903.9 995.9 L905.4 995.9 L907.0 995.9 L908.6 995.9 L910.2 995.9 L911.7 995.9 L913.3 995.9 L914.9 995.9 L916.5 995.9 L918.0 995.9 L919.6 995.9 L921.2 995.9 L922.7 995.9 L924.3 995.9 L925.9 995.9 L927.5 995.9 L929.0 995.9 L930.6 995.9 L932.2 995.9 L933.8 995.9 L935.3 995.9 L936.9 995.9 L938.5 995.8 L940.1 995.8 L941.6 995.8 L943.2 995.8 L944.8 995.8 L946.3 995.8 L947.9 995.7 L949.5 995.7 L951.1 995.7 L952.6 995.7 L954.2 995.6 L955.8 995.6 L957.4 995.6 L958.9 995.5 L960.5 995.5 L962.1 995.4 L963.7 995.3 L965.2 995.3 L966.8 995.2 L968.4 995.1 L969.9 995.0 L971.5 994.9 L973.1 994.8 L974.7 994.7 L976.2 994.5 L977.8 994.3 L979.4 994.2 L981.0 994.0 L982.5 993.7 L984.1 993.5 L985.7 993.2 L987.3 992.9 L988.8 992.6 L990.4 992.2 L992.0 991.8 L993.5 991.4 L995.1 990.9 L996.7 990.4 L998.3 989.8 L999.8 989.2 L1001.4 988.5 L1003.0 987.8 L1004.6 987.0 L1006.1 986.1 L1007.7 985.2 L1009.3 984.1 L1010.9 983.1 L1012.4 981.9 L1014.0 980.7 L1015.6 979.4 L1017.1 978.0 L1018.7 976.5 L1020.3 974.9 L1021.9 973.3 L1023.4 971.6 L1025.0 969.8 L1026.6 968.0 L1028.2 966.0 L1029.7 964.0 L1031.3 962.0 L1032.9 959.9 L1034.5 957.7 L1036.0 955.4 L1037.6 953.2 L1039.2 950.8 L1040.7 948.5 L1042.3 946.0 L1043.9 943.6 L1045.5 941.1 L1047.0 938.6 L1048.6 936.1 L1050.2 933.5 L1051.8 931.0 L1053.3 928.4 L1054.9 925.8 L1056.5 923.2 L1058.1 920.6 L1059.6 918.0 L1061.2 915.4 L1062.8 912.8 L1064.4 910.2 L1065.9 907.6 L1067.5 905.1 L1069.1 902.5 L1070.6 900.0 L1072.2 897.5 L1073.8 895.1 L1075.4 892.6 L1076.9 890.3 L1078.5 887.9 L1080.1 885.6 L1081.7 883.4 L1083.2 881.2 L1084.8 879.0 L1086.4 877.0 L1088.0 875.0 L1089.5 873.0 L1091.1 871.1 L1092.7 869.3 L1094.2 867.6 L1095.8 866.0 L1097.4 864.4 L1099.0 862.9 L1100.5 861.5 L1102.1 860.1 L1103.7 858.9 L1105.3 857.7 L1106.8 856.6 L1108.4 855.6 L1110.0 854.6 L1111.6 853.7 L1113.1 852.9 L1114.7 852.2 L1116.3 851.5 L1117.8 850.8 L1119.4 850.2 L1121.0 849.7 L1122.6 849.2 L1124.1 848.8 L1125.7 848.3 L1127.3 848.0 L1128.9 847.6 L1130.4 847.3 L1132.0 847.1 L1133.6 846.8 L1135.2 846.6 L1136.7 846.4 L1138.3 846.2 L1139.9 846.0 L1141.4 845.9 L1143.0 845.7 L1144.6 845.6 L1146.2 845.5 L1147.7 845.4 L1149.3 845.3 L1150.9 845.2 L1152.5 845.2 L1154.0 845.1 L1155.6 845.0 L1157.2 845.0 L1158.8 845.0 L1160.3 844.9 L1161.9 844.9 L1163.5 844.8 L1165.0 844.8 L1166.6 844.8 L1168.2 844.8 L1169.8 844.7 L1171.3 844.7 L1172.9 844.7 L1174.5 844.7 L1176.1 844.7 L1177.6 844.7 L1179.2 844.6" stroke="#1e9a4a" stroke-width="2.7" fill="none"/>
<path d="M896.0 995.9 L897.6 995.9 L899.1 995.9 L900.7 995.9 L902.3 995.9 L903.9 995.9 L905.4 995.9 L907.0 995.9 L908.6 995.9 L910.2 995.9 L911.7 995.9 L913.3 995.9 L914.9 995.9 L916.5 995.9 L918.0 995.9 L919.6 995.9 L921.2 995.9 L922.7 995.9 L924.3 995.9 L925.9 995.9 L927.5 995.9 L929.0 995.9 L930.6 995.9 L932.2 995.9 L933.8 995.9 L935.3 995.9 L936.9 995.9 L938.5 995.9 L940.1 995.9 L941.6 995.9 L943.2 995.9 L944.8 995.9 L946.3 995.9 L947.9 995.9 L949.5 995.9 L951.1 995.9 L952.6 995.9 L954.2 995.9 L955.8 995.9 L957.4 995.9 L958.9 995.9 L960.5 995.9 L962.1 995.9 L963.7 995.9 L965.2 995.9 L966.8 995.9 L968.4 995.9 L969.9 995.9 L971.5 995.9 L973.1 995.9 L974.7 995.9 L976.2 995.9 L977.8 995.9 L979.4 995.9 L981.0 995.9 L982.5 995.9 L984.1 995.9 L985.7 995.9 L987.3 995.9 L988.8 995.9 L990.4 995.9 L992.0 995.9 L993.5 995.9 L995.1 995.9 L996.7 995.9 L998.3 995.9 L999.8 995.9 L1001.4 995.9 L1003.0 995.9 L1004.6 995.9 L1006.1 995.9 L1007.7 995.9 L1009.3 995.9 L1010.9 995.9 L1012.4 995.9 L1014.0 995.9 L1015.6 995.9 L1017.1 995.9 L1018.7 995.9 L1020.3 995.9 L1021.9 995.9 L1023.4 995.9 L1025.0 995.9 L1026.6 995.9 L1028.2 995.9 L1029.7 995.9 L1031.3 995.9 L1032.9 995.9 L1034.5 995.9 L1036.0 995.9 L1037.6 995.9 L1039.2 995.9 L1040.7 995.9 L1042.3 995.9 L1043.9 995.9 L1045.5 995.9 L1047.0 995.9 L1048.6 995.9 L1050.2 995.9 L1051.8 995.9 L1053.3 995.9 L1054.9 995.9 L1056.5 995.9 L1058.1 995.9 L1059.6 995.9 L1061.2 995.9 L1062.8 995.9 L1064.4 995.9 L1065.9 995.9 L1067.5 995.9 L1069.1 995.8 L1070.6 995.8 L1072.2 995.7 L1073.8 995.7 L1075.4 995.6 L1076.9 995.5 L1078.5 995.4 L1080.1 995.3 L1081.7 995.1 L1083.2 994.9 L1084.8 994.6 L1086.4 994.3 L1088.0 993.9 L1089.5 993.4 L1091.1 992.7 L1092.7 991.9 L1094.2 990.9 L1095.8 989.7 L1097.4 988.2 L1099.0 986.5 L1100.5 984.4 L1102.1 982.0 L1103.7 979.3 L1105.3 976.2 L1106.8 972.7 L1108.4 968.9 L1110.0 964.7 L1111.6 960.2 L1113.1 955.5 L1114.7 950.5 L1116.3 945.4 L1117.8 940.1 L1119.4 934.8 L1121.0 929.4 L1122.6 924.0 L1124.1 918.6 L1125.7 913.3 L1127.3 908.1 L1128.9 903.0 L1130.4 898.2 L1132.0 893.6 L1133.6 889.3 L1135.2 885.3 L1136.7 881.7 L1138.3 878.4 L1139.9 875.5 L1141.4 872.9 L1143.0 870.7 L1144.6 868.9 L1146.2 867.3 L1147.7 866.0 L1149.3 864.9 L1150.9 864.0 L1152.5 863.3 L1154.0 862.7 L1155.6 862.2 L1157.2 861.9 L1158.8 861.6 L1160.3 861.3 L1161.9 861.1 L1163.5 861.0 L1165.0 860.9 L1166.6 860.8 L1168.2 860.7 L1169.8 860.6 L1171.3 860.6 L1172.9 860.6 L1174.5 860.5 L1176.1 860.5 L1177.6 860.5 L1179.2 860.5" stroke="#f07f2d" stroke-width="2.7" fill="none"/>
<path d="M896.0 1014.4 L897.6 1014.4 L899.1 1014.4 L900.7 1014.4 L902.3 1014.4 L903.9 1014.4 L905.4 1014.4 L907.0 1014.4 L908.6 1014.4 L910.2 1014.4 L911.7 1014.4 L913.3 1014.4 L914.9 1014.4 L916.5 1014.4 L918.0 1014.4 L919.6 1014.4 L921.2 1014.4 L922.7 1014.4 L924.3 1014.4 L925.9 1014.4 L927.5 1014.4 L929.0 1014.4 L930.6 1014.4 L932.2 1014.4 L933.8 1014.4 L935.3 1014.4 L936.9 1014.4 L938.5 1014.4 L940.1 1014.4 L941.6 1014.4 L943.2 1014.4 L944.8 1014.4 L946.3 1014.4 L947.9 1014.4 L949.5 1014.4 L951.1 1014.4 L952.6 1014.4 L954.2 1014.4 L955.8 1014.4 L957.4 1014.4 L958.9 1014.4 L960.5 1014.4 L962.1 1014.4 L963.7 1014.4 L965.2 1014.4 L966.8 1014.4 L968.4 1014.4 L969.9 1014.4 L971.5 1014.4 L973.1 1014.4 L974.7 1014.4 L976.2 1014.4 L977.8 1014.4 L979.4 1014.4 L981.0 1014.4 L982.5 1014.4 L984.1 1014.4 L985.7 1014.4 L987.3 1014.4 L988.8 1014.4 L990.4 1014.4 L992.0 1014.4 L993.5 1014.4 L995.1 1014.4 L996.7 1014.4 L998.3 1014.4 L999.8 1014.4 L1001.4 1014.4 L1003.0 1014.4 L1004.6 1014.4 L1006.1 1014.4 L1007.7 1014.4 L1009.3 1014.4 L1010.9 1014.4 L1012.4 1014.4 L1014.0 1014.4 L1015.6 1014.4 L1017.1 1014.4 L1018.7 1014.4 L1020.3 1014.4 L1021.9 1014.4 L1023.4 1014.4 L1025.0 1014.4 L1026.6 1014.3 L1028.2 1014.3 L1029.7 1014.3 L1031.3 1014.3 L1032.9 1014.3 L1034.5 1014.2 L1036.0 1014.2 L1037.6 1014.1 L1039.2 1014.0 L1040.7 1014.0 L1042.3 1013.8 L1043.9 1013.7 L1045.5 1013.5 L1047.0 1013.3 L1048.6 1013.0 L1050.2 1012.7 L1051.8 1012.3 L1053.3 1011.7 L1054.9 1011.1 L1056.5 1010.3 L1058.1 1009.4 L1059.6 1008.2 L1061.2 1006.9 L1062.8 1005.2 L1064.4 1003.3 L1065.9 1001.1 L1067.5 998.5 L1069.1 995.6 L1070.6 992.4 L1072.2 988.8 L1073.8 984.9 L1075.4 980.7 L1076.9 976.3 L1078.5 971.6 L1080.1 966.7 L1081.7 961.6 L1083.2 956.4 L1084.8 951.1 L1086.4 945.8 L1088.0 940.3 L1089.5 934.9 L1091.1 929.5 L1092.7 924.1 L1094.2 918.8 L1095.8 913.6 L1097.4 908.5 L1099.0 903.6 L1100.5 898.9 L1102.1 894.4 L1103.7 890.2 L1105.3 886.3 L1106.8 882.7 L1108.4 879.4 L1110.0 876.5 L1111.6 873.9 L1113.1 871.7 L1114.7 869.7 L1116.3 868.1 L1117.8 866.7 L1119.4 865.5 L1121.0 864.6 L1122.6 863.8 L1124.1 863.1 L1125.7 862.6 L1127.3 862.2 L1128.9 861.8 L1130.4 861.5 L1132.0 861.3 L1133.6 861.1 L1135.2 861.0 L1136.7 860.9 L1138.3 860.8 L1139.9 860.7 L1141.4 860.7 L1143.0 860.6 L1144.6 860.6 L1146.2 860.5 L1147.7 860.5 L1149.3 860.5 L1150.9 860.5 L1152.5 860.5 L1154.0 860.5 L1155.6 860.5 L1157.2 860.4 L1158.8 860.4 L1160.3 860.4 L1161.9 860.4 L1163.5 860.4 L1165.0 860.4 L1166.6 860.4 L1168.2 860.4 L1169.8 860.4 L1171.3 860.4 L1172.9 860.4 L1174.5 860.4 L1176.1 860.4 L1177.6 860.4 L1179.2 860.4" stroke="#8c3f8f" stroke-width="2.7" fill="none"/>
</g>
<rect x="896" y="794.2" width="282.8" height="281.5" fill="none" stroke="#333" stroke-width="1.3"/>
<line x1="896.0" y1="1075.7" x2="902.5" y2="1075.7" stroke="#333" stroke-width="1.1"/>
<line x1="896.0" y1="1075.7" x2="896.0" y2="1069.2" stroke="#333" stroke-width="1.1"/>
<line x1="896.0" y1="1057.2" x2="899.8" y2="1057.2" stroke="#333" stroke-width="1.1"/>
<line x1="914.5" y1="1075.7" x2="914.5" y2="1071.9" stroke="#333" stroke-width="1.1"/>
<line x1="896.0" y1="1046.5" x2="899.8" y2="1046.5" stroke="#333" stroke-width="1.1"/>
<line x1="925.2" y1="1075.7" x2="925.2" y2="1071.9" stroke="#333" stroke-width="1.1"/>
<line x1="896.0" y1="1038.8" x2="899.8" y2="1038.8" stroke="#333" stroke-width="1.1"/>
<line x1="932.9" y1="1075.7" x2="932.9" y2="1071.9" stroke="#333" stroke-width="1.1"/>
<line x1="896.0" y1="1032.9" x2="899.8" y2="1032.9" stroke="#333" stroke-width="1.1"/>
<line x1="938.8" y1="1075.7" x2="938.8" y2="1071.9" stroke="#333" stroke-width="1.1"/>
<line x1="896.0" y1="1028.0" x2="899.8" y2="1028.0" stroke="#333" stroke-width="1.1"/>
<line x1="943.7" y1="1075.7" x2="943.7" y2="1071.9" stroke="#333" stroke-width="1.1"/>
<line x1="896.0" y1="1023.9" x2="899.8" y2="1023.9" stroke="#333" stroke-width="1.1"/>
<line x1="947.8" y1="1075.7" x2="947.8" y2="1071.9" stroke="#333" stroke-width="1.1"/>
<line x1="896.0" y1="1020.3" x2="899.8" y2="1020.3" stroke="#333" stroke-width="1.1"/>
<line x1="951.4" y1="1075.7" x2="951.4" y2="1071.9" stroke="#333" stroke-width="1.1"/>
<line x1="896.0" y1="1017.2" x2="899.8" y2="1017.2" stroke="#333" stroke-width="1.1"/>
<line x1="954.5" y1="1075.7" x2="954.5" y2="1071.9" stroke="#333" stroke-width="1.1"/>
<line x1="896.0" y1="1014.4" x2="902.5" y2="1014.4" stroke="#333" stroke-width="1.1"/>
<line x1="957.3" y1="1075.7" x2="957.3" y2="1069.2" stroke="#333" stroke-width="1.1"/>
<line x1="896.0" y1="995.9" x2="899.8" y2="995.9" stroke="#333" stroke-width="1.1"/>
<line x1="975.8" y1="1075.7" x2="975.8" y2="1071.9" stroke="#333" stroke-width="1.1"/>
<line x1="896.0" y1="985.2" x2="899.8" y2="985.2" stroke="#333" stroke-width="1.1"/>
<line x1="986.5" y1="1075.7" x2="986.5" y2="1071.9" stroke="#333" stroke-width="1.1"/>
<line x1="896.0" y1="977.5" x2="899.8" y2="977.5" stroke="#333" stroke-width="1.1"/>
<line x1="994.2" y1="1075.7" x2="994.2" y2="1071.9" stroke="#333" stroke-width="1.1"/>
<line x1="896.0" y1="971.6" x2="899.8" y2="971.6" stroke="#333" stroke-width="1.1"/>
<line x1="1000.1" y1="1075.7" x2="1000.1" y2="1071.9" stroke="#333" stroke-width="1.1"/>
<line x1="896.0" y1="966.7" x2="899.8" y2="966.7" stroke="#333" stroke-width="1.1"/>
<line x1="1005.0" y1="1075.7" x2="1005.0" y2="1071.9" stroke="#333" stroke-width="1.1"/>
<line x1="896.0" y1="962.6" x2="899.8" y2="962.6" stroke="#333" stroke-width="1.1"/>
<line x1="1009.1" y1="1075.7" x2="1009.1" y2="1071.9" stroke="#333" stroke-width="1.1"/>
<line x1="896.0" y1="959.0" x2="899.8" y2="959.0" stroke="#333" stroke-width="1.1"/>
<line x1="1012.7" y1="1075.7" x2="1012.7" y2="1071.9" stroke="#333" stroke-width="1.1"/>
<line x1="896.0" y1="955.9" x2="899.8" y2="955.9" stroke="#333" stroke-width="1.1"/>
<line x1="1015.8" y1="1075.7" x2="1015.8" y2="1071.9" stroke="#333" stroke-width="1.1"/>
<line x1="896.0" y1="953.1" x2="902.5" y2="953.1" stroke="#333" stroke-width="1.1"/>
<line x1="1018.6" y1="1075.7" x2="1018.6" y2="1069.2" stroke="#333" stroke-width="1.1"/>
<line x1="896.0" y1="934.6" x2="899.8" y2="934.6" stroke="#333" stroke-width="1.1"/>
<line x1="1037.1" y1="1075.7" x2="1037.1" y2="1071.9" stroke="#333" stroke-width="1.1"/>
<line x1="896.0" y1="923.9" x2="899.8" y2="923.9" stroke="#333" stroke-width="1.1"/>
<line x1="1047.8" y1="1075.7" x2="1047.8" y2="1071.9" stroke="#333" stroke-width="1.1"/>
<line x1="896.0" y1="916.2" x2="899.8" y2="916.2" stroke="#333" stroke-width="1.1"/>
<line x1="1055.5" y1="1075.7" x2="1055.5" y2="1071.9" stroke="#333" stroke-width="1.1"/>
<line x1="896.0" y1="910.3" x2="899.8" y2="910.3" stroke="#333" stroke-width="1.1"/>
<line x1="1061.4" y1="1075.7" x2="1061.4" y2="1071.9" stroke="#333" stroke-width="1.1"/>
<line x1="896.0" y1="905.4" x2="899.8" y2="905.4" stroke="#333" stroke-width="1.1"/>
<line x1="1066.3" y1="1075.7" x2="1066.3" y2="1071.9" stroke="#333" stroke-width="1.1"/>
<line x1="896.0" y1="901.3" x2="899.8" y2="901.3" stroke="#333" stroke-width="1.1"/>
<line x1="1070.4" y1="1075.7" x2="1070.4" y2="1071.9" stroke="#333" stroke-width="1.1"/>
<line x1="896.0" y1="897.7" x2="899.8" y2="897.7" stroke="#333" stroke-width="1.1"/>
<line x1="1074.0" y1="1075.7" x2="1074.0" y2="1071.9" stroke="#333" stroke-width="1.1"/>
<line x1="896.0" y1="894.6" x2="899.8" y2="894.6" stroke="#333" stroke-width="1.1"/>
<line x1="1077.1" y1="1075.7" x2="1077.1" y2="1071.9" stroke="#333" stroke-width="1.1"/>
<line x1="896.0" y1="891.8" x2="902.5" y2="891.8" stroke="#333" stroke-width="1.1"/>
<line x1="1079.9" y1="1075.7" x2="1079.9" y2="1069.2" stroke="#333" stroke-width="1.1"/>
<line x1="896.0" y1="873.3" x2="899.8" y2="873.3" stroke="#333" stroke-width="1.1"/>
<line x1="1098.4" y1="1075.7" x2="1098.4" y2="1071.9" stroke="#333" stroke-width="1.1"/>
<line x1="896.0" y1="862.6" x2="899.8" y2="862.6" stroke="#333" stroke-width="1.1"/>
<line x1="1109.1" y1="1075.7" x2="1109.1" y2="1071.9" stroke="#333" stroke-width="1.1"/>
<line x1="896.0" y1="854.9" x2="899.8" y2="854.9" stroke="#333" stroke-width="1.1"/>
<line x1="1116.8" y1="1075.7" x2="1116.8" y2="1071.9" stroke="#333" stroke-width="1.1"/>
<line x1="896.0" y1="849.0" x2="899.8" y2="849.0" stroke="#333" stroke-width="1.1"/>
<line x1="1122.7" y1="1075.7" x2="1122.7" y2="1071.9" stroke="#333" stroke-width="1.1"/>
<line x1="896.0" y1="844.1" x2="899.8" y2="844.1" stroke="#333" stroke-width="1.1"/>
<line x1="1127.6" y1="1075.7" x2="1127.6" y2="1071.9" stroke="#333" stroke-width="1.1"/>
<line x1="896.0" y1="840.0" x2="899.8" y2="840.0" stroke="#333" stroke-width="1.1"/>
<line x1="1131.7" y1="1075.7" x2="1131.7" y2="1071.9" stroke="#333" stroke-width="1.1"/>
<line x1="896.0" y1="836.4" x2="899.8" y2="836.4" stroke="#333" stroke-width="1.1"/>
<line x1="1135.3" y1="1075.7" x2="1135.3" y2="1071.9" stroke="#333" stroke-width="1.1"/>
<line x1="896.0" y1="833.3" x2="899.8" y2="833.3" stroke="#333" stroke-width="1.1"/>
<line x1="1138.4" y1="1075.7" x2="1138.4" y2="1071.9" stroke="#333" stroke-width="1.1"/>
<line x1="896.0" y1="830.5" x2="902.5" y2="830.5" stroke="#333" stroke-width="1.1"/>
<line x1="1141.2" y1="1075.7" x2="1141.2" y2="1069.2" stroke="#333" stroke-width="1.1"/>
<line x1="896.0" y1="812.0" x2="899.8" y2="812.0" stroke="#333" stroke-width="1.1"/>
<line x1="1159.7" y1="1075.7" x2="1159.7" y2="1071.9" stroke="#333" stroke-width="1.1"/>
<line x1="896.0" y1="801.3" x2="899.8" y2="801.3" stroke="#333" stroke-width="1.1"/>
<line x1="1170.4" y1="1075.7" x2="1170.4" y2="1071.9" stroke="#333" stroke-width="1.1"/>
<line x1="1178.1" y1="1075.7" x2="1178.1" y2="1071.9" stroke="#333" stroke-width="1.1"/>
<text x="890.0" y="837.0" font-size="15.6" text-anchor="end">10<tspan dy="-7.0" font-size="11.2">0</tspan></text>
<text x="1141.2" y="1098.4" font-size="15.6" text-anchor="middle">10<tspan dy="-7.0" font-size="11.2">0</tspan></text>
<text x="890.0" y="898.3" font-size="15.6" text-anchor="end">10<tspan dy="-7.0" font-size="11.2" textLength="9.6" lengthAdjust="spacingAndGlyphs">–1</tspan></text>
<text x="1079.9" y="1098.4" font-size="15.6" text-anchor="middle">10<tspan dy="-7.0" font-size="11.2" textLength="9.6" lengthAdjust="spacingAndGlyphs">–1</tspan></text>
<text x="890.0" y="959.6" font-size="15.6" text-anchor="end">10<tspan dy="-7.0" font-size="11.2" textLength="12.0" lengthAdjust="spacingAndGlyphs">–2</tspan></text>
<text x="1018.6" y="1098.4" font-size="15.6" text-anchor="middle">10<tspan dy="-7.0" font-size="11.2" textLength="12.0" lengthAdjust="spacingAndGlyphs">–2</tspan></text>
<text x="890.0" y="1020.9" font-size="15.6" text-anchor="end">10<tspan dy="-7.0" font-size="11.2" textLength="12.0" lengthAdjust="spacingAndGlyphs">–3</tspan></text>
<text x="957.3" y="1098.4" font-size="15.6" text-anchor="middle">10<tspan dy="-7.0" font-size="11.2" textLength="12.0" lengthAdjust="spacingAndGlyphs">–3</tspan></text>
<text x="890.0" y="1082.2" font-size="15.6" text-anchor="end">10<tspan dy="-7.0" font-size="11.2" textLength="12.0" lengthAdjust="spacingAndGlyphs">–4</tspan></text>
<text x="896.0" y="1098.4" font-size="15.6" text-anchor="middle">10<tspan dy="-7.0" font-size="11.2" textLength="12.0" lengthAdjust="spacingAndGlyphs">–4</tspan></text>
<text x="1037.9" y="1123.7" font-size="17.5" text-anchor="middle" textLength="120.0" lengthAdjust="spacingAndGlyphs">Input (RNAP/s)</text>
<text x="845.0" y="935.5" font-size="17.5" text-anchor="middle" textLength="136.0" lengthAdjust="spacingAndGlyphs" transform="rotate(-90 845.0 935.5)">Output (RNAP/s)</text></svg></body></html>
